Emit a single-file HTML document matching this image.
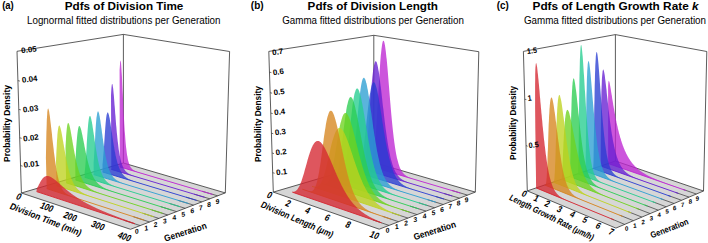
<!DOCTYPE html>
<html><head><meta charset="utf-8"><style>
html,body{margin:0;padding:0;background:#fff;}
body{width:708px;height:243px;overflow:hidden;}
svg{display:block;font-family:"Liberation Sans",sans-serif;}
</style></head><body>
<svg width="708" height="243" viewBox="0 0 708 243">
<polygon points="21.4,193.0 130.5,229.3 225.3,192.9 123.4,163.0" fill="#d6d6d6" stroke="none"/>
<line x1="17.0" y1="51.3" x2="123.4" y2="34.4" stroke="#333" stroke-width="0.8"/>
<line x1="123.4" y1="34.4" x2="229.6" y2="51.5" stroke="#333" stroke-width="0.8"/>
<line x1="21.4" y1="193.0" x2="17.0" y2="51.3" stroke="#333" stroke-width="0.8"/>
<line x1="123.4" y1="163.0" x2="123.4" y2="34.4" stroke="#333" stroke-width="0.8"/>
<line x1="225.3" y1="192.9" x2="229.6" y2="51.5" stroke="#333" stroke-width="0.8"/>
<line x1="123.4" y1="163.0" x2="225.3" y2="192.9" stroke="#333" stroke-width="0.8"/>
<line x1="21.4" y1="193.0" x2="123.4" y2="163.0" stroke="#333" stroke-width="0.8"/>
<line x1="123.7" y1="220.2" x2="140.2" y2="225.6" stroke="#333" stroke-width="0.7"/>
<line x1="133.3" y1="216.7" x2="149.6" y2="222.0" stroke="#333" stroke-width="0.7"/>
<line x1="142.6" y1="213.2" x2="158.8" y2="218.4" stroke="#333" stroke-width="0.7"/>
<line x1="151.7" y1="209.9" x2="167.8" y2="215.0" stroke="#333" stroke-width="0.7"/>
<line x1="160.6" y1="206.6" x2="176.6" y2="211.6" stroke="#333" stroke-width="0.7"/>
<line x1="169.3" y1="203.4" x2="185.2" y2="208.3" stroke="#333" stroke-width="0.7"/>
<line x1="177.8" y1="200.3" x2="193.6" y2="205.1" stroke="#333" stroke-width="0.7"/>
<line x1="186.1" y1="197.2" x2="201.8" y2="201.9" stroke="#333" stroke-width="0.7"/>
<line x1="194.2" y1="194.2" x2="209.8" y2="198.8" stroke="#333" stroke-width="0.7"/>
<line x1="202.2" y1="191.3" x2="217.6" y2="195.8" stroke="#333" stroke-width="0.7"/>
<line x1="20.6" y1="165.6" x2="22.6" y2="166.2" stroke="#333" stroke-width="0.7"/>
<line x1="19.7" y1="137.8" x2="21.7" y2="138.3" stroke="#333" stroke-width="0.7"/>
<line x1="18.8" y1="109.4" x2="20.8" y2="109.9" stroke="#333" stroke-width="0.7"/>
<line x1="17.9" y1="80.6" x2="19.9" y2="81.1" stroke="#333" stroke-width="0.7"/>
<polygon points="119.6,70.1 119.9,65.7 120.1,62.6 120.3,60.9 120.5,60.4 120.7,61.0 121.0,62.6 121.2,65.0 121.4,68.1 121.6,71.8 121.9,75.9 122.1,80.3 122.3,84.9 122.5,89.6 122.8,94.3 123.0,99.0 123.2,103.6 123.4,108.1 123.6,112.4 123.9,116.5 124.1,120.5 124.3,124.2 124.5,127.8 124.7,131.1 125.0,134.2 125.2,137.1 125.4,139.8 125.6,142.3 125.8,144.6 126.0,146.8 126.3,148.8 126.5,150.6 126.7,152.3 126.9,153.8 127.1,155.2 127.4,156.6 127.6,157.8 127.8,158.9 128.0,159.9 128.2,160.8 128.4,161.6 128.7,162.4 128.9,163.1 129.1,163.8 129.3,164.4 129.5,165.0 129.8,165.5 130.0,165.9 130.2,166.4 130.4,166.8 130.6,167.1 130.8,167.5 131.1,167.8 131.3,168.1 131.5,168.3 131.7,168.6 131.9,168.8 132.2,169.0 132.4,169.2 132.6,169.4 132.8,169.6 133.0,169.8 133.3,169.9 133.5,170.1 133.7,170.2 133.9,170.4 134.1,170.5 134.4,170.6 134.6,170.7 134.8,170.8 135.0,171.0 135.2,171.1 135.5,171.2 135.7,171.3 135.9,171.4 136.1,171.4 136.4,171.5 136.6,171.6 136.8,171.7 137.0,171.8 137.2,171.9 137.5,172.0 137.7,172.0 137.9,172.1 138.1,172.2 138.3,172.3 138.6,172.3 138.8,172.4 139.0,172.5 139.2,172.6 139.5,172.6 139.7,172.7 139.9,172.8 140.1,172.9 140.4,172.9 140.6,173.0 140.8,173.1 141.0,173.1 141.2,173.2 141.5,173.3 141.7,173.3 141.9,173.4 142.1,173.5 142.4,173.5 142.6,173.6 142.8,173.7 143.0,173.8 143.3,173.8 143.5,173.9 143.7,174.0 143.9,174.0 144.2,174.1 144.4,174.2 144.6,174.2 144.8,174.3 145.1,174.4 145.3,174.4 145.5,174.5 145.7,174.6 146.0,174.6 146.2,174.7 146.4,174.8 146.6,174.8 146.9,174.9 147.1,175.0 147.3,175.0 147.5,175.1 147.8,175.2 148.0,175.2 148.2,175.3 148.4,175.4 148.7,175.4 148.9,175.5 149.1,175.6 149.3,175.6 149.6,175.7 149.8,175.8 150.0,175.8 150.3,175.9 150.5,176.0 150.7,176.0 150.9,176.1 151.2,176.2 151.4,176.2 151.6,176.3 151.8,176.4 152.1,176.4 152.3,176.5 152.5,176.6 152.8,176.7 153.0,176.7 153.2,176.8 153.4,176.9 153.7,176.9 153.9,177.0 154.1,177.1 154.4,177.1 154.6,177.2 154.8,177.3 155.0,177.3 155.3,177.4 155.5,177.5 155.7,177.5 156.0,177.6 156.2,177.7 156.4,177.7 156.6,177.8 156.9,177.9 157.1,177.9 157.3,178.0 157.6,178.1 157.8,178.1 158.0,178.2 158.2,178.3 158.5,178.3 158.7,178.4 158.9,178.5 159.2,178.6 159.4,178.6 159.6,178.7 159.9,178.8 160.1,178.8 160.3,178.9 160.6,179.0 160.8,179.0 161.0,179.1 161.2,179.2 161.5,179.2 161.7,179.3 161.9,179.4 162.2,179.4 162.4,179.5 162.6,179.6 162.9,179.7 163.1,179.7 163.3,179.8 163.6,179.9 163.8,179.9 164.0,180.0 164.3,180.1 164.5,180.1 164.7,180.2 165.0,180.3 165.2,180.3 165.4,180.4 165.7,180.5 165.9,180.5 166.1,180.6 166.4,180.7 166.6,180.8 166.8,180.8 167.1,180.9 167.3,181.0 167.5,181.0 167.8,181.1 168.0,181.2 168.2,181.2 168.5,181.3 168.7,181.4 168.9,181.4 169.2,181.5 169.4,181.6 169.6,181.7 169.9,181.7 170.1,181.8 170.3,181.9 170.6,181.9 170.8,182.0 171.0,182.1 171.3,182.1 171.5,182.2 171.7,182.3 172.0,182.3 172.2,182.4 172.4,182.5 172.7,182.6 172.9,182.6 173.2,182.7 173.4,182.8 173.6,182.8 173.9,182.9 174.1,183.0 174.3,183.0 174.6,183.1 174.8,183.2 175.0,183.3 175.3,183.3 175.5,183.4 175.8,183.5 176.0,183.5 176.2,183.6 176.5,183.7 176.7,183.7 176.9,183.8 177.2,183.9 177.4,184.0 177.7,184.0 177.9,184.1 178.1,184.2 178.4,184.2 178.6,184.3 178.8,184.4 179.1,184.5 179.3,184.5 179.6,184.6 179.8,184.7 180.0,184.7 180.3,184.8 180.5,184.9 180.7,184.9 181.0,185.0 181.2,185.1 181.5,185.2 181.7,185.2 181.9,185.3 182.2,185.4 182.4,185.4 182.7,185.5 182.9,185.6 183.1,185.7 183.4,185.7 183.6,185.8 183.9,185.9 184.1,185.9 184.3,186.0 184.6,186.1 184.8,186.1 185.1,186.2 185.3,186.3 185.5,186.4 185.8,186.4 186.0,186.5 186.3,186.6 186.5,186.6 186.7,186.7 187.0,186.8 187.2,186.9 187.5,186.9 187.7,187.0 188.0,187.1 188.2,187.1 188.4,187.2 188.7,187.3 188.9,187.4 189.2,187.4 189.4,187.5 189.6,187.6 189.9,187.6 190.1,187.7 190.4,187.8 190.6,187.9 190.9,187.9 191.1,188.0 191.3,188.1 191.6,188.2 191.8,188.2 192.1,188.3 192.3,188.4 192.6,188.4 192.8,188.5 193.1,188.6 193.3,188.7 193.5,188.7 193.8,188.8 194.0,188.9 194.3,188.9 194.5,189.0 194.8,189.1 195.0,189.2 195.3,189.2 195.5,189.3 195.7,189.4 196.0,189.4 196.2,189.5 196.5,189.6 196.7,189.7 197.0,189.7 197.2,189.8 197.5,189.9 197.7,190.0 197.9,190.0 198.2,190.1 198.4,190.2 198.7,190.2 198.9,190.3 199.2,190.4 199.4,190.5 199.7,190.5 199.9,190.6 200.2,190.7 200.4,190.8 200.7,190.8 200.9,190.9 201.1,191.0 201.4,191.0 201.6,191.1 201.9,191.2 202.1,191.3 202.4,191.3 202.6,191.4 202.9,191.5 203.1,191.6 203.4,191.6 203.6,191.7 203.9,191.8 204.1,191.9 204.4,191.9 204.6,192.0 204.9,192.1 205.1,192.1 205.4,192.2 205.6,192.3 205.9,192.4 206.1,192.4 206.4,192.5 206.6,192.6 206.9,192.7 207.1,192.7 207.4,192.8 207.6,192.9 207.9,193.0 208.1,193.0 208.4,193.1 208.6,193.2 208.9,193.3 209.1,193.3 209.4,193.4 209.6,193.5 209.9,193.5 210.1,193.6 210.4,193.7 210.6,193.8 210.9,193.8 211.1,193.9 211.4,194.0 211.6,194.1 211.9,194.1 212.1,194.2 212.4,194.3 212.6,194.4 212.6,194.4 119.8,166.9" fill="#be25d2" fill-opacity="0.78" stroke="none"/>
<line x1="119.8" y1="166.9" x2="212.6" y2="194.4" stroke="#be25d2" stroke-width="0.9"/>
<polygon points="111.0,95.2 111.2,91.4 111.4,88.5 111.6,86.3 111.8,84.8 112.0,84.1 112.3,84.0 112.5,84.5 112.7,85.5 112.9,86.9 113.2,88.8 113.4,90.9 113.6,93.3 113.9,96.0 114.1,98.7 114.3,101.6 114.5,104.6 114.8,107.6 115.0,110.6 115.2,113.5 115.5,116.5 115.7,119.4 115.9,122.2 116.1,124.9 116.4,127.6 116.6,130.1 116.8,132.6 117.1,134.9 117.3,137.2 117.5,139.3 117.7,141.3 118.0,143.3 118.2,145.1 118.4,146.8 118.6,148.5 118.8,150.0 119.1,151.5 119.3,152.9 119.5,154.2 119.7,155.4 120.0,156.6 120.2,157.7 120.4,158.7 120.6,159.6 120.8,160.5 121.1,161.4 121.3,162.2 121.5,162.9 121.7,163.6 122.0,164.3 122.2,164.9 122.4,165.5 122.6,166.1 122.8,166.6 123.1,167.1 123.3,167.5 123.5,168.0 123.7,168.4 124.0,168.8 124.2,169.1 124.4,169.5 124.6,169.8 124.8,170.1 125.1,170.4 125.3,170.7 125.5,170.9 125.7,171.2 125.9,171.4 126.2,171.6 126.4,171.9 126.6,172.1 126.8,172.3 127.1,172.4 127.3,172.6 127.5,172.8 127.7,172.9 128.0,173.1 128.2,173.3 128.4,173.4 128.6,173.5 128.8,173.7 129.1,173.8 129.3,173.9 129.5,174.1 129.7,174.2 130.0,174.3 130.2,174.4 130.4,174.5 130.6,174.6 130.9,174.7 131.1,174.8 131.3,174.9 131.5,175.0 131.8,175.1 132.0,175.2 132.2,175.3 132.4,175.4 132.7,175.5 132.9,175.6 133.1,175.6 133.3,175.7 133.6,175.8 133.8,175.9 134.0,176.0 134.2,176.1 134.5,176.1 134.7,176.2 134.9,176.3 135.1,176.4 135.4,176.5 135.6,176.5 135.8,176.6 136.0,176.7 136.3,176.8 136.5,176.8 136.7,176.9 136.9,177.0 137.2,177.1 137.4,177.1 137.6,177.2 137.8,177.3 138.1,177.3 138.3,177.4 138.5,177.5 138.8,177.6 139.0,177.6 139.2,177.7 139.4,177.8 139.7,177.9 139.9,177.9 140.1,178.0 140.3,178.1 140.6,178.1 140.8,178.2 141.0,178.3 141.3,178.3 141.5,178.4 141.7,178.5 141.9,178.6 142.2,178.6 142.4,178.7 142.6,178.8 142.9,178.8 143.1,178.9 143.3,179.0 143.5,179.0 143.8,179.1 144.0,179.2 144.2,179.3 144.5,179.3 144.7,179.4 144.9,179.5 145.1,179.5 145.4,179.6 145.6,179.7 145.8,179.7 146.1,179.8 146.3,179.9 146.5,179.9 146.8,180.0 147.0,180.1 147.2,180.2 147.4,180.2 147.7,180.3 147.9,180.4 148.1,180.4 148.4,180.5 148.6,180.6 148.8,180.6 149.1,180.7 149.3,180.8 149.5,180.8 149.8,180.9 150.0,181.0 150.2,181.1 150.5,181.1 150.7,181.2 150.9,181.3 151.1,181.3 151.4,181.4 151.6,181.5 151.8,181.5 152.1,181.6 152.3,181.7 152.5,181.8 152.8,181.8 153.0,181.9 153.2,182.0 153.5,182.0 153.7,182.1 153.9,182.2 154.2,182.2 154.4,182.3 154.6,182.4 154.9,182.4 155.1,182.5 155.3,182.6 155.6,182.7 155.8,182.7 156.0,182.8 156.3,182.9 156.5,182.9 156.7,183.0 157.0,183.1 157.2,183.1 157.4,183.2 157.7,183.3 157.9,183.4 158.1,183.4 158.4,183.5 158.6,183.6 158.9,183.6 159.1,183.7 159.3,183.8 159.6,183.9 159.8,183.9 160.0,184.0 160.3,184.1 160.5,184.1 160.7,184.2 161.0,184.3 161.2,184.3 161.4,184.4 161.7,184.5 161.9,184.6 162.2,184.6 162.4,184.7 162.6,184.8 162.9,184.8 163.1,184.9 163.3,185.0 163.6,185.1 163.8,185.1 164.0,185.2 164.3,185.3 164.5,185.3 164.8,185.4 165.0,185.5 165.2,185.5 165.5,185.6 165.7,185.7 165.9,185.8 166.2,185.8 166.4,185.9 166.7,186.0 166.9,186.0 167.1,186.1 167.4,186.2 167.6,186.3 167.9,186.3 168.1,186.4 168.3,186.5 168.6,186.5 168.8,186.6 169.0,186.7 169.3,186.8 169.5,186.8 169.8,186.9 170.0,187.0 170.2,187.0 170.5,187.1 170.7,187.2 171.0,187.3 171.2,187.3 171.4,187.4 171.7,187.5 171.9,187.5 172.2,187.6 172.4,187.7 172.6,187.8 172.9,187.8 173.1,187.9 173.4,188.0 173.6,188.1 173.8,188.1 174.1,188.2 174.3,188.3 174.6,188.3 174.8,188.4 175.1,188.5 175.3,188.6 175.5,188.6 175.8,188.7 176.0,188.8 176.3,188.8 176.5,188.9 176.7,189.0 177.0,189.1 177.2,189.1 177.5,189.2 177.7,189.3 178.0,189.4 178.2,189.4 178.4,189.5 178.7,189.6 178.9,189.6 179.2,189.7 179.4,189.8 179.7,189.9 179.9,189.9 180.1,190.0 180.4,190.1 180.6,190.1 180.9,190.2 181.1,190.3 181.4,190.4 181.6,190.4 181.9,190.5 182.1,190.6 182.3,190.7 182.6,190.7 182.8,190.8 183.1,190.9 183.3,191.0 183.6,191.0 183.8,191.1 184.1,191.2 184.3,191.2 184.5,191.3 184.8,191.4 185.0,191.5 185.3,191.5 185.5,191.6 185.8,191.7 186.0,191.8 186.3,191.8 186.5,191.9 186.8,192.0 187.0,192.1 187.2,192.1 187.5,192.2 187.7,192.3 188.0,192.3 188.2,192.4 188.5,192.5 188.7,192.6 189.0,192.6 189.2,192.7 189.5,192.8 189.7,192.9 190.0,192.9 190.2,193.0 190.5,193.1 190.7,193.2 191.0,193.2 191.2,193.3 191.5,193.4 191.7,193.5 191.9,193.5 192.2,193.6 192.4,193.7 192.7,193.7 192.9,193.8 193.2,193.9 193.4,194.0 193.7,194.0 193.9,194.1 194.2,194.2 194.4,194.3 194.7,194.3 194.9,194.4 195.2,194.5 195.4,194.6 195.7,194.6 195.9,194.7 196.2,194.8 196.4,194.9 196.7,194.9 196.9,195.0 197.2,195.1 197.4,195.2 197.7,195.2 197.9,195.3 198.2,195.4 198.4,195.5 198.7,195.5 198.9,195.6 199.2,195.7 199.4,195.8 199.7,195.8 199.9,195.9 200.2,196.0 200.4,196.1 200.7,196.1 201.0,196.2 201.2,196.3 201.5,196.4 201.7,196.4 202.0,196.5 202.2,196.6 202.5,196.7 202.7,196.7 203.0,196.8 203.2,196.9 203.5,197.0 203.7,197.0 204.0,197.1 204.2,197.2 204.5,197.3 204.7,197.3 204.7,197.3 111.3,169.4" fill="#661fd2" fill-opacity="0.78" stroke="none"/>
<line x1="111.3" y1="169.4" x2="204.7" y2="197.3" stroke="#661fd2" stroke-width="0.9"/>
<polygon points="102.5,164.6 102.7,162.7 102.9,160.6 103.1,158.2 103.3,155.5 103.5,152.7 103.8,149.8 104.0,146.8 104.2,143.7 104.4,140.6 104.6,137.5 104.8,134.5 105.0,131.5 105.2,128.8 105.4,126.2 105.6,123.8 105.8,121.6 106.0,119.6 106.2,117.8 106.4,116.3 106.6,115.1 106.9,114.1 107.1,113.3 107.3,112.8 107.5,112.5 107.7,112.5 108.0,112.6 108.2,112.9 108.4,113.4 108.6,114.1 108.9,114.9 109.1,115.8 109.3,116.9 109.6,118.0 109.8,119.3 110.0,120.6 110.2,122.0 110.5,123.5 110.7,125.0 110.9,126.5 111.2,128.1 111.4,129.7 111.6,131.3 111.9,132.8 112.1,134.4 112.3,136.0 112.5,137.5 112.8,139.1 113.0,140.6 113.2,142.1 113.5,143.5 113.7,144.9 113.9,146.3 114.2,147.6 114.4,148.9 114.6,150.2 114.8,151.4 115.1,152.6 115.3,153.8 115.5,154.9 115.7,155.9 116.0,157.0 116.2,158.0 116.4,158.9 116.7,159.8 116.9,160.7 117.1,161.6 117.3,162.4 117.6,163.2 117.8,163.9 118.0,164.6 118.2,165.3 118.5,166.0 118.7,166.6 118.9,167.2 119.1,167.8 119.4,168.3 119.6,168.9 119.8,169.4 120.0,169.8 120.3,170.3 120.5,170.8 120.7,171.2 120.9,171.6 121.2,172.0 121.4,172.3 121.6,172.7 121.8,173.0 122.1,173.4 122.3,173.7 122.5,174.0 122.8,174.3 123.0,174.5 123.2,174.8 123.4,175.1 123.7,175.3 123.9,175.5 124.1,175.8 124.3,176.0 124.6,176.2 124.8,176.4 125.0,176.6 125.2,176.8 125.5,177.0 125.7,177.1 125.9,177.3 126.2,177.5 126.4,177.6 126.6,177.8 126.8,177.9 127.1,178.1 127.3,178.2 127.5,178.3 127.7,178.5 128.0,178.6 128.2,178.7 128.4,178.9 128.7,179.0 128.9,179.1 129.1,179.2 129.3,179.3 129.6,179.4 129.8,179.5 130.0,179.6 130.3,179.7 130.5,179.8 130.7,179.9 130.9,180.0 131.2,180.1 131.4,180.2 131.6,180.3 131.9,180.4 132.1,180.5 132.3,180.6 132.5,180.7 132.8,180.8 133.0,180.9 133.2,180.9 133.5,181.0 133.7,181.1 133.9,181.2 134.2,181.3 134.4,181.4 134.6,181.4 134.8,181.5 135.1,181.6 135.3,181.7 135.5,181.8 135.8,181.8 136.0,181.9 136.2,182.0 136.5,182.1 136.7,182.2 136.9,182.2 137.1,182.3 137.4,182.4 137.6,182.5 137.8,182.5 138.1,182.6 138.3,182.7 138.5,182.8 138.8,182.8 139.0,182.9 139.2,183.0 139.5,183.1 139.7,183.1 139.9,183.2 140.2,183.3 140.4,183.3 140.6,183.4 140.9,183.5 141.1,183.6 141.3,183.6 141.6,183.7 141.8,183.8 142.0,183.9 142.3,183.9 142.5,184.0 142.7,184.1 143.0,184.1 143.2,184.2 143.4,184.3 143.7,184.4 143.9,184.4 144.1,184.5 144.4,184.6 144.6,184.7 144.8,184.7 145.1,184.8 145.3,184.9 145.5,184.9 145.8,185.0 146.0,185.1 146.2,185.2 146.5,185.2 146.7,185.3 146.9,185.4 147.2,185.4 147.4,185.5 147.7,185.6 147.9,185.7 148.1,185.7 148.4,185.8 148.6,185.9 148.8,185.9 149.1,186.0 149.3,186.1 149.5,186.2 149.8,186.2 150.0,186.3 150.2,186.4 150.5,186.4 150.7,186.5 151.0,186.6 151.2,186.7 151.4,186.7 151.7,186.8 151.9,186.9 152.1,186.9 152.4,187.0 152.6,187.1 152.9,187.2 153.1,187.2 153.3,187.3 153.6,187.4 153.8,187.5 154.0,187.5 154.3,187.6 154.5,187.7 154.8,187.7 155.0,187.8 155.2,187.9 155.5,188.0 155.7,188.0 155.9,188.1 156.2,188.2 156.4,188.2 156.7,188.3 156.9,188.4 157.1,188.5 157.4,188.5 157.6,188.6 157.9,188.7 158.1,188.8 158.3,188.8 158.6,188.9 158.8,189.0 159.1,189.0 159.3,189.1 159.5,189.2 159.8,189.3 160.0,189.3 160.3,189.4 160.5,189.5 160.7,189.6 161.0,189.6 161.2,189.7 161.5,189.8 161.7,189.8 161.9,189.9 162.2,190.0 162.4,190.1 162.7,190.1 162.9,190.2 163.2,190.3 163.4,190.4 163.6,190.4 163.9,190.5 164.1,190.6 164.4,190.6 164.6,190.7 164.8,190.8 165.1,190.9 165.3,190.9 165.6,191.0 165.8,191.1 166.1,191.2 166.3,191.2 166.5,191.3 166.8,191.4 167.0,191.4 167.3,191.5 167.5,191.6 167.8,191.7 168.0,191.7 168.3,191.8 168.5,191.9 168.7,192.0 169.0,192.0 169.2,192.1 169.5,192.2 169.7,192.3 170.0,192.3 170.2,192.4 170.4,192.5 170.7,192.6 170.9,192.6 171.2,192.7 171.4,192.8 171.7,192.8 171.9,192.9 172.2,193.0 172.4,193.1 172.7,193.1 172.9,193.2 173.1,193.3 173.4,193.4 173.6,193.4 173.9,193.5 174.1,193.6 174.4,193.7 174.6,193.7 174.9,193.8 175.1,193.9 175.4,194.0 175.6,194.0 175.9,194.1 176.1,194.2 176.3,194.3 176.6,194.3 176.8,194.4 177.1,194.5 177.3,194.6 177.6,194.6 177.8,194.7 178.1,194.8 178.3,194.9 178.6,194.9 178.8,195.0 179.1,195.1 179.3,195.2 179.6,195.2 179.8,195.3 180.1,195.4 180.3,195.5 180.6,195.5 180.8,195.6 181.1,195.7 181.3,195.8 181.6,195.8 181.8,195.9 182.1,196.0 182.3,196.1 182.6,196.1 182.8,196.2 183.1,196.3 183.3,196.4 183.6,196.4 183.8,196.5 184.1,196.6 184.3,196.7 184.6,196.7 184.8,196.8 185.1,196.9 185.3,197.0 185.6,197.0 185.8,197.1 186.1,197.2 186.3,197.3 186.6,197.3 186.8,197.4 187.1,197.5 187.3,197.6 187.6,197.6 187.8,197.7 188.1,197.8 188.3,197.9 188.6,197.9 188.8,198.0 189.1,198.1 189.3,198.2 189.6,198.3 189.8,198.3 190.1,198.4 190.3,198.5 190.6,198.6 190.8,198.6 191.1,198.7 191.3,198.8 191.6,198.9 191.9,198.9 192.1,199.0 192.4,199.1 192.6,199.2 192.9,199.2 193.1,199.3 193.4,199.4 193.6,199.5 193.9,199.5 194.1,199.6 194.4,199.7 194.6,199.8 194.9,199.9 195.2,199.9 195.4,200.0 195.7,200.1 195.9,200.2 196.2,200.2 196.4,200.3 196.7,200.4 196.7,200.4 102.6,172.0" fill="#293dd2" fill-opacity="0.78" stroke="none"/>
<line x1="102.6" y1="172.0" x2="196.7" y2="200.4" stroke="#293dd2" stroke-width="0.9"/>
<polygon points="93.6,162.8 93.8,160.2 94.0,157.2 94.2,154.1 94.4,150.8 94.6,147.3 94.8,143.8 95.0,140.3 95.2,136.9 95.3,133.6 95.5,130.4 95.7,127.3 95.9,124.5 96.1,121.9 96.3,119.6 96.5,117.6 96.8,115.9 97.0,114.4 97.2,113.2 97.4,112.4 97.6,111.8 97.8,111.4 98.1,111.3 98.3,111.5 98.5,111.9 98.7,112.5 99.0,113.2 99.2,114.2 99.4,115.3 99.7,116.5 99.9,117.9 100.1,119.3 100.4,120.8 100.6,122.4 100.8,124.1 101.1,125.7 101.3,127.5 101.6,129.2 101.8,130.9 102.0,132.7 102.3,134.4 102.5,136.2 102.7,137.9 103.0,139.6 103.2,141.2 103.4,142.8 103.7,144.4 103.9,146.0 104.2,147.5 104.4,148.9 104.6,150.3 104.9,151.7 105.1,153.0 105.3,154.3 105.5,155.6 105.8,156.7 106.0,157.9 106.2,159.0 106.5,160.1 106.7,161.1 106.9,162.0 107.2,163.0 107.4,163.9 107.6,164.7 107.9,165.5 108.1,166.3 108.3,167.1 108.5,167.8 108.8,168.5 109.0,169.1 109.2,169.7 109.5,170.3 109.7,170.9 109.9,171.4 110.1,172.0 110.4,172.4 110.6,172.9 110.8,173.4 111.1,173.8 111.3,174.2 111.5,174.6 111.7,175.0 112.0,175.3 112.2,175.7 112.4,176.0 112.6,176.3 112.9,176.6 113.1,176.9 113.3,177.2 113.6,177.4 113.8,177.7 114.0,177.9 114.2,178.2 114.5,178.4 114.7,178.6 114.9,178.8 115.2,179.0 115.4,179.2 115.6,179.4 115.8,179.6 116.1,179.7 116.3,179.9 116.5,180.1 116.8,180.2 117.0,180.4 117.2,180.5 117.4,180.6 117.7,180.8 117.9,180.9 118.1,181.0 118.4,181.2 118.6,181.3 118.8,181.4 119.0,181.5 119.3,181.6 119.5,181.8 119.7,181.9 120.0,182.0 120.2,182.1 120.4,182.2 120.6,182.3 120.9,182.4 121.1,182.5 121.3,182.6 121.6,182.7 121.8,182.8 122.0,182.9 122.3,183.0 122.5,183.0 122.7,183.1 123.0,183.2 123.2,183.3 123.4,183.4 123.6,183.5 123.9,183.6 124.1,183.7 124.3,183.7 124.6,183.8 124.8,183.9 125.0,184.0 125.3,184.1 125.5,184.1 125.7,184.2 126.0,184.3 126.2,184.4 126.4,184.5 126.7,184.5 126.9,184.6 127.1,184.7 127.3,184.8 127.6,184.8 127.8,184.9 128.0,185.0 128.3,185.1 128.5,185.1 128.7,185.2 129.0,185.3 129.2,185.4 129.4,185.4 129.7,185.5 129.9,185.6 130.1,185.7 130.4,185.7 130.6,185.8 130.8,185.9 131.1,186.0 131.3,186.0 131.5,186.1 131.8,186.2 132.0,186.3 132.2,186.3 132.5,186.4 132.7,186.5 133.0,186.6 133.2,186.6 133.4,186.7 133.7,186.8 133.9,186.8 134.1,186.9 134.4,187.0 134.6,187.1 134.8,187.1 135.1,187.2 135.3,187.3 135.5,187.4 135.8,187.4 136.0,187.5 136.2,187.6 136.5,187.6 136.7,187.7 137.0,187.8 137.2,187.9 137.4,187.9 137.7,188.0 137.9,188.1 138.1,188.2 138.4,188.2 138.6,188.3 138.8,188.4 139.1,188.4 139.3,188.5 139.6,188.6 139.8,188.7 140.0,188.7 140.3,188.8 140.5,188.9 140.7,189.0 141.0,189.0 141.2,189.1 141.5,189.2 141.7,189.2 141.9,189.3 142.2,189.4 142.4,189.5 142.6,189.5 142.9,189.6 143.1,189.7 143.4,189.8 143.6,189.8 143.8,189.9 144.1,190.0 144.3,190.1 144.6,190.1 144.8,190.2 145.0,190.3 145.3,190.3 145.5,190.4 145.8,190.5 146.0,190.6 146.2,190.6 146.5,190.7 146.7,190.8 147.0,190.9 147.2,190.9 147.4,191.0 147.7,191.1 147.9,191.1 148.2,191.2 148.4,191.3 148.6,191.4 148.9,191.4 149.1,191.5 149.4,191.6 149.6,191.7 149.8,191.7 150.1,191.8 150.3,191.9 150.6,192.0 150.8,192.0 151.0,192.1 151.3,192.2 151.5,192.3 151.8,192.3 152.0,192.4 152.3,192.5 152.5,192.6 152.7,192.6 153.0,192.7 153.2,192.8 153.5,192.8 153.7,192.9 154.0,193.0 154.2,193.1 154.4,193.1 154.7,193.2 154.9,193.3 155.2,193.4 155.4,193.4 155.7,193.5 155.9,193.6 156.1,193.7 156.4,193.7 156.6,193.8 156.9,193.9 157.1,194.0 157.4,194.0 157.6,194.1 157.9,194.2 158.1,194.3 158.3,194.3 158.6,194.4 158.8,194.5 159.1,194.6 159.3,194.6 159.6,194.7 159.8,194.8 160.1,194.9 160.3,194.9 160.6,195.0 160.8,195.1 161.0,195.2 161.3,195.2 161.5,195.3 161.8,195.4 162.0,195.5 162.3,195.5 162.5,195.6 162.8,195.7 163.0,195.8 163.3,195.8 163.5,195.9 163.8,196.0 164.0,196.1 164.2,196.1 164.5,196.2 164.7,196.3 165.0,196.4 165.2,196.4 165.5,196.5 165.7,196.6 166.0,196.7 166.2,196.7 166.5,196.8 166.7,196.9 167.0,197.0 167.2,197.0 167.5,197.1 167.7,197.2 168.0,197.3 168.2,197.3 168.5,197.4 168.7,197.5 169.0,197.6 169.2,197.6 169.5,197.7 169.7,197.8 170.0,197.9 170.2,198.0 170.5,198.0 170.7,198.1 171.0,198.2 171.2,198.3 171.5,198.3 171.7,198.4 172.0,198.5 172.2,198.6 172.5,198.6 172.7,198.7 173.0,198.8 173.2,198.9 173.5,198.9 173.7,199.0 174.0,199.1 174.2,199.2 174.5,199.3 174.7,199.3 175.0,199.4 175.2,199.5 175.5,199.6 175.7,199.6 176.0,199.7 176.2,199.8 176.5,199.9 176.7,199.9 177.0,200.0 177.2,200.1 177.5,200.2 177.7,200.2 178.0,200.3 178.3,200.4 178.5,200.5 178.8,200.6 179.0,200.6 179.3,200.7 179.5,200.8 179.8,200.9 180.0,200.9 180.3,201.0 180.5,201.1 180.8,201.2 181.0,201.3 181.3,201.3 181.5,201.4 181.8,201.5 182.1,201.6 182.3,201.6 182.6,201.7 182.8,201.8 183.1,201.9 183.3,202.0 183.6,202.0 183.8,202.1 184.1,202.2 184.4,202.3 184.6,202.3 184.9,202.4 185.1,202.5 185.4,202.6 185.6,202.7 185.9,202.7 186.1,202.8 186.4,202.9 186.7,203.0 186.9,203.0 187.2,203.1 187.4,203.2 187.7,203.3 187.9,203.4 188.2,203.4 188.5,203.5 188.5,203.5 93.7,174.6" fill="#2b9fd2" fill-opacity="0.78" stroke="none"/>
<line x1="93.7" y1="174.6" x2="188.5" y2="203.5" stroke="#2b9fd2" stroke-width="0.9"/>
<polygon points="84.6,172.4 84.8,170.9 85.0,169.1 85.2,167.1 85.4,164.8 85.6,162.3 85.8,159.6 86.0,156.7 86.2,153.7 86.4,150.6 86.6,147.4 86.7,144.2 86.9,141.1 87.1,138.0 87.3,135.1 87.5,132.2 87.7,129.6 87.9,127.2 88.1,124.9 88.3,122.9 88.5,121.2 88.7,119.7 88.9,118.4 89.1,117.5 89.3,116.7 89.6,116.2 89.8,116.0 90.0,115.9 90.2,116.1 90.5,116.5 90.7,117.1 90.9,117.8 91.2,118.7 91.4,119.7 91.6,120.9 91.9,122.1 92.1,123.5 92.4,124.9 92.6,126.4 92.8,128.0 93.1,129.6 93.3,131.2 93.6,132.9 93.8,134.5 94.1,136.2 94.3,137.9 94.5,139.5 94.8,141.2 95.0,142.8 95.3,144.4 95.5,146.0 95.7,147.5 96.0,149.0 96.2,150.5 96.5,152.0 96.7,153.3 96.9,154.7 97.2,156.0 97.4,157.3 97.7,158.5 97.9,159.7 98.1,160.8 98.4,161.9 98.6,163.0 98.8,164.0 99.1,165.0 99.3,165.9 99.5,166.8 99.8,167.7 100.0,168.5 100.2,169.3 100.5,170.0 100.7,170.7 100.9,171.4 101.2,172.1 101.4,172.7 101.6,173.3 101.9,173.9 102.1,174.5 102.3,175.0 102.6,175.5 102.8,176.0 103.0,176.4 103.2,176.9 103.5,177.3 103.7,177.7 103.9,178.0 104.2,178.4 104.4,178.8 104.6,179.1 104.9,179.4 105.1,179.7 105.3,180.0 105.6,180.3 105.8,180.6 106.0,180.8 106.2,181.1 106.5,181.3 106.7,181.5 106.9,181.7 107.2,182.0 107.4,182.2 107.6,182.3 107.9,182.5 108.1,182.7 108.3,182.9 108.5,183.1 108.8,183.2 109.0,183.4 109.2,183.5 109.5,183.7 109.7,183.8 109.9,184.0 110.2,184.1 110.4,184.2 110.6,184.4 110.9,184.5 111.1,184.6 111.3,184.7 111.5,184.8 111.8,185.0 112.0,185.1 112.2,185.2 112.5,185.3 112.7,185.4 112.9,185.5 113.2,185.6 113.4,185.7 113.6,185.8 113.9,185.9 114.1,186.0 114.3,186.1 114.6,186.2 114.8,186.3 115.0,186.3 115.3,186.4 115.5,186.5 115.7,186.6 116.0,186.7 116.2,186.8 116.4,186.9 116.7,187.0 116.9,187.0 117.1,187.1 117.4,187.2 117.6,187.3 117.8,187.4 118.1,187.4 118.3,187.5 118.5,187.6 118.8,187.7 119.0,187.8 119.2,187.8 119.5,187.9 119.7,188.0 119.9,188.1 120.2,188.2 120.4,188.2 120.6,188.3 120.9,188.4 121.1,188.5 121.3,188.5 121.6,188.6 121.8,188.7 122.0,188.8 122.3,188.8 122.5,188.9 122.7,189.0 123.0,189.1 123.2,189.1 123.4,189.2 123.7,189.3 123.9,189.4 124.2,189.4 124.4,189.5 124.6,189.6 124.9,189.7 125.1,189.7 125.3,189.8 125.6,189.9 125.8,190.0 126.0,190.0 126.3,190.1 126.5,190.2 126.8,190.3 127.0,190.3 127.2,190.4 127.5,190.5 127.7,190.6 127.9,190.6 128.2,190.7 128.4,190.8 128.7,190.8 128.9,190.9 129.1,191.0 129.4,191.1 129.6,191.1 129.8,191.2 130.1,191.3 130.3,191.4 130.6,191.4 130.8,191.5 131.0,191.6 131.3,191.7 131.5,191.7 131.8,191.8 132.0,191.9 132.2,192.0 132.5,192.0 132.7,192.1 133.0,192.2 133.2,192.3 133.4,192.3 133.7,192.4 133.9,192.5 134.2,192.6 134.4,192.6 134.6,192.7 134.9,192.8 135.1,192.9 135.4,192.9 135.6,193.0 135.8,193.1 136.1,193.1 136.3,193.2 136.6,193.3 136.8,193.4 137.0,193.4 137.3,193.5 137.5,193.6 137.8,193.7 138.0,193.7 138.2,193.8 138.5,193.9 138.7,194.0 139.0,194.0 139.2,194.1 139.5,194.2 139.7,194.3 139.9,194.3 140.2,194.4 140.4,194.5 140.7,194.6 140.9,194.6 141.2,194.7 141.4,194.8 141.6,194.9 141.9,194.9 142.1,195.0 142.4,195.1 142.6,195.2 142.9,195.2 143.1,195.3 143.3,195.4 143.6,195.5 143.8,195.5 144.1,195.6 144.3,195.7 144.6,195.8 144.8,195.8 145.1,195.9 145.3,196.0 145.5,196.1 145.8,196.1 146.0,196.2 146.3,196.3 146.5,196.4 146.8,196.4 147.0,196.5 147.3,196.6 147.5,196.7 147.7,196.8 148.0,196.8 148.2,196.9 148.5,197.0 148.7,197.1 149.0,197.1 149.2,197.2 149.5,197.3 149.7,197.4 150.0,197.4 150.2,197.5 150.5,197.6 150.7,197.7 151.0,197.7 151.2,197.8 151.4,197.9 151.7,198.0 151.9,198.0 152.2,198.1 152.4,198.2 152.7,198.3 152.9,198.3 153.2,198.4 153.4,198.5 153.7,198.6 153.9,198.7 154.2,198.7 154.4,198.8 154.7,198.9 154.9,199.0 155.2,199.0 155.4,199.1 155.7,199.2 155.9,199.3 156.2,199.3 156.4,199.4 156.7,199.5 156.9,199.6 157.2,199.7 157.4,199.7 157.7,199.8 157.9,199.9 158.2,200.0 158.4,200.0 158.7,200.1 158.9,200.2 159.2,200.3 159.4,200.3 159.7,200.4 159.9,200.5 160.2,200.6 160.4,200.7 160.7,200.7 160.9,200.8 161.2,200.9 161.4,201.0 161.7,201.0 161.9,201.1 162.2,201.2 162.4,201.3 162.7,201.4 162.9,201.4 163.2,201.5 163.4,201.6 163.7,201.7 163.9,201.7 164.2,201.8 164.4,201.9 164.7,202.0 164.9,202.1 165.2,202.1 165.4,202.2 165.7,202.3 165.9,202.4 166.2,202.4 166.5,202.5 166.7,202.6 167.0,202.7 167.2,202.8 167.5,202.8 167.7,202.9 168.0,203.0 168.2,203.1 168.5,203.1 168.7,203.2 169.0,203.3 169.2,203.4 169.5,203.5 169.8,203.5 170.0,203.6 170.3,203.7 170.5,203.8 170.8,203.9 171.0,203.9 171.3,204.0 171.5,204.1 171.8,204.2 172.1,204.2 172.3,204.3 172.6,204.4 172.8,204.5 173.1,204.6 173.3,204.6 173.6,204.7 173.8,204.8 174.1,204.9 174.4,205.0 174.6,205.0 174.9,205.1 175.1,205.2 175.4,205.3 175.6,205.4 175.9,205.4 176.2,205.5 176.4,205.6 176.7,205.7 176.9,205.7 177.2,205.8 177.4,205.9 177.7,206.0 178.0,206.1 178.2,206.1 178.5,206.2 178.7,206.3 179.0,206.4 179.3,206.5 179.5,206.5 179.8,206.6 180.0,206.7 180.0,206.7 84.7,177.3" fill="#25cd8f" fill-opacity="0.78" stroke="none"/>
<line x1="84.7" y1="177.3" x2="180.0" y2="206.7" stroke="#25cd8f" stroke-width="0.9"/>
<polygon points="75.2,162.7 75.4,160.1 75.6,157.3 75.8,154.5 76.0,151.7 76.1,148.9 76.3,146.3 76.5,143.7 76.7,141.2 76.9,138.9 77.1,136.8 77.3,134.8 77.5,133.0 77.7,131.5 77.9,130.1 78.1,128.9 78.3,128.0 78.5,127.2 78.7,126.6 78.9,126.3 79.2,126.0 79.4,126.0 79.6,126.1 79.8,126.4 80.1,126.7 80.3,127.3 80.5,127.9 80.8,128.6 81.0,129.4 81.3,130.3 81.5,131.3 81.7,132.3 82.0,133.4 82.2,134.5 82.5,135.7 82.7,136.9 82.9,138.1 83.2,139.3 83.4,140.6 83.7,141.8 83.9,143.1 84.2,144.3 84.4,145.6 84.6,146.8 84.9,148.0 85.1,149.2 85.4,150.4 85.6,151.6 85.8,152.8 86.1,153.9 86.3,155.0 86.6,156.1 86.8,157.2 87.0,158.2 87.3,159.2 87.5,160.2 87.8,161.2 88.0,162.1 88.2,163.0 88.5,163.9 88.7,164.8 88.9,165.6 89.2,166.4 89.4,167.2 89.7,167.9 89.9,168.7 90.1,169.4 90.4,170.1 90.6,170.7 90.8,171.4 91.1,172.0 91.3,172.6 91.5,173.2 91.8,173.7 92.0,174.3 92.2,174.8 92.5,175.3 92.7,175.8 92.9,176.3 93.2,176.7 93.4,177.2 93.6,177.6 93.9,178.0 94.1,178.4 94.3,178.8 94.6,179.2 94.8,179.5 95.0,179.9 95.3,180.2 95.5,180.5 95.7,180.9 96.0,181.2 96.2,181.5 96.4,181.7 96.7,182.0 96.9,182.3 97.1,182.5 97.4,182.8 97.6,183.0 97.8,183.3 98.1,183.5 98.3,183.7 98.5,183.9 98.8,184.2 99.0,184.4 99.2,184.6 99.5,184.8 99.7,184.9 99.9,185.1 100.1,185.3 100.4,185.5 100.6,185.6 100.8,185.8 101.1,186.0 101.3,186.1 101.5,186.3 101.8,186.4 102.0,186.6 102.2,186.7 102.5,186.9 102.7,187.0 102.9,187.1 103.2,187.3 103.4,187.4 103.6,187.5 103.9,187.7 104.1,187.8 104.3,187.9 104.6,188.0 104.8,188.1 105.0,188.3 105.3,188.4 105.5,188.5 105.7,188.6 106.0,188.7 106.2,188.8 106.4,188.9 106.7,189.0 106.9,189.1 107.2,189.2 107.4,189.3 107.6,189.4 107.9,189.5 108.1,189.6 108.3,189.7 108.6,189.8 108.8,189.9 109.0,190.0 109.3,190.1 109.5,190.2 109.7,190.3 110.0,190.4 110.2,190.5 110.4,190.6 110.7,190.6 110.9,190.7 111.1,190.8 111.4,190.9 111.6,191.0 111.9,191.1 112.1,191.2 112.3,191.3 112.6,191.3 112.8,191.4 113.0,191.5 113.3,191.6 113.5,191.7 113.7,191.8 114.0,191.8 114.2,191.9 114.5,192.0 114.7,192.1 114.9,192.2 115.2,192.2 115.4,192.3 115.6,192.4 115.9,192.5 116.1,192.6 116.4,192.7 116.6,192.7 116.8,192.8 117.1,192.9 117.3,193.0 117.6,193.0 117.8,193.1 118.0,193.2 118.3,193.3 118.5,193.4 118.7,193.4 119.0,193.5 119.2,193.6 119.5,193.7 119.7,193.8 119.9,193.8 120.2,193.9 120.4,194.0 120.7,194.1 120.9,194.1 121.1,194.2 121.4,194.3 121.6,194.4 121.9,194.5 122.1,194.5 122.3,194.6 122.6,194.7 122.8,194.8 123.1,194.8 123.3,194.9 123.5,195.0 123.8,195.1 124.0,195.1 124.3,195.2 124.5,195.3 124.7,195.4 125.0,195.5 125.2,195.5 125.5,195.6 125.7,195.7 126.0,195.8 126.2,195.8 126.4,195.9 126.7,196.0 126.9,196.1 127.2,196.1 127.4,196.2 127.7,196.3 127.9,196.4 128.1,196.4 128.4,196.5 128.6,196.6 128.9,196.7 129.1,196.8 129.4,196.8 129.6,196.9 129.8,197.0 130.1,197.1 130.3,197.1 130.6,197.2 130.8,197.3 131.1,197.4 131.3,197.4 131.5,197.5 131.8,197.6 132.0,197.7 132.3,197.8 132.5,197.8 132.8,197.9 133.0,198.0 133.3,198.1 133.5,198.1 133.7,198.2 134.0,198.3 134.2,198.4 134.5,198.4 134.7,198.5 135.0,198.6 135.2,198.7 135.5,198.7 135.7,198.8 136.0,198.9 136.2,199.0 136.4,199.1 136.7,199.1 136.9,199.2 137.2,199.3 137.4,199.4 137.7,199.4 137.9,199.5 138.2,199.6 138.4,199.7 138.7,199.8 138.9,199.8 139.2,199.9 139.4,200.0 139.7,200.1 139.9,200.1 140.2,200.2 140.4,200.3 140.6,200.4 140.9,200.4 141.1,200.5 141.4,200.6 141.6,200.7 141.9,200.8 142.1,200.8 142.4,200.9 142.6,201.0 142.9,201.1 143.1,201.1 143.4,201.2 143.6,201.3 143.9,201.4 144.1,201.5 144.4,201.5 144.6,201.6 144.9,201.7 145.1,201.8 145.4,201.8 145.6,201.9 145.9,202.0 146.1,202.1 146.4,202.2 146.6,202.2 146.9,202.3 147.1,202.4 147.4,202.5 147.6,202.6 147.9,202.6 148.1,202.7 148.4,202.8 148.6,202.9 148.9,202.9 149.1,203.0 149.4,203.1 149.6,203.2 149.9,203.3 150.1,203.3 150.4,203.4 150.6,203.5 150.9,203.6 151.1,203.7 151.4,203.7 151.7,203.8 151.9,203.9 152.2,204.0 152.4,204.0 152.7,204.1 152.9,204.2 153.2,204.3 153.4,204.4 153.7,204.4 153.9,204.5 154.2,204.6 154.4,204.7 154.7,204.8 154.9,204.8 155.2,204.9 155.5,205.0 155.7,205.1 156.0,205.2 156.2,205.2 156.5,205.3 156.7,205.4 157.0,205.5 157.2,205.5 157.5,205.6 157.7,205.7 158.0,205.8 158.3,205.9 158.5,205.9 158.8,206.0 159.0,206.1 159.3,206.2 159.5,206.3 159.8,206.3 160.0,206.4 160.3,206.5 160.6,206.6 160.8,206.7 161.1,206.7 161.3,206.8 161.6,206.9 161.8,207.0 162.1,207.1 162.3,207.1 162.6,207.2 162.9,207.3 163.1,207.4 163.4,207.5 163.6,207.5 163.9,207.6 164.1,207.7 164.4,207.8 164.7,207.9 164.9,207.9 165.2,208.0 165.4,208.1 165.7,208.2 166.0,208.3 166.2,208.4 166.5,208.4 166.7,208.5 167.0,208.6 167.2,208.7 167.5,208.8 167.8,208.8 168.0,208.9 168.3,209.0 168.5,209.1 168.8,209.2 169.1,209.2 169.3,209.3 169.6,209.4 169.8,209.5 170.1,209.6 170.4,209.6 170.6,209.7 170.9,209.8 171.1,209.9 171.4,210.0 171.4,210.0 75.5,180.0" fill="#2bcd52" fill-opacity="0.78" stroke="none"/>
<line x1="75.5" y1="180.0" x2="171.4" y2="210.0" stroke="#2bcd52" stroke-width="0.9"/>
<polygon points="65.5,148.8 65.6,145.4 65.8,142.2 66.0,139.1 66.1,136.3 66.3,133.8 66.5,131.5 66.7,129.5 66.9,127.8 67.1,126.3 67.3,125.1 67.5,124.2 67.7,123.6 67.9,123.2 68.2,123.0 68.4,123.1 68.6,123.3 68.9,123.7 69.1,124.3 69.3,125.1 69.6,125.9 69.8,126.9 70.1,128.0 70.3,129.2 70.6,130.4 70.8,131.7 71.0,133.1 71.3,134.5 71.5,135.9 71.8,137.3 72.0,138.8 72.3,140.3 72.5,141.7 72.8,143.2 73.0,144.7 73.3,146.1 73.5,147.5 73.8,148.9 74.0,150.3 74.3,151.6 74.5,153.0 74.8,154.3 75.0,155.5 75.3,156.8 75.5,158.0 75.8,159.1 76.0,160.3 76.3,161.4 76.5,162.4 76.8,163.5 77.0,164.5 77.2,165.4 77.5,166.4 77.7,167.3 78.0,168.2 78.2,169.0 78.4,169.8 78.7,170.6 78.9,171.4 79.2,172.1 79.4,172.8 79.6,173.5 79.9,174.2 80.1,174.8 80.3,175.4 80.6,176.0 80.8,176.6 81.1,177.1 81.3,177.6 81.5,178.1 81.8,178.6 82.0,179.1 82.2,179.6 82.5,180.0 82.7,180.4 82.9,180.8 83.2,181.2 83.4,181.6 83.6,182.0 83.9,182.3 84.1,182.7 84.3,183.0 84.6,183.3 84.8,183.6 85.0,183.9 85.3,184.2 85.5,184.5 85.7,184.7 86.0,185.0 86.2,185.2 86.4,185.5 86.7,185.7 86.9,186.0 87.1,186.2 87.4,186.4 87.6,186.6 87.8,186.8 88.1,187.0 88.3,187.2 88.5,187.4 88.8,187.6 89.0,187.7 89.2,187.9 89.5,188.1 89.7,188.3 89.9,188.4 90.2,188.6 90.4,188.7 90.6,188.9 90.9,189.0 91.1,189.2 91.3,189.3 91.6,189.4 91.8,189.6 92.1,189.7 92.3,189.8 92.5,190.0 92.8,190.1 93.0,190.2 93.2,190.3 93.5,190.4 93.7,190.6 93.9,190.7 94.2,190.8 94.4,190.9 94.6,191.0 94.9,191.1 95.1,191.2 95.3,191.3 95.6,191.4 95.8,191.5 96.0,191.6 96.3,191.7 96.5,191.8 96.7,191.9 97.0,192.0 97.2,192.1 97.5,192.2 97.7,192.3 97.9,192.4 98.2,192.5 98.4,192.6 98.6,192.7 98.9,192.8 99.1,192.9 99.3,193.0 99.6,193.1 99.8,193.1 100.0,193.2 100.3,193.3 100.5,193.4 100.8,193.5 101.0,193.6 101.2,193.7 101.5,193.8 101.7,193.8 101.9,193.9 102.2,194.0 102.4,194.1 102.7,194.2 102.9,194.3 103.1,194.3 103.4,194.4 103.6,194.5 103.8,194.6 104.1,194.7 104.3,194.8 104.6,194.8 104.8,194.9 105.0,195.0 105.3,195.1 105.5,195.2 105.8,195.2 106.0,195.3 106.2,195.4 106.5,195.5 106.7,195.6 106.9,195.6 107.2,195.7 107.4,195.8 107.7,195.9 107.9,196.0 108.1,196.0 108.4,196.1 108.6,196.2 108.9,196.3 109.1,196.3 109.3,196.4 109.6,196.5 109.8,196.6 110.1,196.7 110.3,196.7 110.5,196.8 110.8,196.9 111.0,197.0 111.3,197.1 111.5,197.1 111.8,197.2 112.0,197.3 112.2,197.4 112.5,197.4 112.7,197.5 113.0,197.6 113.2,197.7 113.4,197.8 113.7,197.8 113.9,197.9 114.2,198.0 114.4,198.1 114.7,198.1 114.9,198.2 115.1,198.3 115.4,198.4 115.6,198.5 115.9,198.5 116.1,198.6 116.4,198.7 116.6,198.8 116.8,198.8 117.1,198.9 117.3,199.0 117.6,199.1 117.8,199.2 118.1,199.2 118.3,199.3 118.5,199.4 118.8,199.5 119.0,199.5 119.3,199.6 119.5,199.7 119.8,199.8 120.0,199.9 120.3,199.9 120.5,200.0 120.7,200.1 121.0,200.2 121.2,200.2 121.5,200.3 121.7,200.4 122.0,200.5 122.2,200.6 122.5,200.6 122.7,200.7 123.0,200.8 123.2,200.9 123.4,200.9 123.7,201.0 123.9,201.1 124.2,201.2 124.4,201.3 124.7,201.3 124.9,201.4 125.2,201.5 125.4,201.6 125.7,201.7 125.9,201.7 126.2,201.8 126.4,201.9 126.7,202.0 126.9,202.0 127.2,202.1 127.4,202.2 127.6,202.3 127.9,202.4 128.1,202.4 128.4,202.5 128.6,202.6 128.9,202.7 129.1,202.7 129.4,202.8 129.6,202.9 129.9,203.0 130.1,203.1 130.4,203.1 130.6,203.2 130.9,203.3 131.1,203.4 131.4,203.5 131.6,203.5 131.9,203.6 132.1,203.7 132.4,203.8 132.6,203.9 132.9,203.9 133.1,204.0 133.4,204.1 133.6,204.2 133.9,204.2 134.1,204.3 134.4,204.4 134.6,204.5 134.9,204.6 135.1,204.6 135.4,204.7 135.6,204.8 135.9,204.9 136.1,205.0 136.4,205.0 136.6,205.1 136.9,205.2 137.1,205.3 137.4,205.4 137.6,205.4 137.9,205.5 138.1,205.6 138.4,205.7 138.6,205.8 138.9,205.8 139.2,205.9 139.4,206.0 139.7,206.1 139.9,206.2 140.2,206.2 140.4,206.3 140.7,206.4 140.9,206.5 141.2,206.6 141.4,206.6 141.7,206.7 141.9,206.8 142.2,206.9 142.4,207.0 142.7,207.0 143.0,207.1 143.2,207.2 143.5,207.3 143.7,207.4 144.0,207.4 144.2,207.5 144.5,207.6 144.7,207.7 145.0,207.8 145.2,207.8 145.5,207.9 145.8,208.0 146.0,208.1 146.3,208.2 146.5,208.2 146.8,208.3 147.0,208.4 147.3,208.5 147.5,208.6 147.8,208.6 148.1,208.7 148.3,208.8 148.6,208.9 148.8,209.0 149.1,209.1 149.3,209.1 149.6,209.2 149.9,209.3 150.1,209.4 150.4,209.5 150.6,209.5 150.9,209.6 151.1,209.7 151.4,209.8 151.7,209.9 151.9,209.9 152.2,210.0 152.4,210.1 152.7,210.2 152.9,210.3 153.2,210.4 153.5,210.4 153.7,210.5 154.0,210.6 154.2,210.7 154.5,210.8 154.8,210.8 155.0,210.9 155.3,211.0 155.5,211.1 155.8,211.2 156.1,211.3 156.3,211.3 156.6,211.4 156.8,211.5 157.1,211.6 157.4,211.7 157.6,211.7 157.9,211.8 158.1,211.9 158.4,212.0 158.7,212.1 158.9,212.2 159.2,212.2 159.4,212.3 159.7,212.4 160.0,212.5 160.2,212.6 160.5,212.7 160.7,212.7 161.0,212.8 161.3,212.9 161.5,213.0 161.8,213.1 162.1,213.1 162.3,213.2 162.6,213.3 162.6,213.3 66.1,182.8" fill="#6ed21f" fill-opacity="0.78" stroke="none"/>
<line x1="66.1" y1="182.8" x2="162.6" y2="213.3" stroke="#6ed21f" stroke-width="0.9"/>
<polygon points="56.0,161.7 56.1,158.4 56.3,155.0 56.4,151.7 56.6,148.4 56.8,145.3 56.9,142.4 57.1,139.6 57.3,137.1 57.4,134.8 57.6,132.7 57.8,130.9 58.0,129.4 58.2,128.2 58.4,127.2 58.6,126.4 58.8,125.9 59.1,125.6 59.3,125.6 59.5,125.7 59.8,126.0 60.0,126.5 60.2,127.2 60.5,128.0 60.7,128.9 61.0,130.0 61.2,131.1 61.5,132.3 61.7,133.6 62.0,134.9 62.2,136.3 62.5,137.7 62.7,139.2 63.0,140.7 63.3,142.2 63.5,143.7 63.8,145.2 64.0,146.7 64.3,148.1 64.5,149.6 64.8,151.1 65.0,152.5 65.3,153.9 65.6,155.3 65.8,156.6 66.1,157.9 66.3,159.2 66.6,160.5 66.8,161.7 67.1,162.9 67.3,164.0 67.6,165.2 67.8,166.3 68.1,167.3 68.3,168.3 68.6,169.3 68.8,170.2 69.0,171.2 69.3,172.0 69.5,172.9 69.8,173.7 70.0,174.5 70.3,175.3 70.5,176.0 70.7,176.7 71.0,177.4 71.2,178.1 71.5,178.7 71.7,179.3 72.0,179.9 72.2,180.5 72.4,181.0 72.7,181.5 72.9,182.0 73.1,182.5 73.4,183.0 73.6,183.4 73.9,183.9 74.1,184.3 74.3,184.7 74.6,185.1 74.8,185.4 75.0,185.8 75.3,186.1 75.5,186.5 75.8,186.8 76.0,187.1 76.2,187.4 76.5,187.7 76.7,188.0 76.9,188.2 77.2,188.5 77.4,188.7 77.6,189.0 77.9,189.2 78.1,189.4 78.3,189.7 78.6,189.9 78.8,190.1 79.1,190.3 79.3,190.5 79.5,190.7 79.8,190.9 80.0,191.0 80.2,191.2 80.5,191.4 80.7,191.5 80.9,191.7 81.2,191.9 81.4,192.0 81.6,192.2 81.9,192.3 82.1,192.5 82.3,192.6 82.6,192.7 82.8,192.9 83.1,193.0 83.3,193.1 83.5,193.3 83.8,193.4 84.0,193.5 84.2,193.6 84.5,193.7 84.7,193.9 84.9,194.0 85.2,194.1 85.4,194.2 85.6,194.3 85.9,194.4 86.1,194.5 86.4,194.6 86.6,194.7 86.8,194.8 87.1,194.9 87.3,195.0 87.5,195.1 87.8,195.2 88.0,195.3 88.3,195.4 88.5,195.5 88.7,195.6 89.0,195.7 89.2,195.8 89.4,195.9 89.7,196.0 89.9,196.1 90.2,196.2 90.4,196.2 90.6,196.3 90.9,196.4 91.1,196.5 91.3,196.6 91.6,196.7 91.8,196.8 92.1,196.9 92.3,196.9 92.5,197.0 92.8,197.1 93.0,197.2 93.3,197.3 93.5,197.4 93.7,197.4 94.0,197.5 94.2,197.6 94.4,197.7 94.7,197.8 94.9,197.9 95.2,197.9 95.4,198.0 95.6,198.1 95.9,198.2 96.1,198.3 96.4,198.4 96.6,198.4 96.8,198.5 97.1,198.6 97.3,198.7 97.6,198.8 97.8,198.8 98.1,198.9 98.3,199.0 98.5,199.1 98.8,199.2 99.0,199.2 99.3,199.3 99.5,199.4 99.7,199.5 100.0,199.6 100.2,199.6 100.5,199.7 100.7,199.8 100.9,199.9 101.2,200.0 101.4,200.0 101.7,200.1 101.9,200.2 102.2,200.3 102.4,200.3 102.6,200.4 102.9,200.5 103.1,200.6 103.4,200.7 103.6,200.7 103.9,200.8 104.1,200.9 104.3,201.0 104.6,201.1 104.8,201.1 105.1,201.2 105.3,201.3 105.6,201.4 105.8,201.5 106.1,201.5 106.3,201.6 106.5,201.7 106.8,201.8 107.0,201.8 107.3,201.9 107.5,202.0 107.8,202.1 108.0,202.2 108.3,202.2 108.5,202.3 108.7,202.4 109.0,202.5 109.2,202.6 109.5,202.6 109.7,202.7 110.0,202.8 110.2,202.9 110.5,203.0 110.7,203.0 111.0,203.1 111.2,203.2 111.5,203.3 111.7,203.3 111.9,203.4 112.2,203.5 112.4,203.6 112.7,203.7 112.9,203.7 113.2,203.8 113.4,203.9 113.7,204.0 113.9,204.1 114.2,204.1 114.4,204.2 114.7,204.3 114.9,204.4 115.2,204.5 115.4,204.5 115.7,204.6 115.9,204.7 116.2,204.8 116.4,204.9 116.6,204.9 116.9,205.0 117.1,205.1 117.4,205.2 117.6,205.3 117.9,205.3 118.1,205.4 118.4,205.5 118.6,205.6 118.9,205.7 119.1,205.7 119.4,205.8 119.6,205.9 119.9,206.0 120.1,206.1 120.4,206.1 120.6,206.2 120.9,206.3 121.1,206.4 121.4,206.5 121.6,206.5 121.9,206.6 122.1,206.7 122.4,206.8 122.6,206.9 122.9,206.9 123.1,207.0 123.4,207.1 123.6,207.2 123.9,207.3 124.2,207.3 124.4,207.4 124.7,207.5 124.9,207.6 125.2,207.7 125.4,207.7 125.7,207.8 125.9,207.9 126.2,208.0 126.4,208.1 126.7,208.1 126.9,208.2 127.2,208.3 127.4,208.4 127.7,208.5 127.9,208.5 128.2,208.6 128.4,208.7 128.7,208.8 129.0,208.9 129.2,209.0 129.5,209.0 129.7,209.1 130.0,209.2 130.2,209.3 130.5,209.4 130.7,209.4 131.0,209.5 131.2,209.6 131.5,209.7 131.8,209.8 132.0,209.8 132.3,209.9 132.5,210.0 132.8,210.1 133.0,210.2 133.3,210.3 133.5,210.3 133.8,210.4 134.1,210.5 134.3,210.6 134.6,210.7 134.8,210.7 135.1,210.8 135.3,210.9 135.6,211.0 135.8,211.1 136.1,211.2 136.4,211.2 136.6,211.3 136.9,211.4 137.1,211.5 137.4,211.6 137.6,211.7 137.9,211.7 138.2,211.8 138.4,211.9 138.7,212.0 138.9,212.1 139.2,212.1 139.4,212.2 139.7,212.3 140.0,212.4 140.2,212.5 140.5,212.6 140.7,212.6 141.0,212.7 141.3,212.8 141.5,212.9 141.8,213.0 142.0,213.1 142.3,213.1 142.6,213.2 142.8,213.3 143.1,213.4 143.3,213.5 143.6,213.6 143.9,213.6 144.1,213.7 144.4,213.8 144.6,213.9 144.9,214.0 145.2,214.1 145.4,214.1 145.7,214.2 145.9,214.3 146.2,214.4 146.5,214.5 146.7,214.6 147.0,214.6 147.2,214.7 147.5,214.8 147.8,214.9 148.0,215.0 148.3,215.1 148.6,215.1 148.8,215.2 149.1,215.3 149.3,215.4 149.6,215.5 149.9,215.6 150.1,215.6 150.4,215.7 150.7,215.8 150.9,215.9 151.2,216.0 151.4,216.1 151.7,216.1 152.0,216.2 152.2,216.3 152.5,216.4 152.8,216.5 153.0,216.6 153.3,216.7 153.6,216.7 153.6,216.7 56.5,185.7" fill="#bed21f" fill-opacity="0.78" stroke="none"/>
<line x1="56.5" y1="185.7" x2="153.6" y2="216.7" stroke="#bed21f" stroke-width="0.9"/>
<polygon points="45.9,157.9 46.0,152.7 46.1,147.5 46.2,142.2 46.3,137.2 46.4,132.3 46.6,127.8 46.7,123.7 46.8,120.1 47.0,116.9 47.2,114.2 47.3,112.1 47.5,110.5 47.7,109.3 47.9,108.7 48.2,108.6 48.4,108.8 48.6,109.5 48.9,110.5 49.2,111.8 49.4,113.4 49.7,115.3 50.0,117.3 50.2,119.6 50.5,121.9 50.8,124.3 51.1,126.9 51.4,129.4 51.7,132.0 52.0,134.6 52.2,137.2 52.5,139.8 52.8,142.3 53.1,144.8 53.4,147.2 53.7,149.6 53.9,151.9 54.2,154.1 54.5,156.2 54.8,158.3 55.0,160.3 55.3,162.1 55.6,164.0 55.9,165.7 56.1,167.3 56.4,168.9 56.6,170.4 56.9,171.8 57.2,173.1 57.4,174.4 57.7,175.6 57.9,176.7 58.2,177.8 58.4,178.8 58.7,179.8 58.9,180.7 59.2,181.5 59.4,182.4 59.7,183.1 59.9,183.8 60.2,184.5 60.4,185.2 60.6,185.8 60.9,186.3 61.1,186.9 61.4,187.4 61.6,187.9 61.8,188.3 62.1,188.7 62.3,189.2 62.6,189.5 62.8,189.9 63.0,190.2 63.3,190.6 63.5,190.9 63.7,191.2 64.0,191.4 64.2,191.7 64.5,192.0 64.7,192.2 64.9,192.4 65.2,192.7 65.4,192.9 65.6,193.1 65.9,193.3 66.1,193.4 66.3,193.6 66.6,193.8 66.8,193.9 67.0,194.1 67.3,194.3 67.5,194.4 67.7,194.5 68.0,194.7 68.2,194.8 68.5,194.9 68.7,195.1 68.9,195.2 69.2,195.3 69.4,195.4 69.6,195.5 69.9,195.6 70.1,195.8 70.3,195.9 70.6,196.0 70.8,196.1 71.0,196.2 71.3,196.3 71.5,196.4 71.7,196.5 72.0,196.6 72.2,196.6 72.5,196.7 72.7,196.8 72.9,196.9 73.2,197.0 73.4,197.1 73.6,197.2 73.9,197.3 74.1,197.4 74.3,197.4 74.6,197.5 74.8,197.6 75.1,197.7 75.3,197.8 75.5,197.9 75.8,198.0 76.0,198.0 76.2,198.1 76.5,198.2 76.7,198.3 77.0,198.4 77.2,198.4 77.4,198.5 77.7,198.6 77.9,198.7 78.1,198.8 78.4,198.8 78.6,198.9 78.9,199.0 79.1,199.1 79.3,199.2 79.6,199.2 79.8,199.3 80.0,199.4 80.3,199.5 80.5,199.6 80.8,199.6 81.0,199.7 81.2,199.8 81.5,199.9 81.7,200.0 82.0,200.0 82.2,200.1 82.4,200.2 82.7,200.3 82.9,200.3 83.2,200.4 83.4,200.5 83.6,200.6 83.9,200.7 84.1,200.7 84.4,200.8 84.6,200.9 84.8,201.0 85.1,201.1 85.3,201.1 85.6,201.2 85.8,201.3 86.0,201.4 86.3,201.4 86.5,201.5 86.8,201.6 87.0,201.7 87.3,201.8 87.5,201.8 87.7,201.9 88.0,202.0 88.2,202.1 88.5,202.2 88.7,202.2 89.0,202.3 89.2,202.4 89.4,202.5 89.7,202.5 89.9,202.6 90.2,202.7 90.4,202.8 90.7,202.9 90.9,202.9 91.1,203.0 91.4,203.1 91.6,203.2 91.9,203.3 92.1,203.3 92.4,203.4 92.6,203.5 92.8,203.6 93.1,203.7 93.3,203.7 93.6,203.8 93.8,203.9 94.1,204.0 94.3,204.0 94.6,204.1 94.8,204.2 95.0,204.3 95.3,204.4 95.5,204.4 95.8,204.5 96.0,204.6 96.3,204.7 96.5,204.8 96.8,204.8 97.0,204.9 97.3,205.0 97.5,205.1 97.7,205.2 98.0,205.2 98.2,205.3 98.5,205.4 98.7,205.5 99.0,205.6 99.2,205.6 99.5,205.7 99.7,205.8 100.0,205.9 100.2,206.0 100.5,206.0 100.7,206.1 101.0,206.2 101.2,206.3 101.4,206.4 101.7,206.4 101.9,206.5 102.2,206.6 102.4,206.7 102.7,206.8 102.9,206.8 103.2,206.9 103.4,207.0 103.7,207.1 103.9,207.2 104.2,207.2 104.4,207.3 104.7,207.4 104.9,207.5 105.2,207.6 105.4,207.7 105.7,207.7 105.9,207.8 106.2,207.9 106.4,208.0 106.7,208.1 106.9,208.1 107.2,208.2 107.4,208.3 107.7,208.4 107.9,208.5 108.2,208.5 108.4,208.6 108.7,208.7 108.9,208.8 109.2,208.9 109.4,208.9 109.7,209.0 109.9,209.1 110.2,209.2 110.4,209.3 110.7,209.4 110.9,209.4 111.2,209.5 111.4,209.6 111.7,209.7 111.9,209.8 112.2,209.8 112.4,209.9 112.7,210.0 113.0,210.1 113.2,210.2 113.5,210.3 113.7,210.3 114.0,210.4 114.2,210.5 114.5,210.6 114.7,210.7 115.0,210.7 115.2,210.8 115.5,210.9 115.7,211.0 116.0,211.1 116.2,211.2 116.5,211.2 116.8,211.3 117.0,211.4 117.3,211.5 117.5,211.6 117.8,211.6 118.0,211.7 118.3,211.8 118.5,211.9 118.8,212.0 119.0,212.1 119.3,212.1 119.6,212.2 119.8,212.3 120.1,212.4 120.3,212.5 120.6,212.6 120.8,212.6 121.1,212.7 121.3,212.8 121.6,212.9 121.9,213.0 122.1,213.1 122.4,213.1 122.6,213.2 122.9,213.3 123.1,213.4 123.4,213.5 123.7,213.6 123.9,213.6 124.2,213.7 124.4,213.8 124.7,213.9 124.9,214.0 125.2,214.1 125.5,214.1 125.7,214.2 126.0,214.3 126.2,214.4 126.5,214.5 126.7,214.6 127.0,214.6 127.3,214.7 127.5,214.8 127.8,214.9 128.0,215.0 128.3,215.1 128.6,215.1 128.8,215.2 129.1,215.3 129.3,215.4 129.6,215.5 129.9,215.6 130.1,215.6 130.4,215.7 130.6,215.8 130.9,215.9 131.2,216.0 131.4,216.1 131.7,216.2 131.9,216.2 132.2,216.3 132.5,216.4 132.7,216.5 133.0,216.6 133.2,216.7 133.5,216.7 133.8,216.8 134.0,216.9 134.3,217.0 134.5,217.1 134.8,217.2 135.1,217.3 135.3,217.3 135.6,217.4 135.9,217.5 136.1,217.6 136.4,217.7 136.6,217.8 136.9,217.8 137.2,217.9 137.4,218.0 137.7,218.1 138.0,218.2 138.2,218.3 138.5,218.4 138.7,218.4 139.0,218.5 139.3,218.6 139.5,218.7 139.8,218.8 140.1,218.9 140.3,219.0 140.6,219.0 140.9,219.1 141.1,219.2 141.4,219.3 141.7,219.4 141.9,219.5 142.2,219.6 142.4,219.6 142.7,219.7 143.0,219.8 143.2,219.9 143.5,220.0 143.8,220.1 144.0,220.2 144.3,220.2 144.3,220.2 46.7,188.6" fill="#d6851f" fill-opacity="0.78" stroke="none"/>
<line x1="46.7" y1="188.6" x2="144.3" y2="220.2" stroke="#d6851f" stroke-width="0.9"/>
<polygon points="36.6,188.9 36.8,188.6 37.0,188.2 37.2,187.9 37.4,187.5 37.6,187.1 37.9,186.7 38.1,186.3 38.3,185.9 38.5,185.5 38.7,185.1 38.9,184.6 39.1,184.2 39.4,183.8 39.6,183.4 39.8,183.0 40.0,182.6 40.2,182.2 40.4,181.8 40.6,181.4 40.9,181.0 41.1,180.7 41.3,180.3 41.5,180.0 41.7,179.7 42.0,179.4 42.2,179.1 42.4,178.8 42.6,178.5 42.8,178.3 43.1,178.0 43.3,177.8 43.5,177.6 43.7,177.4 43.9,177.2 44.2,177.0 44.4,176.9 44.6,176.7 44.8,176.6 45.1,176.5 45.3,176.4 45.5,176.3 45.8,176.2 46.0,176.2 46.2,176.1 46.4,176.1 46.7,176.0 46.9,176.0 47.1,176.0 47.4,176.0 47.6,176.0 47.8,176.0 48.0,176.1 48.3,176.1 48.5,176.1 48.7,176.2 49.0,176.3 49.2,176.3 49.4,176.4 49.7,176.5 49.9,176.6 50.1,176.7 50.4,176.8 50.6,176.9 50.8,177.0 51.1,177.2 51.3,177.3 51.5,177.4 51.8,177.6 52.0,177.7 52.2,177.9 52.5,178.0 52.7,178.2 53.0,178.3 53.2,178.5 53.4,178.7 53.7,178.9 53.9,179.0 54.1,179.2 54.4,179.4 54.6,179.6 54.8,179.8 55.1,180.0 55.3,180.1 55.6,180.3 55.8,180.5 56.0,180.7 56.3,180.9 56.5,181.1 56.7,181.3 57.0,181.5 57.2,181.7 57.5,182.0 57.7,182.2 57.9,182.4 58.2,182.6 58.4,182.8 58.7,183.0 58.9,183.2 59.1,183.4 59.4,183.6 59.6,183.8 59.9,184.0 60.1,184.3 60.3,184.5 60.6,184.7 60.8,184.9 61.1,185.1 61.3,185.3 61.5,185.5 61.8,185.7 62.0,186.0 62.3,186.2 62.5,186.4 62.7,186.6 63.0,186.8 63.2,187.0 63.5,187.2 63.7,187.4 63.9,187.6 64.2,187.8 64.4,188.0 64.7,188.2 64.9,188.4 65.1,188.7 65.4,188.9 65.6,189.1 65.9,189.3 66.1,189.5 66.4,189.7 66.6,189.9 66.8,190.1 67.1,190.3 67.3,190.5 67.6,190.7 67.8,190.8 68.0,191.0 68.3,191.2 68.5,191.4 68.8,191.6 69.0,191.8 69.3,192.0 69.5,192.2 69.7,192.4 70.0,192.6 70.2,192.8 70.5,192.9 70.7,193.1 71.0,193.3 71.2,193.5 71.4,193.7 71.7,193.9 71.9,194.0 72.2,194.2 72.4,194.4 72.7,194.6 72.9,194.7 73.2,194.9 73.4,195.1 73.6,195.3 73.9,195.4 74.1,195.6 74.4,195.8 74.6,196.0 74.9,196.1 75.1,196.3 75.3,196.5 75.6,196.6 75.8,196.8 76.1,197.0 76.3,197.1 76.6,197.3 76.8,197.4 77.1,197.6 77.3,197.8 77.6,197.9 77.8,198.1 78.0,198.2 78.3,198.4 78.5,198.6 78.8,198.7 79.0,198.9 79.3,199.0 79.5,199.2 79.8,199.3 80.0,199.5 80.3,199.6 80.5,199.8 80.7,199.9 81.0,200.1 81.2,200.2 81.5,200.4 81.7,200.5 82.0,200.7 82.2,200.8 82.5,201.0 82.7,201.1 83.0,201.2 83.2,201.4 83.5,201.5 83.7,201.7 83.9,201.8 84.2,202.0 84.4,202.1 84.7,202.2 84.9,202.4 85.2,202.5 85.4,202.6 85.7,202.8 85.9,202.9 86.2,203.1 86.4,203.2 86.7,203.3 86.9,203.5 87.2,203.6 87.4,203.7 87.7,203.9 87.9,204.0 88.2,204.1 88.4,204.2 88.7,204.4 88.9,204.5 89.2,204.6 89.4,204.8 89.7,204.9 89.9,205.0 90.2,205.1 90.4,205.3 90.7,205.4 90.9,205.5 91.2,205.6 91.4,205.8 91.7,205.9 91.9,206.0 92.2,206.1 92.4,206.3 92.7,206.4 92.9,206.5 93.2,206.6 93.4,206.7 93.7,206.9 93.9,207.0 94.2,207.1 94.4,207.2 94.7,207.3 94.9,207.5 95.2,207.6 95.4,207.7 95.7,207.8 95.9,207.9 96.2,208.0 96.4,208.2 96.7,208.3 96.9,208.4 97.2,208.5 97.4,208.6 97.7,208.7 97.9,208.9 98.2,209.0 98.4,209.1 98.7,209.2 98.9,209.3 99.2,209.4 99.4,209.5 99.7,209.6 100.0,209.8 100.2,209.9 100.5,210.0 100.7,210.1 101.0,210.2 101.2,210.3 101.5,210.4 101.7,210.5 102.0,210.6 102.2,210.7 102.5,210.9 102.7,211.0 103.0,211.1 103.3,211.2 103.5,211.3 103.8,211.4 104.0,211.5 104.3,211.6 104.5,211.7 104.8,211.8 105.0,211.9 105.3,212.0 105.5,212.1 105.8,212.2 106.1,212.3 106.3,212.5 106.6,212.6 106.8,212.7 107.1,212.8 107.3,212.9 107.6,213.0 107.9,213.1 108.1,213.2 108.4,213.3 108.6,213.4 108.9,213.5 109.1,213.6 109.4,213.7 109.6,213.8 109.9,213.9 110.2,214.0 110.4,214.1 110.7,214.2 110.9,214.3 111.2,214.4 111.5,214.5 111.7,214.6 112.0,214.7 112.2,214.8 112.5,214.9 112.7,215.0 113.0,215.1 113.3,215.2 113.5,215.3 113.8,215.4 114.0,215.5 114.3,215.6 114.6,215.7 114.8,215.8 115.1,215.9 115.3,216.0 115.6,216.1 115.8,216.2 116.1,216.3 116.4,216.4 116.6,216.5 116.9,216.6 117.1,216.7 117.4,216.8 117.7,216.9 117.9,217.0 118.2,217.1 118.5,217.2 118.7,217.3 119.0,217.4 119.2,217.5 119.5,217.6 119.8,217.7 120.0,217.8 120.3,217.9 120.5,218.0 120.8,218.1 121.1,218.2 121.3,218.3 121.6,218.4 121.8,218.5 122.1,218.6 122.4,218.7 122.6,218.8 122.9,218.9 123.2,219.0 123.4,219.1 123.7,219.2 123.9,219.2 124.2,219.3 124.5,219.4 124.7,219.5 125.0,219.6 125.3,219.7 125.5,219.8 125.8,219.9 126.1,220.0 126.3,220.1 126.6,220.2 126.9,220.3 127.1,220.4 127.4,220.5 127.6,220.6 127.9,220.7 128.2,220.8 128.4,220.9 128.7,221.0 129.0,221.1 129.2,221.2 129.5,221.3 129.8,221.4 130.0,221.4 130.3,221.5 130.6,221.6 130.8,221.7 131.1,221.8 131.4,221.9 131.6,222.0 131.9,222.1 132.2,222.2 132.4,222.3 132.7,222.4 133.0,222.5 133.2,222.6 133.5,222.7 133.8,222.8 134.0,222.9 134.3,223.0 134.6,223.1 134.8,223.1 134.8,223.8 36.6,191.6" fill="#d52631" fill-opacity="0.78" stroke="none"/>
<line x1="36.6" y1="191.6" x2="134.8" y2="223.8" stroke="#d52631" stroke-width="0.9"/>
<line x1="21.4" y1="193.0" x2="130.5" y2="229.3" stroke="#333" stroke-width="0.8"/>
<line x1="130.5" y1="229.3" x2="225.3" y2="192.9" stroke="#333" stroke-width="0.8"/>
<text font-size="10.60" font-weight="bold" textLength="11.6" lengthAdjust="spacingAndGlyphs" x="2.2" y="9.3" fill="#000">(a)</text>
<text font-size="11.20" font-weight="bold" textLength="118.7" lengthAdjust="spacingAndGlyphs" x="64.7" y="9.9" fill="#000">Pdfs of Division Time</text>
<text font-size="10.00" textLength="193.5" lengthAdjust="spacingAndGlyphs" x="27.0" y="24.0" fill="#000">Lognormal fitted distributions per Generation</text>
<text font-size="8.50" font-weight="bold" text-anchor="middle" textLength="77.0" lengthAdjust="spacingAndGlyphs" transform="translate(9.9,123.5) rotate(-90.0)" fill="#000">Probability Density</text>
<text font-size="8.00" font-weight="bold" text-anchor="middle" textLength="15.5" lengthAdjust="spacingAndGlyphs" transform="translate(29.3,52.4) rotate(-7.0)" fill="#000">0.05</text>
<text font-size="8.00" font-weight="bold" text-anchor="middle" textLength="15.5" lengthAdjust="spacingAndGlyphs" transform="translate(30.0,81.8) rotate(-7.0)" fill="#000">0.04</text>
<text font-size="8.00" font-weight="bold" text-anchor="middle" textLength="15.5" lengthAdjust="spacingAndGlyphs" transform="translate(30.9,111.5) rotate(-7.0)" fill="#000">0.03</text>
<text font-size="8.00" font-weight="bold" text-anchor="middle" textLength="15.5" lengthAdjust="spacingAndGlyphs" transform="translate(31.3,140.5) rotate(-7.0)" fill="#000">0.02</text>
<text font-size="8.00" font-weight="bold" text-anchor="middle" textLength="15.5" lengthAdjust="spacingAndGlyphs" transform="translate(31.6,166.8) rotate(-7.0)" fill="#000">0.01</text>
<text font-size="9.60" font-weight="bold" text-anchor="middle" textLength="4.4" lengthAdjust="spacingAndGlyphs" transform="translate(17.4,199.6) rotate(20.0) skewX(-10.0)" fill="#000">0</text>
<text font-size="9.60" font-weight="bold" text-anchor="middle" textLength="13.1" lengthAdjust="spacingAndGlyphs" transform="translate(45.3,210.0) rotate(20.0) skewX(-10.0)" fill="#000">100</text>
<text font-size="9.60" font-weight="bold" text-anchor="middle" textLength="13.1" lengthAdjust="spacingAndGlyphs" transform="translate(68.6,219.4) rotate(20.0) skewX(-10.0)" fill="#000">200</text>
<text font-size="9.60" font-weight="bold" text-anchor="middle" textLength="13.1" lengthAdjust="spacingAndGlyphs" transform="translate(96.4,228.4) rotate(20.0) skewX(-10.0)" fill="#000">300</text>
<text font-size="9.60" font-weight="bold" text-anchor="middle" textLength="13.1" lengthAdjust="spacingAndGlyphs" transform="translate(122.9,239.6) rotate(20.0) skewX(-10.0)" fill="#000">400</text>
<text font-size="9.20" font-weight="bold" text-anchor="middle" textLength="76.0" lengthAdjust="spacingAndGlyphs" transform="translate(44.4,222.2) rotate(21.3) skewX(-6.0)" fill="#000">Division Time (min)</text>
<text font-size="6.80" font-weight="bold" text-anchor="middle" transform="translate(136.9,233.6) rotate(-10.0) skewX(-8.0)" fill="#000">0</text>
<text font-size="6.80" font-weight="bold" text-anchor="middle" transform="translate(146.4,230.3) rotate(-10.0) skewX(-8.0)" fill="#000">1</text>
<text font-size="6.80" font-weight="bold" text-anchor="middle" transform="translate(155.7,226.9) rotate(-10.0) skewX(-8.0)" fill="#000">2</text>
<text font-size="6.80" font-weight="bold" text-anchor="middle" transform="translate(164.9,223.5) rotate(-10.0) skewX(-8.0)" fill="#000">3</text>
<text font-size="6.80" font-weight="bold" text-anchor="middle" transform="translate(174.4,220.0) rotate(-10.0) skewX(-8.0)" fill="#000">4</text>
<text font-size="6.80" font-weight="bold" text-anchor="middle" transform="translate(183.4,216.7) rotate(-10.0) skewX(-8.0)" fill="#000">5</text>
<text font-size="6.80" font-weight="bold" text-anchor="middle" transform="translate(192.3,213.1) rotate(-10.0) skewX(-8.0)" fill="#000">6</text>
<text font-size="6.80" font-weight="bold" text-anchor="middle" transform="translate(200.8,210.1) rotate(-10.0) skewX(-8.0)" fill="#000">7</text>
<text font-size="6.80" font-weight="bold" text-anchor="middle" transform="translate(209.1,206.8) rotate(-10.0) skewX(-8.0)" fill="#000">8</text>
<text font-size="6.80" font-weight="bold" text-anchor="middle" transform="translate(217.6,203.8) rotate(-10.0) skewX(-8.0)" fill="#000">9</text>
<text font-size="9.20" font-weight="bold" text-anchor="middle" textLength="44.0" lengthAdjust="spacingAndGlyphs" transform="translate(186.3,235.0) rotate(-17.8)" fill="#000">Generation</text>
<polygon points="273.3,192.1 379.2,229.2 475.3,192.1 373.8,162.5" fill="#d6d6d6" stroke="none"/>
<line x1="268.8" y1="51.4" x2="373.8" y2="35.3" stroke="#333" stroke-width="0.8"/>
<line x1="373.8" y1="35.3" x2="478.8" y2="51.7" stroke="#333" stroke-width="0.8"/>
<line x1="273.3" y1="192.1" x2="268.8" y2="51.4" stroke="#333" stroke-width="0.8"/>
<line x1="373.8" y1="162.5" x2="373.8" y2="35.3" stroke="#333" stroke-width="0.8"/>
<line x1="475.3" y1="192.1" x2="478.8" y2="51.7" stroke="#333" stroke-width="0.8"/>
<line x1="373.8" y1="162.5" x2="475.3" y2="192.1" stroke="#333" stroke-width="0.8"/>
<line x1="273.3" y1="192.1" x2="373.8" y2="162.5" stroke="#333" stroke-width="0.8"/>
<line x1="372.8" y1="219.9" x2="389.0" y2="225.4" stroke="#333" stroke-width="0.7"/>
<line x1="382.5" y1="216.3" x2="398.6" y2="221.7" stroke="#333" stroke-width="0.7"/>
<line x1="391.9" y1="212.8" x2="407.9" y2="218.1" stroke="#333" stroke-width="0.7"/>
<line x1="401.1" y1="209.4" x2="417.1" y2="214.6" stroke="#333" stroke-width="0.7"/>
<line x1="410.1" y1="206.1" x2="426.0" y2="211.1" stroke="#333" stroke-width="0.7"/>
<line x1="418.8" y1="202.8" x2="434.7" y2="207.8" stroke="#333" stroke-width="0.7"/>
<line x1="427.4" y1="199.6" x2="443.2" y2="204.5" stroke="#333" stroke-width="0.7"/>
<line x1="435.8" y1="196.5" x2="451.5" y2="201.3" stroke="#333" stroke-width="0.7"/>
<line x1="444.0" y1="193.5" x2="459.6" y2="198.2" stroke="#333" stroke-width="0.7"/>
<line x1="452.0" y1="190.5" x2="467.5" y2="195.1" stroke="#333" stroke-width="0.7"/>
<line x1="272.7" y1="172.7" x2="274.6" y2="173.3" stroke="#333" stroke-width="0.7"/>
<line x1="272.1" y1="153.0" x2="274.0" y2="153.6" stroke="#333" stroke-width="0.7"/>
<line x1="271.4" y1="133.2" x2="273.3" y2="133.7" stroke="#333" stroke-width="0.7"/>
<line x1="270.8" y1="113.1" x2="272.7" y2="113.6" stroke="#333" stroke-width="0.7"/>
<line x1="270.1" y1="92.7" x2="272.1" y2="93.2" stroke="#333" stroke-width="0.7"/>
<line x1="269.5" y1="72.2" x2="271.4" y2="72.6" stroke="#333" stroke-width="0.7"/>
<polygon points="374.3,152.2 374.5,150.3 374.7,148.3 374.9,146.1 375.1,143.8 375.3,141.3 375.5,138.7 375.7,136.0 375.9,133.1 376.1,130.1 376.3,127.0 376.5,123.8 376.7,120.6 376.9,117.2 377.1,113.7 377.3,110.2 377.5,106.7 377.7,103.1 378.0,99.5 378.2,95.9 378.4,92.4 378.6,88.8 378.8,85.3 379.0,81.8 379.2,78.5 379.4,75.1 379.6,71.9 379.8,68.8 380.0,65.9 380.2,63.0 380.4,60.3 380.6,57.7 380.8,55.3 381.1,53.1 381.3,51.0 381.5,49.1 381.7,47.5 381.9,45.9 382.1,44.6 382.3,43.5 382.5,42.6 382.7,41.8 382.9,41.3 383.1,40.9 383.3,40.7 383.6,40.8 383.8,40.9 384.0,41.3 384.2,41.9 384.4,42.6 384.6,43.4 384.8,44.5 385.0,45.6 385.2,46.9 385.4,48.4 385.6,50.0 385.8,51.6 386.0,53.4 386.2,55.3 386.4,57.3 386.7,59.3 386.9,61.5 387.1,63.7 387.3,66.0 387.5,68.3 387.7,70.6 387.9,73.0 388.1,75.5 388.3,77.9 388.5,80.4 388.7,82.9 388.9,85.4 389.1,87.9 389.3,90.4 389.5,92.9 389.7,95.4 389.9,97.8 390.1,100.3 390.3,102.7 390.5,105.1 390.7,107.4 390.9,109.7 391.1,112.0 391.3,114.2 391.5,116.4 391.7,118.6 391.9,120.7 392.1,122.7 392.3,124.8 392.5,126.7 392.7,128.6 392.9,130.5 393.1,132.3 393.3,134.1 393.5,135.8 393.7,137.5 393.9,139.1 394.1,140.6 394.3,142.2 394.5,143.6 394.7,145.0 394.9,146.4 395.1,147.7 395.3,149.0 395.5,150.2 395.7,151.4 395.9,152.6 396.1,153.7 396.3,154.7 396.5,155.7 396.7,156.7 396.9,157.7 397.1,158.6 397.4,159.4 397.6,160.3 397.8,161.1 398.0,161.8 398.2,162.6 398.4,163.3 398.6,163.9 398.8,164.6 399.0,165.2 399.2,165.8 399.4,166.3 399.6,166.9 399.8,167.4 400.0,167.9 400.2,168.4 400.4,168.8 400.6,169.2 400.9,169.6 401.1,170.0 401.3,170.4 401.5,170.8 401.7,171.1 401.9,171.4 402.1,171.8 402.3,172.1 402.5,172.3 402.7,172.6 402.9,172.9 403.1,173.1 403.4,173.4 403.6,173.6 403.8,173.8 404.0,174.0 404.2,174.2 404.4,174.4 404.6,174.6 404.8,174.8 405.0,175.0 405.2,175.1 405.5,175.3 405.7,175.5 405.9,175.6 406.1,175.7 406.3,175.9 406.5,176.0 406.7,176.2 406.9,176.3 407.1,176.4 407.3,176.5 407.6,176.6 407.8,176.7 408.0,176.9 408.2,177.0 408.4,177.1 408.6,177.2 408.8,177.3 409.0,177.4 409.3,177.4 409.5,177.5 409.7,177.6 409.9,177.7 410.1,177.8 410.3,177.9 410.5,178.0 410.7,178.1 411.0,178.1 411.2,178.2 411.4,178.3 411.6,178.4 411.8,178.4 412.0,178.5 412.2,178.6 412.4,178.7 412.7,178.7 412.9,178.8 413.1,178.9 413.3,179.0 413.5,179.0 413.7,179.1 413.9,179.2 414.2,179.2 414.4,179.3 414.6,179.4 414.8,179.4 415.0,179.5 415.2,179.6 415.4,179.6 415.7,179.7 415.9,179.8 416.1,179.8 416.3,179.9 416.5,180.0 416.7,180.0 417.0,180.1 417.2,180.2 417.4,180.2 417.6,180.3 417.8,180.4 418.0,180.4 418.3,180.5 418.5,180.6 418.7,180.6 418.9,180.7 419.1,180.8 419.3,180.8 419.5,180.9 419.8,181.0 420.0,181.0 420.2,181.1 420.4,181.2 420.6,181.2 420.9,181.3 421.1,181.4 421.3,181.4 421.5,181.5 421.7,181.5 421.9,181.6 422.2,181.7 422.4,181.7 422.6,181.8 422.8,181.9 423.0,181.9 423.2,182.0 423.5,182.1 423.7,182.1 423.9,182.2 424.1,182.3 424.3,182.3 424.6,182.4 424.8,182.5 425.0,182.5 425.2,182.6 425.4,182.6 425.7,182.7 425.9,182.8 426.1,182.8 426.3,182.9 426.5,183.0 426.7,183.0 427.0,183.1 427.2,183.2 427.4,183.2 427.6,183.3 427.8,183.4 428.1,183.4 428.3,183.5 428.5,183.6 428.7,183.6 428.9,183.7 429.2,183.8 429.4,183.8 429.6,183.9 429.8,184.0 430.1,184.0 430.3,184.1 430.5,184.1 430.7,184.2 430.9,184.3 431.2,184.3 431.4,184.4 431.6,184.5 431.8,184.5 432.0,184.6 432.3,184.7 432.5,184.7 432.7,184.8 432.9,184.9 433.2,184.9 433.4,185.0 433.6,185.1 433.8,185.1 434.0,185.2 434.3,185.3 434.5,185.3 434.7,185.4 434.9,185.5 435.2,185.5 435.4,185.6 435.6,185.7 435.8,185.7 436.1,185.8 436.3,185.9 436.5,185.9 436.7,186.0 436.9,186.1 437.2,186.1 437.4,186.2 437.6,186.3 437.8,186.3 438.1,186.4 438.3,186.5 438.5,186.5 438.7,186.6 439.0,186.7 439.2,186.7 439.4,186.8 439.6,186.9 439.9,186.9 440.1,187.0 440.3,187.1 440.5,187.1 440.8,187.2 441.0,187.3 441.2,187.3 441.4,187.4 441.7,187.5 441.9,187.5 442.1,187.6 442.3,187.7 442.6,187.7 442.8,187.8 443.0,187.9 443.3,187.9 443.5,188.0 443.7,188.1 443.9,188.1 444.2,188.2 444.4,188.3 444.6,188.3 444.8,188.4 445.1,188.5 445.3,188.5 445.5,188.6 445.8,188.7 446.0,188.7 446.2,188.8 446.4,188.9 446.7,188.9 446.9,189.0 447.1,189.1 447.3,189.1 447.6,189.2 447.8,189.3 448.0,189.3 448.3,189.4 448.5,189.5 448.7,189.5 448.9,189.6 449.2,189.7 449.4,189.7 449.6,189.8 449.9,189.9 450.1,189.9 450.3,190.0 450.6,190.1 450.8,190.1 451.0,190.2 451.2,190.3 451.5,190.4 451.7,190.4 451.9,190.5 452.2,190.6 452.4,190.6 452.6,190.7 452.9,190.8 453.1,190.8 453.3,190.9 453.5,191.0 453.8,191.0 454.0,191.1 454.2,191.2 454.5,191.2 454.7,191.3 454.9,191.4 455.2,191.4 455.4,191.5 455.6,191.6 455.9,191.6 456.1,191.7 456.3,191.8 456.6,191.9 456.8,191.9 457.0,192.0 457.2,192.1 457.5,192.1 457.7,192.2 457.9,192.3 458.2,192.3 458.4,192.4 458.6,192.5 458.9,192.5 459.1,192.6 459.3,192.7 459.6,192.7 459.8,192.8 460.0,192.9 460.3,193.0 460.3,193.0 374.3,167.5" fill="#be25d2" fill-opacity="0.78" stroke="none"/>
<line x1="374.3" y1="167.5" x2="460.3" y2="193.0" stroke="#be25d2" stroke-width="0.9"/>
<polygon points="365.9,154.9 366.1,153.3 366.3,151.6 366.5,149.8 366.7,147.9 366.9,145.9 367.1,143.8 367.3,141.7 367.5,139.4 367.7,137.1 367.9,134.7 368.1,132.2 368.3,129.7 368.5,127.1 368.7,124.5 368.9,121.8 369.0,119.1 369.2,116.4 369.4,113.7 369.6,111.0 369.8,108.2 370.0,105.5 370.2,102.8 370.4,100.2 370.6,97.6 370.8,95.0 371.0,92.4 371.2,90.0 371.4,87.6 371.6,85.3 371.8,83.0 372.0,80.9 372.2,78.8 372.4,76.8 372.6,75.0 372.8,73.2 373.0,71.6 373.2,70.0 373.5,68.6 373.7,67.3 373.9,66.2 374.1,65.1 374.3,64.2 374.5,63.4 374.7,62.7 374.9,62.2 375.1,61.7 375.3,61.4 375.5,61.3 375.7,61.2 375.9,61.3 376.1,61.4 376.4,61.7 376.6,62.1 376.8,62.6 377.0,63.2 377.2,63.9 377.4,64.7 377.6,65.6 377.8,66.6 378.0,67.6 378.2,68.8 378.4,70.0 378.7,71.2 378.9,72.6 379.1,74.0 379.3,75.5 379.5,77.0 379.7,78.5 379.9,80.2 380.1,81.8 380.3,83.5 380.5,85.2 380.8,86.9 381.0,88.7 381.2,90.5 381.4,92.3 381.6,94.1 381.8,96.0 382.0,97.8 382.2,99.6 382.4,101.5 382.6,103.3 382.8,105.2 383.0,107.0 383.3,108.8 383.5,110.6 383.7,112.4 383.9,114.2 384.1,116.0 384.3,117.7 384.5,119.5 384.7,121.2 384.9,122.8 385.1,124.5 385.3,126.1 385.5,127.7 385.7,129.3 386.0,130.9 386.2,132.4 386.4,133.9 386.6,135.3 386.8,136.8 387.0,138.2 387.2,139.5 387.4,140.9 387.6,142.2 387.8,143.5 388.0,144.7 388.2,145.9 388.4,147.1 388.6,148.3 388.9,149.4 389.1,150.5 389.3,151.6 389.5,152.6 389.7,153.6 389.9,154.6 390.1,155.5 390.3,156.5 390.5,157.4 390.7,158.2 390.9,159.1 391.1,159.9 391.4,160.7 391.6,161.4 391.8,162.2 392.0,162.9 392.2,163.6 392.4,164.3 392.6,164.9 392.8,165.5 393.0,166.1 393.2,166.7 393.4,167.3 393.6,167.8 393.9,168.4 394.1,168.9 394.3,169.4 394.5,169.9 394.7,170.3 394.9,170.8 395.1,171.2 395.3,171.6 395.5,172.0 395.7,172.4 396.0,172.8 396.2,173.1 396.4,173.5 396.6,173.8 396.8,174.1 397.0,174.4 397.2,174.7 397.4,175.0 397.6,175.3 397.9,175.6 398.1,175.8 398.3,176.1 398.5,176.3 398.7,176.6 398.9,176.8 399.1,177.0 399.3,177.2 399.5,177.4 399.8,177.6 400.0,177.8 400.2,178.0 400.4,178.2 400.6,178.4 400.8,178.6 401.0,178.7 401.3,178.9 401.5,179.0 401.7,179.2 401.9,179.3 402.1,179.5 402.3,179.6 402.5,179.8 402.7,179.9 403.0,180.0 403.2,180.1 403.4,180.3 403.6,180.4 403.8,180.5 404.0,180.6 404.2,180.7 404.5,180.8 404.7,180.9 404.9,181.0 405.1,181.1 405.3,181.2 405.5,181.3 405.7,181.4 406.0,181.5 406.2,181.6 406.4,181.7 406.6,181.8 406.8,181.9 407.0,182.0 407.3,182.1 407.5,182.2 407.7,182.3 407.9,182.3 408.1,182.4 408.3,182.5 408.6,182.6 408.8,182.7 409.0,182.7 409.2,182.8 409.4,182.9 409.6,183.0 409.9,183.0 410.1,183.1 410.3,183.2 410.5,183.3 410.7,183.3 410.9,183.4 411.2,183.5 411.4,183.6 411.6,183.6 411.8,183.7 412.0,183.8 412.2,183.9 412.5,183.9 412.7,184.0 412.9,184.1 413.1,184.1 413.3,184.2 413.6,184.3 413.8,184.3 414.0,184.4 414.2,184.5 414.4,184.6 414.6,184.6 414.9,184.7 415.1,184.8 415.3,184.8 415.5,184.9 415.7,185.0 416.0,185.0 416.2,185.1 416.4,185.2 416.6,185.2 416.8,185.3 417.1,185.4 417.3,185.4 417.5,185.5 417.7,185.6 417.9,185.6 418.2,185.7 418.4,185.8 418.6,185.8 418.8,185.9 419.0,186.0 419.3,186.0 419.5,186.1 419.7,186.2 419.9,186.2 420.2,186.3 420.4,186.4 420.6,186.4 420.8,186.5 421.0,186.6 421.3,186.6 421.5,186.7 421.7,186.8 421.9,186.9 422.1,186.9 422.4,187.0 422.6,187.1 422.8,187.1 423.0,187.2 423.3,187.3 423.5,187.3 423.7,187.4 423.9,187.5 424.1,187.5 424.4,187.6 424.6,187.7 424.8,187.7 425.0,187.8 425.3,187.9 425.5,187.9 425.7,188.0 425.9,188.1 426.2,188.1 426.4,188.2 426.6,188.3 426.8,188.3 427.1,188.4 427.3,188.5 427.5,188.5 427.7,188.6 428.0,188.7 428.2,188.7 428.4,188.8 428.6,188.9 428.9,188.9 429.1,189.0 429.3,189.1 429.5,189.1 429.8,189.2 430.0,189.3 430.2,189.3 430.4,189.4 430.7,189.5 430.9,189.5 431.1,189.6 431.3,189.7 431.6,189.7 431.8,189.8 432.0,189.9 432.2,190.0 432.5,190.0 432.7,190.1 432.9,190.2 433.1,190.2 433.4,190.3 433.6,190.4 433.8,190.4 434.1,190.5 434.3,190.6 434.5,190.6 434.7,190.7 435.0,190.8 435.2,190.8 435.4,190.9 435.6,191.0 435.9,191.0 436.1,191.1 436.3,191.2 436.6,191.2 436.8,191.3 437.0,191.4 437.2,191.5 437.5,191.5 437.7,191.6 437.9,191.7 438.2,191.7 438.4,191.8 438.6,191.9 438.8,191.9 439.1,192.0 439.3,192.1 439.5,192.1 439.8,192.2 440.0,192.3 440.2,192.3 440.4,192.4 440.7,192.5 440.9,192.6 441.1,192.6 441.4,192.7 441.6,192.8 441.8,192.8 442.1,192.9 442.3,193.0 442.5,193.0 442.8,193.1 443.0,193.2 443.2,193.2 443.4,193.3 443.7,193.4 443.9,193.5 444.1,193.5 444.4,193.6 444.6,193.7 444.8,193.7 445.1,193.8 445.3,193.9 445.5,193.9 445.8,194.0 446.0,194.1 446.2,194.2 446.5,194.2 446.7,194.3 446.9,194.4 447.2,194.4 447.4,194.5 447.6,194.6 447.9,194.6 448.1,194.7 448.3,194.8 448.6,194.9 448.8,194.9 449.0,195.0 449.3,195.1 449.5,195.1 449.7,195.2 450.0,195.3 450.2,195.3 450.4,195.4 450.7,195.5 450.9,195.6 451.1,195.6 451.4,195.7 451.6,195.8 451.8,195.8 452.1,195.9 452.3,196.0 452.3,196.0 366.0,170.0" fill="#661fd2" fill-opacity="0.78" stroke="none"/>
<line x1="366.0" y1="170.0" x2="452.3" y2="196.0" stroke="#661fd2" stroke-width="0.9"/>
<polygon points="357.4,171.6 357.6,171.5 357.8,171.3 358.0,171.2 358.2,171.0 358.4,170.7 358.6,170.5 358.8,170.2 359.0,169.9 359.2,169.5 359.4,169.1 359.6,168.6 359.8,168.1 360.0,167.6 360.2,167.0 360.4,166.3 360.6,165.6 360.8,164.9 361.0,164.1 361.2,163.2 361.4,162.3 361.6,161.4 361.8,160.3 362.0,159.2 362.2,158.1 362.4,156.9 362.6,155.7 362.8,154.4 363.0,153.0 363.2,151.6 363.4,150.2 363.6,148.7 363.8,147.1 364.0,145.5 364.2,143.9 364.3,142.2 364.5,140.5 364.7,138.8 364.9,137.0 365.1,135.2 365.3,133.4 365.5,131.5 365.7,129.7 365.9,127.8 366.1,125.9 366.3,124.1 366.5,122.2 366.7,120.3 366.9,118.4 367.1,116.6 367.3,114.7 367.5,112.9 367.7,111.1 367.9,109.4 368.1,107.6 368.3,105.9 368.5,104.2 368.7,102.6 368.9,101.0 369.1,99.5 369.3,98.0 369.5,96.6 369.7,95.2 369.9,93.9 370.2,92.7 370.4,91.5 370.6,90.4 370.8,89.3 371.0,88.3 371.2,87.4 371.4,86.6 371.6,85.8 371.8,85.1 372.0,84.5 372.2,83.9 372.4,83.4 372.6,83.0 372.9,82.7 373.1,82.5 373.3,82.3 373.5,82.2 373.7,82.1 373.9,82.2 374.1,82.3 374.3,82.5 374.5,82.7 374.8,83.0 375.0,83.4 375.2,83.8 375.4,84.3 375.6,84.9 375.8,85.5 376.0,86.2 376.2,86.9 376.5,87.7 376.7,88.5 376.9,89.4 377.1,90.3 377.3,91.2 377.5,92.2 377.7,93.3 377.9,94.3 378.2,95.5 378.4,96.6 378.6,97.8 378.8,99.0 379.0,100.2 379.2,101.4 379.4,102.7 379.7,104.0 379.9,105.3 380.1,106.6 380.3,107.9 380.5,109.3 380.7,110.6 380.9,112.0 381.2,113.4 381.4,114.7 381.6,116.1 381.8,117.5 382.0,118.9 382.2,120.2 382.4,121.6 382.6,122.9 382.9,124.3 383.1,125.7 383.3,127.0 383.5,128.3 383.7,129.6 383.9,131.0 384.1,132.3 384.4,133.5 384.6,134.8 384.8,136.1 385.0,137.3 385.2,138.5 385.4,139.7 385.6,140.9 385.8,142.1 386.1,143.3 386.3,144.4 386.5,145.5 386.7,146.6 386.9,147.7 387.1,148.8 387.3,149.8 387.5,150.9 387.8,151.9 388.0,152.8 388.2,153.8 388.4,154.8 388.6,155.7 388.8,156.6 389.0,157.5 389.2,158.3 389.5,159.2 389.7,160.0 389.9,160.8 390.1,161.6 390.3,162.4 390.5,163.2 390.7,163.9 391.0,164.6 391.2,165.3 391.4,166.0 391.6,166.7 391.8,167.3 392.0,167.9 392.2,168.5 392.4,169.1 392.7,169.7 392.9,170.3 393.1,170.8 393.3,171.4 393.5,171.9 393.7,172.4 393.9,172.9 394.2,173.4 394.4,173.8 394.6,174.3 394.8,174.7 395.0,175.2 395.2,175.6 395.4,176.0 395.7,176.4 395.9,176.8 396.1,177.1 396.3,177.5 396.5,177.8 396.7,178.2 397.0,178.5 397.2,178.8 397.4,179.1 397.6,179.4 397.8,179.7 398.0,180.0 398.2,180.3 398.5,180.5 398.7,180.8 398.9,181.1 399.1,181.3 399.3,181.5 399.5,181.8 399.8,182.0 400.0,182.2 400.2,182.4 400.4,182.6 400.6,182.8 400.8,183.0 401.1,183.2 401.3,183.4 401.5,183.6 401.7,183.8 401.9,184.0 402.2,184.1 402.4,184.3 402.6,184.4 402.8,184.6 403.0,184.7 403.2,184.9 403.5,185.0 403.7,185.2 403.9,185.3 404.1,185.5 404.3,185.6 404.6,185.7 404.8,185.8 405.0,186.0 405.2,186.1 405.4,186.2 405.7,186.3 405.9,186.4 406.1,186.6 406.3,186.7 406.5,186.8 406.8,186.9 407.0,187.0 407.2,187.1 407.4,187.2 407.6,187.3 407.9,187.4 408.1,187.5 408.3,187.6 408.5,187.7 408.7,187.8 409.0,187.9 409.2,188.0 409.4,188.0 409.6,188.1 409.8,188.2 410.1,188.3 410.3,188.4 410.5,188.5 410.7,188.6 411.0,188.6 411.2,188.7 411.4,188.8 411.6,188.9 411.8,189.0 412.1,189.1 412.3,189.1 412.5,189.2 412.7,189.3 413.0,189.4 413.2,189.4 413.4,189.5 413.6,189.6 413.8,189.7 414.1,189.8 414.3,189.8 414.5,189.9 414.7,190.0 415.0,190.1 415.2,190.1 415.4,190.2 415.6,190.3 415.9,190.3 416.1,190.4 416.3,190.5 416.5,190.6 416.8,190.6 417.0,190.7 417.2,190.8 417.4,190.9 417.6,190.9 417.9,191.0 418.1,191.1 418.3,191.1 418.5,191.2 418.8,191.3 419.0,191.4 419.2,191.4 419.5,191.5 419.7,191.6 419.9,191.6 420.1,191.7 420.4,191.8 420.6,191.9 420.8,191.9 421.0,192.0 421.3,192.1 421.5,192.1 421.7,192.2 421.9,192.3 422.2,192.3 422.4,192.4 422.6,192.5 422.8,192.6 423.1,192.6 423.3,192.7 423.5,192.8 423.8,192.8 424.0,192.9 424.2,193.0 424.4,193.0 424.7,193.1 424.9,193.2 425.1,193.3 425.3,193.3 425.6,193.4 425.8,193.5 426.0,193.5 426.3,193.6 426.5,193.7 426.7,193.7 426.9,193.8 427.2,193.9 427.4,194.0 427.6,194.0 427.9,194.1 428.1,194.2 428.3,194.2 428.5,194.3 428.8,194.4 429.0,194.4 429.2,194.5 429.5,194.6 429.7,194.7 429.9,194.7 430.2,194.8 430.4,194.9 430.6,194.9 430.8,195.0 431.1,195.1 431.3,195.1 431.5,195.2 431.8,195.3 432.0,195.4 432.2,195.4 432.5,195.5 432.7,195.6 432.9,195.6 433.2,195.7 433.4,195.8 433.6,195.9 433.9,195.9 434.1,196.0 434.3,196.1 434.5,196.1 434.8,196.2 435.0,196.3 435.2,196.4 435.5,196.4 435.7,196.5 435.9,196.6 436.2,196.6 436.4,196.7 436.6,196.8 436.9,196.8 437.1,196.9 437.3,197.0 437.6,197.1 437.8,197.1 438.0,197.2 438.3,197.3 438.5,197.3 438.7,197.4 439.0,197.5 439.2,197.6 439.4,197.6 439.7,197.7 439.9,197.8 440.1,197.8 440.4,197.9 440.6,198.0 440.8,198.1 441.1,198.1 441.3,198.2 441.6,198.3 441.8,198.3 442.0,198.4 442.3,198.5 442.5,198.6 442.7,198.6 443.0,198.7 443.2,198.8 443.4,198.8 443.7,198.9 443.9,199.0 444.1,199.1 444.1,199.1 357.4,172.6" fill="#293dd2" fill-opacity="0.78" stroke="none"/>
<line x1="357.4" y1="172.6" x2="444.1" y2="199.1" stroke="#293dd2" stroke-width="0.9"/>
<polygon points="348.7,174.1 348.9,174.0 349.1,173.8 349.3,173.6 349.5,173.4 349.7,173.1 349.9,172.8 350.1,172.4 350.3,172.0 350.5,171.6 350.7,171.1 350.9,170.5 351.1,169.9 351.3,169.3 351.5,168.6 351.7,167.8 351.9,166.9 352.1,166.0 352.3,165.1 352.5,164.0 352.7,162.9 352.8,161.8 353.0,160.5 353.2,159.2 353.4,157.9 353.6,156.5 353.8,155.0 354.0,153.4 354.2,151.8 354.4,150.1 354.6,148.4 354.8,146.6 355.0,144.8 355.1,142.9 355.3,141.0 355.5,139.0 355.7,137.0 355.9,135.0 356.1,132.9 356.3,130.8 356.5,128.7 356.7,126.6 356.9,124.5 357.1,122.4 357.2,120.2 357.4,118.1 357.6,116.0 357.8,113.9 358.0,111.8 358.2,109.8 358.4,107.8 358.6,105.8 358.8,103.8 359.0,101.9 359.2,100.1 359.4,98.3 359.6,96.5 359.8,94.8 360.0,93.2 360.2,91.7 360.4,90.2 360.6,88.8 360.8,87.4 361.0,86.2 361.2,85.0 361.4,83.9 361.6,82.9 361.8,82.0 362.0,81.2 362.2,80.5 362.4,79.8 362.6,79.2 362.8,78.8 363.0,78.4 363.3,78.1 363.5,77.9 363.7,77.8 363.9,77.8 364.1,77.8 364.3,78.0 364.5,78.2 364.7,78.5 365.0,78.9 365.2,79.3 365.4,79.9 365.6,80.5 365.8,81.1 366.0,81.9 366.2,82.7 366.5,83.6 366.7,84.5 366.9,85.5 367.1,86.6 367.3,87.7 367.5,88.8 367.8,90.0 368.0,91.2 368.2,92.5 368.4,93.8 368.6,95.2 368.9,96.5 369.1,98.0 369.3,99.4 369.5,100.8 369.7,102.3 369.9,103.8 370.2,105.3 370.4,106.9 370.6,108.4 370.8,109.9 371.0,111.5 371.3,113.1 371.5,114.6 371.7,116.2 371.9,117.7 372.1,119.3 372.4,120.8 372.6,122.4 372.8,123.9 373.0,125.4 373.2,126.9 373.4,128.4 373.7,129.9 373.9,131.4 374.1,132.9 374.3,134.3 374.5,135.7 374.8,137.1 375.0,138.5 375.2,139.9 375.4,141.2 375.6,142.5 375.8,143.8 376.1,145.1 376.3,146.4 376.5,147.6 376.7,148.8 376.9,150.0 377.1,151.2 377.4,152.3 377.6,153.4 377.8,154.5 378.0,155.6 378.2,156.6 378.4,157.6 378.7,158.6 378.9,159.6 379.1,160.5 379.3,161.4 379.5,162.3 379.7,163.2 379.9,164.1 380.2,164.9 380.4,165.7 380.6,166.5 380.8,167.3 381.0,168.0 381.2,168.7 381.5,169.4 381.7,170.1 381.9,170.8 382.1,171.4 382.3,172.0 382.5,172.7 382.8,173.2 383.0,173.8 383.2,174.4 383.4,174.9 383.6,175.4 383.8,175.9 384.0,176.4 384.3,176.9 384.5,177.4 384.7,177.8 384.9,178.2 385.1,178.7 385.3,179.1 385.6,179.4 385.8,179.8 386.0,180.2 386.2,180.6 386.4,180.9 386.6,181.2 386.9,181.6 387.1,181.9 387.3,182.2 387.5,182.5 387.7,182.8 387.9,183.0 388.2,183.3 388.4,183.6 388.6,183.8 388.8,184.0 389.0,184.3 389.2,184.5 389.5,184.7 389.7,185.0 389.9,185.2 390.1,185.4 390.3,185.6 390.6,185.8 390.8,185.9 391.0,186.1 391.2,186.3 391.4,186.5 391.6,186.6 391.9,186.8 392.1,186.9 392.3,187.1 392.5,187.3 392.7,187.4 393.0,187.5 393.2,187.7 393.4,187.8 393.6,187.9 393.8,188.1 394.0,188.2 394.3,188.3 394.5,188.4 394.7,188.6 394.9,188.7 395.1,188.8 395.4,188.9 395.6,189.0 395.8,189.1 396.0,189.2 396.2,189.3 396.5,189.4 396.7,189.5 396.9,189.6 397.1,189.7 397.3,189.8 397.6,189.9 397.8,190.0 398.0,190.1 398.2,190.2 398.5,190.3 398.7,190.4 398.9,190.5 399.1,190.5 399.3,190.6 399.6,190.7 399.8,190.8 400.0,190.9 400.2,191.0 400.4,191.0 400.7,191.1 400.9,191.2 401.1,191.3 401.3,191.4 401.6,191.4 401.8,191.5 402.0,191.6 402.2,191.7 402.4,191.8 402.7,191.8 402.9,191.9 403.1,192.0 403.3,192.1 403.6,192.1 403.8,192.2 404.0,192.3 404.2,192.4 404.5,192.4 404.7,192.5 404.9,192.6 405.1,192.7 405.4,192.7 405.6,192.8 405.8,192.9 406.0,192.9 406.3,193.0 406.5,193.1 406.7,193.2 406.9,193.2 407.2,193.3 407.4,193.4 407.6,193.5 407.8,193.5 408.1,193.6 408.3,193.7 408.5,193.7 408.7,193.8 409.0,193.9 409.2,194.0 409.4,194.0 409.6,194.1 409.9,194.2 410.1,194.2 410.3,194.3 410.5,194.4 410.8,194.5 411.0,194.5 411.2,194.6 411.4,194.7 411.7,194.7 411.9,194.8 412.1,194.9 412.3,195.0 412.6,195.0 412.8,195.1 413.0,195.2 413.3,195.2 413.5,195.3 413.7,195.4 413.9,195.4 414.2,195.5 414.4,195.6 414.6,195.7 414.9,195.7 415.1,195.8 415.3,195.9 415.5,195.9 415.8,196.0 416.0,196.1 416.2,196.2 416.5,196.2 416.7,196.3 416.9,196.4 417.1,196.4 417.4,196.5 417.6,196.6 417.8,196.7 418.1,196.7 418.3,196.8 418.5,196.9 418.7,196.9 419.0,197.0 419.2,197.1 419.4,197.2 419.7,197.2 419.9,197.3 420.1,197.4 420.4,197.4 420.6,197.5 420.8,197.6 421.1,197.7 421.3,197.7 421.5,197.8 421.7,197.9 422.0,197.9 422.2,198.0 422.4,198.1 422.7,198.2 422.9,198.2 423.1,198.3 423.4,198.4 423.6,198.4 423.8,198.5 424.1,198.6 424.3,198.7 424.5,198.7 424.8,198.8 425.0,198.9 425.2,198.9 425.5,199.0 425.7,199.1 425.9,199.2 426.2,199.2 426.4,199.3 426.6,199.4 426.9,199.5 427.1,199.5 427.3,199.6 427.6,199.7 427.8,199.7 428.0,199.8 428.3,199.9 428.5,200.0 428.7,200.0 429.0,200.1 429.2,200.2 429.4,200.3 429.7,200.3 429.9,200.4 430.1,200.5 430.4,200.5 430.6,200.6 430.8,200.7 431.1,200.8 431.3,200.8 431.5,200.9 431.8,201.0 432.0,201.1 432.3,201.1 432.5,201.2 432.7,201.3 433.0,201.3 433.2,201.4 433.4,201.5 433.7,201.6 433.9,201.6 434.1,201.7 434.4,201.8 434.6,201.9 434.9,201.9 435.1,202.0 435.3,202.1 435.6,202.1 435.8,202.2 435.8,202.2 348.7,175.2" fill="#2b9fd2" fill-opacity="0.78" stroke="none"/>
<line x1="348.7" y1="175.2" x2="435.8" y2="202.2" stroke="#2b9fd2" stroke-width="0.9"/>
<polygon points="339.8,177.4 340.0,177.4 340.2,177.4 340.4,177.3 340.6,177.2 340.8,177.1 341.0,177.0 341.2,176.9 341.4,176.7 341.6,176.5 341.8,176.3 342.0,176.0 342.2,175.7 342.4,175.4 342.6,175.1 342.8,174.7 343.0,174.2 343.2,173.8 343.4,173.2 343.6,172.7 343.8,172.1 344.0,171.4 344.2,170.7 344.4,169.9 344.6,169.1 344.8,168.3 345.0,167.4 345.2,166.4 345.4,165.4 345.6,164.3 345.7,163.2 345.9,162.0 346.1,160.8 346.3,159.6 346.5,158.2 346.7,156.9 346.9,155.5 347.1,154.0 347.3,152.5 347.5,151.0 347.7,149.4 347.8,147.8 348.0,146.1 348.2,144.5 348.4,142.8 348.6,141.0 348.8,139.3 349.0,137.5 349.2,135.7 349.4,133.9 349.5,132.1 349.7,130.3 349.9,128.5 350.1,126.7 350.3,124.9 350.5,123.1 350.7,121.3 350.9,119.5 351.1,117.8 351.3,116.1 351.5,114.4 351.7,112.7 351.9,111.1 352.0,109.5 352.2,108.0 352.4,106.5 352.6,105.0 352.8,103.6 353.0,102.2 353.2,100.9 353.4,99.7 353.6,98.5 353.8,97.4 354.0,96.3 354.2,95.3 354.4,94.3 354.6,93.5 354.8,92.7 355.1,91.9 355.3,91.3 355.5,90.7 355.7,90.1 355.9,89.7 356.1,89.3 356.3,89.0 356.5,88.7 356.7,88.6 356.9,88.5 357.1,88.4 357.4,88.5 357.6,88.6 357.8,88.7 358.0,88.9 358.2,89.2 358.4,89.6 358.7,90.0 358.9,90.5 359.1,91.0 359.3,91.6 359.5,92.2 359.7,92.9 360.0,93.7 360.2,94.5 360.4,95.3 360.6,96.2 360.8,97.1 361.1,98.1 361.3,99.1 361.5,100.1 361.7,101.2 361.9,102.3 362.2,103.4 362.4,104.6 362.6,105.7 362.8,106.9 363.1,108.2 363.3,109.4 363.5,110.7 363.7,112.0 363.9,113.3 364.2,114.6 364.4,115.9 364.6,117.2 364.8,118.6 365.1,119.9 365.3,121.3 365.5,122.6 365.7,124.0 365.9,125.3 366.2,126.6 366.4,128.0 366.6,129.3 366.8,130.7 367.1,132.0 367.3,133.3 367.5,134.6 367.7,135.9 367.9,137.2 368.2,138.5 368.4,139.7 368.6,141.0 368.8,142.2 369.1,143.5 369.3,144.7 369.5,145.9 369.7,147.0 369.9,148.2 370.2,149.3 370.4,150.5 370.6,151.6 370.8,152.7 371.0,153.7 371.3,154.8 371.5,155.8 371.7,156.8 371.9,157.8 372.1,158.8 372.4,159.8 372.6,160.7 372.8,161.6 373.0,162.5 373.2,163.4 373.5,164.3 373.7,165.1 373.9,166.0 374.1,166.8 374.3,167.6 374.6,168.3 374.8,169.1 375.0,169.8 375.2,170.6 375.4,171.3 375.7,171.9 375.9,172.6 376.1,173.3 376.3,173.9 376.5,174.5 376.8,175.1 377.0,175.7 377.2,176.3 377.4,176.8 377.6,177.4 377.9,177.9 378.1,178.4 378.3,178.9 378.5,179.4 378.7,179.9 378.9,180.3 379.2,180.8 379.4,181.2 379.6,181.6 379.8,182.0 380.0,182.4 380.3,182.8 380.5,183.2 380.7,183.6 380.9,183.9 381.1,184.3 381.4,184.6 381.6,184.9 381.8,185.3 382.0,185.6 382.2,185.9 382.5,186.2 382.7,186.4 382.9,186.7 383.1,187.0 383.3,187.2 383.6,187.5 383.8,187.7 384.0,188.0 384.2,188.2 384.4,188.4 384.7,188.7 384.9,188.9 385.1,189.1 385.3,189.3 385.5,189.5 385.8,189.7 386.0,189.9 386.2,190.1 386.4,190.2 386.6,190.4 386.9,190.6 387.1,190.7 387.3,190.9 387.5,191.1 387.7,191.2 388.0,191.4 388.2,191.5 388.4,191.7 388.6,191.8 388.9,191.9 389.1,192.1 389.3,192.2 389.5,192.3 389.7,192.5 390.0,192.6 390.2,192.7 390.4,192.8 390.6,193.0 390.9,193.1 391.1,193.2 391.3,193.3 391.5,193.4 391.7,193.5 392.0,193.6 392.2,193.7 392.4,193.8 392.6,193.9 392.9,194.0 393.1,194.1 393.3,194.2 393.5,194.3 393.8,194.4 394.0,194.5 394.2,194.6 394.4,194.7 394.7,194.8 394.9,194.9 395.1,195.0 395.3,195.1 395.6,195.2 395.8,195.2 396.0,195.3 396.2,195.4 396.5,195.5 396.7,195.6 396.9,195.7 397.1,195.7 397.4,195.8 397.6,195.9 397.8,196.0 398.0,196.1 398.3,196.2 398.5,196.2 398.7,196.3 398.9,196.4 399.2,196.5 399.4,196.5 399.6,196.6 399.8,196.7 400.1,196.8 400.3,196.9 400.5,196.9 400.7,197.0 401.0,197.1 401.2,197.2 401.4,197.2 401.7,197.3 401.9,197.4 402.1,197.5 402.3,197.5 402.6,197.6 402.8,197.7 403.0,197.8 403.2,197.8 403.5,197.9 403.7,198.0 403.9,198.1 404.2,198.1 404.4,198.2 404.6,198.3 404.8,198.4 405.1,198.4 405.3,198.5 405.5,198.6 405.8,198.7 406.0,198.7 406.2,198.8 406.4,198.9 406.7,199.0 406.9,199.0 407.1,199.1 407.4,199.2 407.6,199.2 407.8,199.3 408.1,199.4 408.3,199.5 408.5,199.5 408.7,199.6 409.0,199.7 409.2,199.8 409.4,199.8 409.7,199.9 409.9,200.0 410.1,200.1 410.4,200.1 410.6,200.2 410.8,200.3 411.1,200.3 411.3,200.4 411.5,200.5 411.7,200.6 412.0,200.6 412.2,200.7 412.4,200.8 412.7,200.9 412.9,200.9 413.1,201.0 413.4,201.1 413.6,201.2 413.8,201.2 414.1,201.3 414.3,201.4 414.5,201.4 414.8,201.5 415.0,201.6 415.2,201.7 415.5,201.7 415.7,201.8 415.9,201.9 416.2,202.0 416.4,202.0 416.6,202.1 416.9,202.2 417.1,202.3 417.3,202.3 417.6,202.4 417.8,202.5 418.0,202.6 418.3,202.6 418.5,202.7 418.7,202.8 419.0,202.8 419.2,202.9 419.4,203.0 419.7,203.1 419.9,203.1 420.2,203.2 420.4,203.3 420.6,203.4 420.9,203.4 421.1,203.5 421.3,203.6 421.6,203.7 421.8,203.7 422.0,203.8 422.3,203.9 422.5,204.0 422.7,204.0 423.0,204.1 423.2,204.2 423.5,204.3 423.7,204.3 423.9,204.4 424.2,204.5 424.4,204.6 424.6,204.6 424.9,204.7 425.1,204.8 425.4,204.9 425.6,204.9 425.8,205.0 426.1,205.1 426.3,205.2 426.5,205.2 426.8,205.3 427.0,205.4 427.3,205.5 427.3,205.5 339.8,177.9" fill="#25cd8f" fill-opacity="0.78" stroke="none"/>
<line x1="339.8" y1="177.9" x2="427.3" y2="205.5" stroke="#25cd8f" stroke-width="0.9"/>
<polygon points="330.8,180.5 331.0,180.5 331.2,180.6 331.4,180.6 331.6,180.6 331.8,180.6 332.0,180.6 332.2,180.6 332.4,180.6 332.6,180.5 332.8,180.5 333.0,180.4 333.2,180.4 333.4,180.3 333.6,180.1 333.8,180.0 334.0,179.9 334.2,179.7 334.4,179.5 334.6,179.3 334.8,179.0 335.0,178.7 335.2,178.4 335.4,178.1 335.6,177.7 335.8,177.3 336.0,176.9 336.2,176.4 336.4,175.9 336.6,175.3 336.8,174.7 336.9,174.1 337.1,173.4 337.3,172.7 337.5,171.9 337.7,171.1 337.9,170.3 338.1,169.4 338.3,168.5 338.5,167.5 338.7,166.5 338.9,165.4 339.1,164.3 339.3,163.2 339.5,162.0 339.6,160.8 339.8,159.6 340.0,158.3 340.2,157.0 340.4,155.6 340.6,154.2 340.8,152.8 341.0,151.4 341.2,149.9 341.4,148.4 341.5,146.9 341.7,145.3 341.9,143.8 342.1,142.2 342.3,140.7 342.5,139.1 342.7,137.5 342.9,135.9 343.1,134.3 343.2,132.7 343.4,131.1 343.6,129.6 343.8,128.0 344.0,126.4 344.2,124.9 344.4,123.4 344.6,121.9 344.8,120.4 345.0,119.0 345.2,117.6 345.4,116.2 345.6,114.8 345.8,113.5 346.0,112.2 346.2,111.0 346.3,109.8 346.5,108.7 346.7,107.6 346.9,106.5 347.1,105.5 347.4,104.6 347.6,103.7 347.8,102.8 348.0,102.0 348.2,101.3 348.4,100.6 348.6,100.0 348.8,99.5 349.0,99.0 349.2,98.5 349.4,98.1 349.6,97.8 349.8,97.5 350.0,97.3 350.3,97.2 350.5,97.1 350.7,97.0 350.9,97.1 351.1,97.1 351.3,97.3 351.5,97.4 351.8,97.7 352.0,98.0 352.2,98.3 352.4,98.7 352.6,99.2 352.9,99.6 353.1,100.2 353.3,100.8 353.5,101.4 353.7,102.1 354.0,102.8 354.2,103.5 354.4,104.3 354.6,105.1 354.9,106.0 355.1,106.9 355.3,107.8 355.5,108.7 355.7,109.7 356.0,110.7 356.2,111.7 356.4,112.8 356.6,113.8 356.9,114.9 357.1,116.0 357.3,117.2 357.6,118.3 357.8,119.5 358.0,120.6 358.2,121.8 358.5,123.0 358.7,124.2 358.9,125.4 359.1,126.6 359.4,127.8 359.6,129.0 359.8,130.2 360.0,131.4 360.3,132.6 360.5,133.9 360.7,135.1 360.9,136.3 361.2,137.5 361.4,138.7 361.6,139.9 361.9,141.0 362.1,142.2 362.3,143.4 362.5,144.5 362.8,145.7 363.0,146.8 363.2,147.9 363.4,149.1 363.7,150.2 363.9,151.2 364.1,152.3 364.3,153.4 364.6,154.4 364.8,155.5 365.0,156.5 365.2,157.5 365.5,158.5 365.7,159.4 365.9,160.4 366.1,161.3 366.4,162.3 366.6,163.2 366.8,164.1 367.0,164.9 367.2,165.8 367.5,166.7 367.7,167.5 367.9,168.3 368.1,169.1 368.4,169.9 368.6,170.6 368.8,171.4 369.0,172.1 369.3,172.8 369.5,173.6 369.7,174.2 369.9,174.9 370.1,175.6 370.4,176.2 370.6,176.8 370.8,177.5 371.0,178.1 371.3,178.6 371.5,179.2 371.7,179.8 371.9,180.3 372.1,180.9 372.4,181.4 372.6,181.9 372.8,182.4 373.0,182.9 373.3,183.3 373.5,183.8 373.7,184.2 373.9,184.7 374.2,185.1 374.4,185.5 374.6,185.9 374.8,186.3 375.0,186.7 375.3,187.1 375.5,187.4 375.7,187.8 375.9,188.1 376.2,188.4 376.4,188.8 376.6,189.1 376.8,189.4 377.0,189.7 377.3,190.0 377.5,190.3 377.7,190.6 377.9,190.8 378.2,191.1 378.4,191.4 378.6,191.6 378.8,191.9 379.0,192.1 379.3,192.3 379.5,192.6 379.7,192.8 379.9,193.0 380.2,193.2 380.4,193.4 380.6,193.6 380.8,193.8 381.1,194.0 381.3,194.2 381.5,194.4 381.7,194.5 382.0,194.7 382.2,194.9 382.4,195.1 382.6,195.2 382.9,195.4 383.1,195.5 383.3,195.7 383.5,195.8 383.7,196.0 384.0,196.1 384.2,196.3 384.4,196.4 384.6,196.5 384.9,196.7 385.1,196.8 385.3,196.9 385.5,197.1 385.8,197.2 386.0,197.3 386.2,197.4 386.4,197.5 386.7,197.6 386.9,197.8 387.1,197.9 387.4,198.0 387.6,198.1 387.8,198.2 388.0,198.3 388.3,198.4 388.5,198.5 388.7,198.6 388.9,198.7 389.2,198.8 389.4,198.9 389.6,199.0 389.8,199.1 390.1,199.2 390.3,199.3 390.5,199.4 390.8,199.5 391.0,199.6 391.2,199.7 391.4,199.8 391.7,199.8 391.9,199.9 392.1,200.0 392.3,200.1 392.6,200.2 392.8,200.3 393.0,200.4 393.3,200.4 393.5,200.5 393.7,200.6 393.9,200.7 394.2,200.8 394.4,200.9 394.6,200.9 394.9,201.0 395.1,201.1 395.3,201.2 395.5,201.3 395.8,201.4 396.0,201.4 396.2,201.5 396.5,201.6 396.7,201.7 396.9,201.7 397.2,201.8 397.4,201.9 397.6,202.0 397.8,202.1 398.1,202.1 398.3,202.2 398.5,202.3 398.8,202.4 399.0,202.5 399.2,202.5 399.5,202.6 399.7,202.7 399.9,202.8 400.2,202.8 400.4,202.9 400.6,203.0 400.9,203.1 401.1,203.1 401.3,203.2 401.5,203.3 401.8,203.4 402.0,203.4 402.2,203.5 402.5,203.6 402.7,203.7 402.9,203.7 403.2,203.8 403.4,203.9 403.6,204.0 403.9,204.1 404.1,204.1 404.3,204.2 404.6,204.3 404.8,204.4 405.0,204.4 405.3,204.5 405.5,204.6 405.7,204.7 406.0,204.7 406.2,204.8 406.4,204.9 406.7,205.0 406.9,205.0 407.1,205.1 407.4,205.2 407.6,205.3 407.9,205.3 408.1,205.4 408.3,205.5 408.6,205.6 408.8,205.6 409.0,205.7 409.3,205.8 409.5,205.9 409.7,205.9 410.0,206.0 410.2,206.1 410.4,206.2 410.7,206.2 410.9,206.3 411.1,206.4 411.4,206.5 411.6,206.6 411.9,206.6 412.1,206.7 412.3,206.8 412.6,206.9 412.8,206.9 413.0,207.0 413.3,207.1 413.5,207.2 413.8,207.2 414.0,207.3 414.2,207.4 414.5,207.5 414.7,207.5 414.9,207.6 415.2,207.7 415.4,207.8 415.7,207.8 415.9,207.9 416.1,208.0 416.4,208.1 416.6,208.2 416.9,208.2 417.1,208.3 417.3,208.4 417.6,208.5 417.8,208.5 418.0,208.6 418.3,208.7 418.5,208.8 418.5,208.8 330.8,180.6" fill="#2bcd52" fill-opacity="0.78" stroke="none"/>
<line x1="330.8" y1="180.6" x2="418.5" y2="208.8" stroke="#2bcd52" stroke-width="0.9"/>
<polygon points="321.5,183.4 321.7,183.4 321.9,183.5 322.1,183.5 322.3,183.6 322.5,183.6 322.7,183.7 322.9,183.7 323.1,183.7 323.3,183.8 323.5,183.8 323.7,183.8 323.9,183.8 324.1,183.8 324.3,183.8 324.5,183.8 324.7,183.8 324.9,183.7 325.1,183.7 325.3,183.6 325.5,183.6 325.7,183.5 325.9,183.4 326.1,183.3 326.3,183.2 326.5,183.0 326.7,182.8 326.9,182.7 327.1,182.5 327.3,182.3 327.5,182.0 327.7,181.8 327.9,181.5 328.1,181.2 328.3,180.9 328.5,180.5 328.7,180.1 328.9,179.7 329.1,179.3 329.3,178.9 329.5,178.4 329.7,177.9 329.9,177.3 330.1,176.8 330.3,176.2 330.5,175.6 330.7,174.9 330.9,174.3 331.1,173.6 331.3,172.8 331.5,172.1 331.7,171.3 331.9,170.5 332.1,169.6 332.3,168.8 332.5,167.9 332.7,167.0 332.9,166.0 333.0,165.1 333.2,164.1 333.4,163.1 333.6,162.1 333.8,161.0 334.0,159.9 334.2,158.9 334.4,157.8 334.6,156.6 334.8,155.5 335.0,154.4 335.2,153.2 335.4,152.1 335.5,150.9 335.7,149.7 335.9,148.6 336.1,147.4 336.3,146.2 336.5,145.0 336.7,143.8 336.9,142.6 337.1,141.5 337.3,140.3 337.5,139.1 337.7,138.0 337.9,136.8 338.1,135.7 338.3,134.6 338.5,133.5 338.7,132.4 338.9,131.3 339.0,130.3 339.2,129.3 339.4,128.3 339.6,127.3 339.8,126.3 340.0,125.4 340.2,124.5 340.4,123.6 340.6,122.8 340.9,122.0 341.1,121.2 341.3,120.4 341.5,119.7 341.7,119.0 341.9,118.4 342.1,117.8 342.3,117.2 342.5,116.6 342.7,116.1 342.9,115.7 343.1,115.2 343.3,114.8 343.5,114.5 343.7,114.1 344.0,113.9 344.2,113.6 344.4,113.4 344.6,113.2 344.8,113.1 345.0,113.0 345.2,113.0 345.5,112.9 345.7,113.0 345.9,113.0 346.1,113.1 346.3,113.2 346.5,113.4 346.8,113.6 347.0,113.8 347.2,114.1 347.4,114.4 347.6,114.7 347.9,115.1 348.1,115.4 348.3,115.9 348.5,116.3 348.7,116.8 349.0,117.3 349.2,117.8 349.4,118.4 349.6,119.0 349.9,119.6 350.1,120.2 350.3,120.8 350.5,121.5 350.8,122.2 351.0,122.9 351.2,123.6 351.4,124.4 351.7,125.2 351.9,125.9 352.1,126.7 352.4,127.6 352.6,128.4 352.8,129.2 353.0,130.1 353.3,130.9 353.5,131.8 353.7,132.7 353.9,133.6 354.2,134.4 354.4,135.3 354.6,136.3 354.9,137.2 355.1,138.1 355.3,139.0 355.5,139.9 355.8,140.8 356.0,141.8 356.2,142.7 356.5,143.6 356.7,144.6 356.9,145.5 357.1,146.4 357.4,147.3 357.6,148.2 357.8,149.2 358.1,150.1 358.3,151.0 358.5,151.9 358.7,152.8 359.0,153.7 359.2,154.6 359.4,155.5 359.7,156.3 359.9,157.2 360.1,158.1 360.3,158.9 360.6,159.8 360.8,160.6 361.0,161.5 361.2,162.3 361.5,163.1 361.7,163.9 361.9,164.7 362.2,165.5 362.4,166.3 362.6,167.0 362.8,167.8 363.1,168.5 363.3,169.3 363.5,170.0 363.7,170.7 364.0,171.4 364.2,172.1 364.4,172.8 364.7,173.5 364.9,174.2 365.1,174.8 365.3,175.5 365.6,176.1 365.8,176.7 366.0,177.4 366.2,178.0 366.5,178.6 366.7,179.1 366.9,179.7 367.1,180.3 367.4,180.8 367.6,181.4 367.8,181.9 368.1,182.5 368.3,183.0 368.5,183.5 368.7,184.0 369.0,184.5 369.2,185.0 369.4,185.4 369.6,185.9 369.9,186.3 370.1,186.8 370.3,187.2 370.5,187.6 370.8,188.1 371.0,188.5 371.2,188.9 371.5,189.3 371.7,189.7 371.9,190.0 372.1,190.4 372.4,190.8 372.6,191.1 372.8,191.5 373.0,191.8 373.3,192.1 373.5,192.5 373.7,192.8 373.9,193.1 374.2,193.4 374.4,193.7 374.6,194.0 374.8,194.3 375.1,194.6 375.3,194.9 375.5,195.1 375.8,195.4 376.0,195.7 376.2,195.9 376.4,196.2 376.7,196.4 376.9,196.7 377.1,196.9 377.3,197.1 377.6,197.3 377.8,197.6 378.0,197.8 378.3,198.0 378.5,198.2 378.7,198.4 378.9,198.6 379.2,198.8 379.4,199.0 379.6,199.2 379.9,199.4 380.1,199.6 380.3,199.7 380.5,199.9 380.8,200.1 381.0,200.2 381.2,200.4 381.5,200.6 381.7,200.7 381.9,200.9 382.1,201.1 382.4,201.2 382.6,201.4 382.8,201.5 383.1,201.6 383.3,201.8 383.5,201.9 383.7,202.1 384.0,202.2 384.2,202.3 384.4,202.5 384.7,202.6 384.9,202.7 385.1,202.9 385.4,203.0 385.6,203.1 385.8,203.2 386.0,203.3 386.3,203.5 386.5,203.6 386.7,203.7 387.0,203.8 387.2,203.9 387.4,204.0 387.7,204.1 387.9,204.2 388.1,204.4 388.3,204.5 388.6,204.6 388.8,204.7 389.0,204.8 389.3,204.9 389.5,205.0 389.7,205.1 390.0,205.2 390.2,205.3 390.4,205.4 390.7,205.5 390.9,205.6 391.1,205.7 391.4,205.8 391.6,205.9 391.8,205.9 392.1,206.0 392.3,206.1 392.5,206.2 392.8,206.3 393.0,206.4 393.2,206.5 393.5,206.6 393.7,206.7 393.9,206.8 394.2,206.8 394.4,206.9 394.6,207.0 394.9,207.1 395.1,207.2 395.3,207.3 395.6,207.4 395.8,207.5 396.0,207.5 396.3,207.6 396.5,207.7 396.7,207.8 397.0,207.9 397.2,208.0 397.4,208.0 397.7,208.1 397.9,208.2 398.2,208.3 398.4,208.4 398.6,208.5 398.9,208.5 399.1,208.6 399.3,208.7 399.6,208.8 399.8,208.9 400.0,208.9 400.3,209.0 400.5,209.1 400.8,209.2 401.0,209.3 401.2,209.4 401.5,209.4 401.7,209.5 401.9,209.6 402.2,209.7 402.4,209.8 402.6,209.8 402.9,209.9 403.1,210.0 403.4,210.1 403.6,210.2 403.8,210.2 404.1,210.3 404.3,210.4 404.6,210.5 404.8,210.6 405.0,210.6 405.3,210.7 405.5,210.8 405.7,210.9 406.0,210.9 406.2,211.0 406.5,211.1 406.7,211.2 406.9,211.3 407.2,211.3 407.4,211.4 407.7,211.5 407.9,211.6 408.1,211.7 408.4,211.7 408.6,211.8 408.9,211.9 409.1,212.0 409.3,212.1 409.6,212.1 409.6,212.2 321.5,183.4" fill="#6ed21f" fill-opacity="0.78" stroke="none"/>
<line x1="321.5" y1="183.4" x2="409.6" y2="212.2" stroke="#6ed21f" stroke-width="0.9"/>
<polygon points="312.0,186.3 312.2,186.3 312.4,186.4 312.6,186.4 312.8,186.5 313.0,186.5 313.2,186.6 313.4,186.6 313.6,186.7 313.8,186.7 314.0,186.7 314.2,186.8 314.5,186.8 314.7,186.8 314.9,186.8 315.1,186.9 315.3,186.9 315.5,186.9 315.7,186.9 315.9,186.8 316.1,186.8 316.3,186.8 316.5,186.8 316.7,186.7 316.9,186.7 317.1,186.6 317.3,186.5 317.5,186.4 317.7,186.3 317.9,186.2 318.1,186.1 318.3,186.0 318.5,185.8 318.7,185.7 318.9,185.5 319.1,185.3 319.3,185.1 319.5,184.9 319.7,184.6 319.9,184.4 320.1,184.1 320.3,183.8 320.5,183.5 320.7,183.2 320.9,182.9 321.1,182.5 321.3,182.1 321.5,181.7 321.7,181.3 321.9,180.9 322.1,180.4 322.3,180.0 322.5,179.5 322.7,179.0 322.9,178.5 323.1,177.9 323.3,177.4 323.5,176.8 323.7,176.2 323.9,175.6 324.1,175.0 324.3,174.3 324.5,173.6 324.7,173.0 324.9,172.3 325.1,171.6 325.3,170.8 325.4,170.1 325.6,169.4 325.8,168.6 326.0,167.8 326.2,167.0 326.4,166.2 326.6,165.4 326.8,164.6 327.0,163.8 327.2,163.0 327.4,162.1 327.6,161.3 327.8,160.4 328.0,159.6 328.2,158.7 328.4,157.8 328.6,157.0 328.8,156.1 329.0,155.2 329.2,154.4 329.4,153.5 329.6,152.7 329.8,151.8 330.0,150.9 330.2,150.1 330.3,149.2 330.5,148.4 330.7,147.6 330.9,146.8 331.1,145.9 331.3,145.1 331.5,144.3 331.7,143.6 331.9,142.8 332.1,142.0 332.3,141.3 332.5,140.6 332.7,139.9 333.0,139.2 333.2,138.5 333.4,137.8 333.6,137.2 333.8,136.6 334.0,135.9 334.2,135.4 334.4,134.8 334.6,134.2 334.8,133.7 335.0,133.2 335.2,132.7 335.4,132.3 335.6,131.8 335.8,131.4 336.0,131.0 336.3,130.6 336.5,130.3 336.7,130.0 336.9,129.7 337.1,129.4 337.3,129.1 337.5,128.9 337.7,128.7 338.0,128.5 338.2,128.4 338.4,128.2 338.6,128.1 338.8,128.0 339.0,128.0 339.2,127.9 339.5,127.9 339.7,127.9 339.9,128.0 340.1,128.0 340.3,128.1 340.6,128.2 340.8,128.3 341.0,128.5 341.2,128.6 341.4,128.8 341.7,129.0 341.9,129.3 342.1,129.5 342.3,129.8 342.5,130.1 342.8,130.4 343.0,130.7 343.2,131.1 343.4,131.4 343.7,131.8 343.9,132.2 344.1,132.6 344.3,133.0 344.6,133.5 344.8,133.9 345.0,134.4 345.2,134.9 345.5,135.4 345.7,135.9 345.9,136.4 346.1,137.0 346.4,137.5 346.6,138.1 346.8,138.7 347.1,139.3 347.3,139.9 347.5,140.5 347.7,141.1 348.0,141.7 348.2,142.3 348.4,143.0 348.7,143.6 348.9,144.2 349.1,144.9 349.3,145.6 349.6,146.2 349.8,146.9 350.0,147.6 350.3,148.3 350.5,148.9 350.7,149.6 350.9,150.3 351.2,151.0 351.4,151.7 351.6,152.4 351.9,153.1 352.1,153.8 352.3,154.5 352.6,155.2 352.8,155.9 353.0,156.6 353.2,157.3 353.5,158.0 353.7,158.7 353.9,159.4 354.2,160.1 354.4,160.7 354.6,161.4 354.9,162.1 355.1,162.8 355.3,163.5 355.6,164.2 355.8,164.8 356.0,165.5 356.2,166.2 356.5,166.8 356.7,167.5 356.9,168.1 357.2,168.8 357.4,169.4 357.6,170.1 357.9,170.7 358.1,171.3 358.3,172.0 358.5,172.6 358.8,173.2 359.0,173.8 359.2,174.4 359.5,175.0 359.7,175.6 359.9,176.2 360.2,176.7 360.4,177.3 360.6,177.9 360.8,178.4 361.1,179.0 361.3,179.5 361.5,180.1 361.8,180.6 362.0,181.1 362.2,181.7 362.5,182.2 362.7,182.7 362.9,183.2 363.1,183.7 363.4,184.2 363.6,184.7 363.8,185.2 364.1,185.6 364.3,186.1 364.5,186.6 364.8,187.0 365.0,187.5 365.2,187.9 365.4,188.3 365.7,188.8 365.9,189.2 366.1,189.6 366.4,190.0 366.6,190.4 366.8,190.8 367.1,191.2 367.3,191.6 367.5,192.0 367.8,192.4 368.0,192.7 368.2,193.1 368.4,193.5 368.7,193.8 368.9,194.2 369.1,194.5 369.4,194.8 369.6,195.2 369.8,195.5 370.1,195.8 370.3,196.1 370.5,196.4 370.7,196.8 371.0,197.1 371.2,197.4 371.4,197.7 371.7,197.9 371.9,198.2 372.1,198.5 372.4,198.8 372.6,199.1 372.8,199.3 373.1,199.6 373.3,199.8 373.5,200.1 373.7,200.3 374.0,200.6 374.2,200.8 374.4,201.1 374.7,201.3 374.9,201.5 375.1,201.8 375.4,202.0 375.6,202.2 375.8,202.4 376.1,202.6 376.3,202.9 376.5,203.1 376.8,203.3 377.0,203.5 377.2,203.7 377.5,203.9 377.7,204.1 377.9,204.2 378.2,204.4 378.4,204.6 378.6,204.8 378.9,205.0 379.1,205.2 379.3,205.3 379.6,205.5 379.8,205.7 380.0,205.8 380.3,206.0 380.5,206.2 380.7,206.3 381.0,206.5 381.2,206.6 381.4,206.8 381.7,206.9 381.9,207.1 382.1,207.2 382.4,207.4 382.6,207.5 382.8,207.7 383.1,207.8 383.3,207.9 383.5,208.1 383.8,208.2 384.0,208.4 384.2,208.5 384.5,208.6 384.7,208.7 384.9,208.9 385.2,209.0 385.4,209.1 385.6,209.3 385.9,209.4 386.1,209.5 386.3,209.6 386.6,209.7 386.8,209.9 387.1,210.0 387.3,210.1 387.5,210.2 387.8,210.3 388.0,210.4 388.2,210.5 388.5,210.7 388.7,210.8 388.9,210.9 389.2,211.0 389.4,211.1 389.7,211.2 389.9,211.3 390.1,211.4 390.4,211.5 390.6,211.6 390.8,211.7 391.1,211.8 391.3,211.9 391.6,212.0 391.8,212.1 392.0,212.2 392.3,212.3 392.5,212.4 392.7,212.5 393.0,212.6 393.2,212.7 393.5,212.8 393.7,212.9 393.9,213.0 394.2,213.1 394.4,213.2 394.7,213.3 394.9,213.4 395.1,213.5 395.4,213.6 395.6,213.7 395.9,213.7 396.1,213.8 396.3,213.9 396.6,214.0 396.8,214.1 397.1,214.2 397.3,214.3 397.5,214.4 397.8,214.5 398.0,214.6 398.3,214.6 398.5,214.7 398.7,214.8 399.0,214.9 399.2,215.0 399.5,215.1 399.7,215.2 399.9,215.3 400.2,215.3 400.4,215.4 400.4,215.6 312.0,186.3" fill="#bed21f" fill-opacity="0.78" stroke="none"/>
<line x1="312.0" y1="186.3" x2="400.4" y2="215.6" stroke="#bed21f" stroke-width="0.9"/>
<polygon points="302.3,189.2 302.5,189.3 302.7,189.4 302.9,189.4 303.2,189.5 303.4,189.6 303.6,189.6 303.8,189.7 304.0,189.8 304.2,189.8 304.4,189.9 304.6,190.0 304.8,190.0 305.0,190.1 305.2,190.2 305.4,190.2 305.6,190.3 305.8,190.4 306.0,190.4 306.2,190.5 306.4,190.6 306.6,190.6 306.8,190.7 307.0,190.8 307.2,190.8 307.5,190.9 307.7,190.9 307.9,191.0 308.1,191.0 308.3,191.1 308.5,191.1 308.7,191.2 308.9,191.2 309.1,191.2 309.3,191.3 309.5,191.3 309.7,191.3 309.9,191.3 310.1,191.3 310.3,191.3 310.5,191.3 310.7,191.3 310.9,191.3 311.2,191.2 311.4,191.2 311.6,191.1 311.8,191.1 312.0,191.0 312.2,190.9 312.4,190.7 312.6,190.6 312.8,190.5 313.0,190.3 313.2,190.1 313.4,189.9 313.6,189.7 313.8,189.4 314.0,189.1 314.2,188.8 314.4,188.5 314.6,188.2 314.8,187.8 315.0,187.4 315.2,187.0 315.4,186.5 315.6,186.0 315.8,185.5 316.0,184.9 316.2,184.4 316.4,183.7 316.6,183.1 316.8,182.4 317.0,181.7 317.2,181.0 317.4,180.2 317.5,179.4 317.7,178.5 317.9,177.7 318.1,176.7 318.3,175.8 318.5,174.8 318.7,173.8 318.9,172.8 319.1,171.7 319.3,170.6 319.4,169.5 319.6,168.3 319.8,167.1 320.0,165.9 320.2,164.7 320.4,163.4 320.6,162.2 320.8,160.9 320.9,159.6 321.1,158.2 321.3,156.9 321.5,155.5 321.7,154.1 321.9,152.7 322.1,151.3 322.2,149.9 322.4,148.5 322.6,147.1 322.8,145.7 323.0,144.3 323.2,142.9 323.4,141.5 323.6,140.1 323.7,138.8 323.9,137.4 324.1,136.0 324.3,134.7 324.5,133.4 324.7,132.1 324.9,130.8 325.1,129.6 325.3,128.4 325.5,127.2 325.7,126.0 325.8,124.9 326.0,123.8 326.2,122.7 326.4,121.7 326.6,120.7 326.8,119.8 327.0,118.9 327.2,118.0 327.4,117.2 327.6,116.4 327.9,115.7 328.1,115.0 328.3,114.4 328.5,113.8 328.7,113.3 328.9,112.8 329.1,112.3 329.3,111.9 329.5,111.6 329.7,111.3 330.0,111.1 330.2,110.9 330.4,110.8 330.6,110.7 330.8,110.7 331.0,110.7 331.3,110.7 331.5,110.9 331.7,111.0 331.9,111.2 332.2,111.5 332.4,111.8 332.6,112.1 332.8,112.5 333.1,113.0 333.3,113.5 333.5,114.0 333.7,114.5 334.0,115.1 334.2,115.8 334.4,116.5 334.7,117.2 334.9,117.9 335.1,118.7 335.4,119.5 335.6,120.3 335.8,121.2 336.1,122.1 336.3,123.0 336.6,124.0 336.8,124.9 337.0,125.9 337.3,126.9 337.5,128.0 337.7,129.0 338.0,130.1 338.2,131.2 338.5,132.3 338.7,133.4 338.9,134.5 339.2,135.6 339.4,136.7 339.7,137.9 339.9,139.0 340.1,140.2 340.4,141.4 340.6,142.5 340.9,143.7 341.1,144.9 341.3,146.0 341.6,147.2 341.8,148.4 342.1,149.5 342.3,150.7 342.5,151.8 342.8,153.0 343.0,154.1 343.3,155.3 343.5,156.4 343.7,157.5 344.0,158.6 344.2,159.7 344.5,160.8 344.7,161.9 344.9,163.0 345.2,164.0 345.4,165.1 345.6,166.1 345.9,167.2 346.1,168.2 346.4,169.2 346.6,170.1 346.8,171.1 347.1,172.1 347.3,173.0 347.5,173.9 347.8,174.9 348.0,175.8 348.3,176.6 348.5,177.5 348.7,178.4 349.0,179.2 349.2,180.0 349.4,180.8 349.7,181.6 349.9,182.4 350.1,183.2 350.4,183.9 350.6,184.7 350.8,185.4 351.1,186.1 351.3,186.8 351.5,187.5 351.8,188.1 352.0,188.8 352.2,189.4 352.5,190.0 352.7,190.6 352.9,191.2 353.2,191.8 353.4,192.4 353.6,192.9 353.9,193.4 354.1,194.0 354.3,194.5 354.6,195.0 354.8,195.5 355.0,196.0 355.3,196.4 355.5,196.9 355.7,197.3 356.0,197.8 356.2,198.2 356.4,198.6 356.7,199.0 356.9,199.4 357.1,199.8 357.3,200.1 357.6,200.5 357.8,200.9 358.0,201.2 358.3,201.5 358.5,201.9 358.7,202.2 359.0,202.5 359.2,202.8 359.4,203.1 359.7,203.4 359.9,203.7 360.1,203.9 360.4,204.2 360.6,204.5 360.8,204.7 361.0,205.0 361.3,205.2 361.5,205.4 361.7,205.7 362.0,205.9 362.2,206.1 362.4,206.3 362.7,206.5 362.9,206.8 363.1,207.0 363.4,207.1 363.6,207.3 363.8,207.5 364.1,207.7 364.3,207.9 364.5,208.1 364.8,208.2 365.0,208.4 365.2,208.6 365.4,208.7 365.7,208.9 365.9,209.0 366.1,209.2 366.4,209.3 366.6,209.5 366.8,209.6 367.1,209.8 367.3,209.9 367.5,210.0 367.8,210.2 368.0,210.3 368.2,210.4 368.5,210.6 368.7,210.7 368.9,210.8 369.2,210.9 369.4,211.0 369.6,211.2 369.9,211.3 370.1,211.4 370.3,211.5 370.6,211.6 370.8,211.7 371.0,211.8 371.3,211.9 371.5,212.0 371.7,212.1 372.0,212.2 372.2,212.3 372.4,212.4 372.7,212.5 372.9,212.6 373.1,212.7 373.4,212.8 373.6,212.9 373.9,213.0 374.1,213.1 374.3,213.2 374.6,213.3 374.8,213.4 375.0,213.5 375.3,213.6 375.5,213.7 375.7,213.8 376.0,213.9 376.2,214.0 376.4,214.1 376.7,214.1 376.9,214.2 377.2,214.3 377.4,214.4 377.6,214.5 377.9,214.6 378.1,214.7 378.3,214.8 378.6,214.8 378.8,214.9 379.0,215.0 379.3,215.1 379.5,215.2 379.8,215.3 380.0,215.4 380.2,215.4 380.5,215.5 380.7,215.6 380.9,215.7 381.2,215.8 381.4,215.9 381.7,215.9 381.9,216.0 382.1,216.1 382.4,216.2 382.6,216.3 382.9,216.4 383.1,216.4 383.3,216.5 383.6,216.6 383.8,216.7 384.1,216.8 384.3,216.9 384.5,216.9 384.8,217.0 385.0,217.1 385.3,217.2 385.5,217.3 385.7,217.4 386.0,217.4 386.2,217.5 386.5,217.6 386.7,217.7 386.9,217.8 387.2,217.8 387.4,217.9 387.7,218.0 387.9,218.1 388.1,218.2 388.4,218.3 388.6,218.3 388.9,218.4 389.1,218.5 389.4,218.6 389.6,218.7 389.8,218.8 390.1,218.8 390.3,218.9 390.6,219.0 390.8,219.1 391.0,219.2 391.0,219.2 302.3,189.2" fill="#d6851f" fill-opacity="0.78" stroke="none"/>
<line x1="302.3" y1="189.2" x2="391.0" y2="219.2" stroke="#d6851f" stroke-width="0.9"/>
<polygon points="292.4,191.8 292.6,191.8 292.8,191.8 293.0,191.8 293.2,191.8 293.4,191.8 293.6,191.7 293.8,191.7 294.1,191.7 294.3,191.6 294.5,191.5 294.7,191.5 294.9,191.4 295.1,191.3 295.3,191.2 295.5,191.1 295.7,191.0 295.9,190.8 296.1,190.7 296.3,190.5 296.5,190.3 296.7,190.1 296.9,189.9 297.1,189.7 297.3,189.5 297.5,189.2 297.7,189.0 297.8,188.7 298.0,188.4 298.2,188.1 298.4,187.8 298.6,187.5 298.8,187.1 299.0,186.8 299.2,186.4 299.4,186.0 299.6,185.6 299.8,185.2 300.0,184.7 300.2,184.3 300.4,183.8 300.6,183.3 300.8,182.8 301.0,182.3 301.2,181.8 301.4,181.3 301.6,180.7 301.8,180.2 301.9,179.6 302.1,179.0 302.3,178.4 302.5,177.8 302.7,177.2 302.9,176.6 303.1,176.0 303.3,175.3 303.5,174.7 303.7,174.0 303.9,173.4 304.1,172.7 304.3,172.0 304.4,171.4 304.6,170.7 304.8,170.0 305.0,169.3 305.2,168.6 305.4,167.9 305.6,167.2 305.8,166.5 306.0,165.8 306.2,165.1 306.4,164.4 306.6,163.7 306.8,163.0 307.0,162.3 307.2,161.6 307.3,160.9 307.5,160.3 307.7,159.6 307.9,158.9 308.1,158.2 308.3,157.6 308.5,156.9 308.7,156.3 308.9,155.6 309.1,155.0 309.3,154.4 309.5,153.8 309.7,153.2 309.9,152.6 310.1,152.0 310.3,151.4 310.5,150.9 310.7,150.3 310.9,149.8 311.1,149.3 311.3,148.8 311.5,148.3 311.7,147.8 311.9,147.3 312.1,146.9 312.3,146.4 312.5,146.0 312.7,145.6 312.9,145.2 313.1,144.9 313.3,144.5 313.6,144.2 313.8,143.8 314.0,143.5 314.2,143.3 314.4,143.0 314.6,142.7 314.8,142.5 315.0,142.3 315.2,142.1 315.4,141.9 315.7,141.7 315.9,141.5 316.1,141.4 316.3,141.3 316.5,141.2 316.7,141.1 316.9,141.0 317.1,141.0 317.4,140.9 317.6,140.9 317.8,140.9 318.0,140.9 318.2,140.9 318.5,141.0 318.7,141.1 318.9,141.1 319.1,141.2 319.3,141.3 319.5,141.5 319.8,141.6 320.0,141.7 320.2,141.9 320.4,142.1 320.7,142.3 320.9,142.5 321.1,142.7 321.3,143.0 321.5,143.2 321.8,143.5 322.0,143.7 322.2,144.0 322.4,144.3 322.7,144.6 322.9,145.0 323.1,145.3 323.3,145.6 323.6,146.0 323.8,146.4 324.0,146.7 324.3,147.1 324.5,147.5 324.7,147.9 324.9,148.3 325.2,148.7 325.4,149.2 325.6,149.6 325.8,150.1 326.1,150.5 326.3,151.0 326.5,151.4 326.8,151.9 327.0,152.4 327.2,152.9 327.5,153.4 327.7,153.9 327.9,154.4 328.1,154.9 328.4,155.4 328.6,155.9 328.8,156.4 329.1,156.9 329.3,157.5 329.5,158.0 329.8,158.5 330.0,159.1 330.2,159.6 330.5,160.1 330.7,160.7 330.9,161.2 331.2,161.8 331.4,162.3 331.6,162.9 331.9,163.4 332.1,164.0 332.3,164.5 332.6,165.1 332.8,165.6 333.0,166.2 333.2,166.7 333.5,167.3 333.7,167.8 333.9,168.4 334.2,168.9 334.4,169.5 334.6,170.0 334.9,170.6 335.1,171.1 335.3,171.7 335.6,172.2 335.8,172.8 336.0,173.3 336.3,173.8 336.5,174.4 336.7,174.9 337.0,175.4 337.2,176.0 337.4,176.5 337.7,177.0 337.9,177.5 338.1,178.0 338.4,178.6 338.6,179.1 338.8,179.6 339.1,180.1 339.3,180.6 339.5,181.1 339.8,181.6 340.0,182.1 340.2,182.6 340.5,183.0 340.7,183.5 340.9,184.0 341.2,184.5 341.4,185.0 341.6,185.4 341.9,185.9 342.1,186.3 342.3,186.8 342.6,187.2 342.8,187.7 343.0,188.1 343.3,188.6 343.5,189.0 343.7,189.4 344.0,189.9 344.2,190.3 344.4,190.7 344.7,191.1 344.9,191.5 345.1,191.9 345.4,192.3 345.6,192.7 345.8,193.1 346.1,193.5 346.3,193.9 346.5,194.3 346.8,194.7 347.0,195.1 347.2,195.4 347.5,195.8 347.7,196.2 347.9,196.5 348.2,196.9 348.4,197.2 348.6,197.6 348.9,197.9 349.1,198.3 349.3,198.6 349.6,198.9 349.8,199.2 350.0,199.6 350.3,199.9 350.5,200.2 350.7,200.5 351.0,200.8 351.2,201.1 351.4,201.4 351.7,201.7 351.9,202.0 352.1,202.3 352.4,202.6 352.6,202.9 352.8,203.2 353.1,203.5 353.3,203.7 353.5,204.0 353.8,204.3 354.0,204.5 354.3,204.8 354.5,205.1 354.7,205.3 355.0,205.6 355.2,205.8 355.4,206.1 355.7,206.3 355.9,206.6 356.1,206.8 356.4,207.0 356.6,207.3 356.8,207.5 357.1,207.7 357.3,207.9 357.5,208.2 357.8,208.4 358.0,208.6 358.2,208.8 358.5,209.0 358.7,209.2 358.9,209.4 359.2,209.6 359.4,209.9 359.7,210.1 359.9,210.2 360.1,210.4 360.4,210.6 360.6,210.8 360.8,211.0 361.1,211.2 361.3,211.4 361.5,211.6 361.8,211.8 362.0,211.9 362.2,212.1 362.5,212.3 362.7,212.5 363.0,212.6 363.2,212.8 363.4,213.0 363.7,213.1 363.9,213.3 364.1,213.5 364.4,213.6 364.6,213.8 364.9,213.9 365.1,214.1 365.3,214.2 365.6,214.4 365.8,214.5 366.0,214.7 366.3,214.8 366.5,215.0 366.8,215.1 367.0,215.3 367.2,215.4 367.5,215.6 367.7,215.7 367.9,215.8 368.2,216.0 368.4,216.1 368.7,216.3 368.9,216.4 369.1,216.5 369.4,216.7 369.6,216.8 369.9,216.9 370.1,217.0 370.3,217.2 370.6,217.3 370.8,217.4 371.0,217.5 371.3,217.7 371.5,217.8 371.8,217.9 372.0,218.0 372.2,218.2 372.5,218.3 372.7,218.4 373.0,218.5 373.2,218.6 373.4,218.7 373.7,218.9 373.9,219.0 374.2,219.1 374.4,219.2 374.6,219.3 374.9,219.4 375.1,219.5 375.4,219.7 375.6,219.8 375.9,219.9 376.1,220.0 376.3,220.1 376.6,220.2 376.8,220.3 377.1,220.4 377.3,220.5 377.5,220.6 377.8,220.7 378.0,220.8 378.3,220.9 378.5,221.0 378.8,221.1 379.0,221.2 379.2,221.4 379.5,221.5 379.7,221.6 380.0,221.7 380.2,221.8 380.5,221.9 380.7,222.0 381.0,222.1 381.2,222.2 381.4,222.3 381.4,222.8 292.4,192.2" fill="#d52631" fill-opacity="0.78" stroke="none"/>
<line x1="292.4" y1="192.2" x2="381.4" y2="222.8" stroke="#d52631" stroke-width="0.9"/>
<line x1="273.3" y1="192.1" x2="379.2" y2="229.2" stroke="#333" stroke-width="0.8"/>
<line x1="379.2" y1="229.2" x2="475.3" y2="192.1" stroke="#333" stroke-width="0.8"/>
<text font-size="10.60" font-weight="bold" textLength="12.8" lengthAdjust="spacingAndGlyphs" x="250.8" y="9.3" fill="#000">(b)</text>
<text font-size="11.20" font-weight="bold" textLength="130.4" lengthAdjust="spacingAndGlyphs" x="307.6" y="9.9" fill="#000">Pdfs of Division Length</text>
<text font-size="10.00" textLength="181.7" lengthAdjust="spacingAndGlyphs" x="282.2" y="24.0" fill="#000">Gamma fitted distributions per Generation</text>
<text font-size="8.50" font-weight="bold" text-anchor="middle" textLength="76.0" lengthAdjust="spacingAndGlyphs" transform="translate(261.3,124.0) rotate(-90.0)" fill="#000">Probability Density</text>
<text font-size="8.00" font-weight="bold" text-anchor="middle" textLength="11.0" lengthAdjust="spacingAndGlyphs" transform="translate(278.0,54.5) rotate(-7.0)" fill="#000">0.7</text>
<text font-size="8.00" font-weight="bold" text-anchor="middle" textLength="11.0" lengthAdjust="spacingAndGlyphs" transform="translate(278.7,74.5) rotate(-7.0)" fill="#000">0.6</text>
<text font-size="8.00" font-weight="bold" text-anchor="middle" textLength="11.0" lengthAdjust="spacingAndGlyphs" transform="translate(279.4,94.6) rotate(-7.0)" fill="#000">0.5</text>
<text font-size="8.00" font-weight="bold" text-anchor="middle" textLength="11.0" lengthAdjust="spacingAndGlyphs" transform="translate(280.0,114.6) rotate(-7.0)" fill="#000">0.4</text>
<text font-size="8.00" font-weight="bold" text-anchor="middle" textLength="11.0" lengthAdjust="spacingAndGlyphs" transform="translate(280.7,134.6) rotate(-7.0)" fill="#000">0.3</text>
<text font-size="8.00" font-weight="bold" text-anchor="middle" textLength="11.0" lengthAdjust="spacingAndGlyphs" transform="translate(281.4,154.6) rotate(-7.0)" fill="#000">0.2</text>
<text font-size="8.00" font-weight="bold" text-anchor="middle" textLength="11.0" lengthAdjust="spacingAndGlyphs" transform="translate(282.0,174.6) rotate(-7.0)" fill="#000">0.1</text>
<text font-size="9.60" font-weight="bold" text-anchor="middle" textLength="4.4" lengthAdjust="spacingAndGlyphs" transform="translate(268.1,197.9) rotate(20.0) skewX(-10.0)" fill="#000">0</text>
<text font-size="9.60" font-weight="bold" text-anchor="middle" textLength="4.4" lengthAdjust="spacingAndGlyphs" transform="translate(286.5,206.2) rotate(20.0) skewX(-10.0)" fill="#000">2</text>
<text font-size="9.60" font-weight="bold" text-anchor="middle" textLength="4.4" lengthAdjust="spacingAndGlyphs" transform="translate(306.1,213.2) rotate(20.0) skewX(-10.0)" fill="#000">4</text>
<text font-size="9.60" font-weight="bold" text-anchor="middle" textLength="4.4" lengthAdjust="spacingAndGlyphs" transform="translate(325.8,220.4) rotate(20.0) skewX(-10.0)" fill="#000">6</text>
<text font-size="9.60" font-weight="bold" text-anchor="middle" textLength="4.4" lengthAdjust="spacingAndGlyphs" transform="translate(346.5,227.6) rotate(20.0) skewX(-10.0)" fill="#000">8</text>
<text font-size="9.60" font-weight="bold" text-anchor="middle" textLength="8.7" lengthAdjust="spacingAndGlyphs" transform="translate(372.9,238.1) rotate(20.0) skewX(-10.0)" fill="#000">10</text>
<text font-size="9.20" font-weight="bold" text-anchor="middle" textLength="78.0" lengthAdjust="spacingAndGlyphs" transform="translate(295.7,222.2) rotate(23.5) skewX(-6.0)" fill="#000">Division Length (μm)</text>
<text font-size="6.80" font-weight="bold" text-anchor="middle" transform="translate(387.6,232.7) rotate(-10.0) skewX(-8.0)" fill="#000">0</text>
<text font-size="6.80" font-weight="bold" text-anchor="middle" transform="translate(396.8,229.0) rotate(-10.0) skewX(-8.0)" fill="#000">1</text>
<text font-size="6.80" font-weight="bold" text-anchor="middle" transform="translate(406.2,225.5) rotate(-10.0) skewX(-8.0)" fill="#000">2</text>
<text font-size="6.80" font-weight="bold" text-anchor="middle" transform="translate(415.3,221.8) rotate(-10.0) skewX(-8.0)" fill="#000">3</text>
<text font-size="6.80" font-weight="bold" text-anchor="middle" transform="translate(424.7,218.5) rotate(-10.0) skewX(-8.0)" fill="#000">4</text>
<text font-size="6.80" font-weight="bold" text-anchor="middle" transform="translate(433.5,215.2) rotate(-10.0) skewX(-8.0)" fill="#000">5</text>
<text font-size="6.80" font-weight="bold" text-anchor="middle" transform="translate(442.2,212.0) rotate(-10.0) skewX(-8.0)" fill="#000">6</text>
<text font-size="6.80" font-weight="bold" text-anchor="middle" transform="translate(450.3,208.7) rotate(-10.0) skewX(-8.0)" fill="#000">7</text>
<text font-size="6.80" font-weight="bold" text-anchor="middle" transform="translate(458.6,205.4) rotate(-10.0) skewX(-8.0)" fill="#000">8</text>
<text font-size="6.80" font-weight="bold" text-anchor="middle" transform="translate(466.6,202.1) rotate(-10.0) skewX(-8.0)" fill="#000">9</text>
<text font-size="9.20" font-weight="bold" text-anchor="middle" textLength="44.0" lengthAdjust="spacingAndGlyphs" transform="translate(435.6,233.6) rotate(-17.6)" fill="#000">Generation</text>
<polygon points="527.3,190.9 615.9,228.1 703.5,191.0 615.4,161.0" fill="#d6d6d6" stroke="none"/>
<line x1="523.4" y1="51.4" x2="615.4" y2="34.6" stroke="#333" stroke-width="0.8"/>
<line x1="615.4" y1="34.6" x2="706.8" y2="51.5" stroke="#333" stroke-width="0.8"/>
<line x1="527.3" y1="190.9" x2="523.4" y2="51.4" stroke="#333" stroke-width="0.8"/>
<line x1="615.4" y1="161.0" x2="615.4" y2="34.6" stroke="#333" stroke-width="0.8"/>
<line x1="703.5" y1="191.0" x2="706.8" y2="51.5" stroke="#333" stroke-width="0.8"/>
<line x1="615.4" y1="161.0" x2="703.5" y2="191.0" stroke="#333" stroke-width="0.8"/>
<line x1="527.3" y1="190.9" x2="615.4" y2="161.0" stroke="#333" stroke-width="0.8"/>
<line x1="611.1" y1="218.7" x2="624.7" y2="224.4" stroke="#333" stroke-width="0.7"/>
<line x1="619.8" y1="215.2" x2="633.4" y2="220.7" stroke="#333" stroke-width="0.7"/>
<line x1="628.2" y1="211.7" x2="641.9" y2="217.1" stroke="#333" stroke-width="0.7"/>
<line x1="636.5" y1="208.3" x2="650.2" y2="213.6" stroke="#333" stroke-width="0.7"/>
<line x1="644.7" y1="205.0" x2="658.3" y2="210.2" stroke="#333" stroke-width="0.7"/>
<line x1="652.6" y1="201.7" x2="666.2" y2="206.8" stroke="#333" stroke-width="0.7"/>
<line x1="660.4" y1="198.6" x2="674.0" y2="203.5" stroke="#333" stroke-width="0.7"/>
<line x1="668.0" y1="195.4" x2="681.6" y2="200.3" stroke="#333" stroke-width="0.7"/>
<line x1="675.5" y1="192.4" x2="689.0" y2="197.1" stroke="#333" stroke-width="0.7"/>
<line x1="682.9" y1="189.4" x2="696.3" y2="194.0" stroke="#333" stroke-width="0.7"/>
<line x1="526.0" y1="145.6" x2="527.6" y2="146.2" stroke="#333" stroke-width="0.7"/>
<line x1="524.7" y1="99.2" x2="526.4" y2="99.6" stroke="#333" stroke-width="0.7"/>
<polygon points="608.1,163.5 608.1,87.1 608.3,83.2 608.5,81.5 608.7,80.9 608.8,80.7 609.0,80.9 609.2,81.4 609.4,82.0 609.6,82.8 609.8,83.7 609.9,84.6 610.1,85.6 610.3,86.6 610.5,87.7 610.7,88.8 610.9,89.9 611.0,91.0 611.2,92.2 611.4,93.3 611.6,94.5 611.8,95.6 612.0,96.8 612.1,97.9 612.3,99.1 612.5,100.2 612.7,101.3 612.9,102.5 613.1,103.6 613.2,104.7 613.4,105.8 613.6,106.8 613.8,107.9 614.0,109.0 614.2,110.0 614.3,111.0 614.5,112.1 614.7,113.1 614.9,114.1 615.1,115.0 615.3,116.0 615.4,117.0 615.6,117.9 615.8,118.8 616.0,119.8 616.2,120.7 616.4,121.5 616.5,122.4 616.7,123.3 616.9,124.1 617.1,125.0 617.3,125.8 617.5,126.6 617.7,127.4 617.8,128.2 618.0,129.0 618.2,129.7 618.4,130.5 618.6,131.2 618.8,132.0 618.9,132.7 619.1,133.4 619.3,134.1 619.5,134.8 619.7,135.4 619.9,136.1 620.0,136.7 620.2,137.4 620.4,138.0 620.6,138.6 620.8,139.2 621.0,139.8 621.1,140.4 621.3,141.0 621.5,141.6 621.7,142.2 621.9,142.7 622.1,143.3 622.2,143.8 622.4,144.3 622.6,144.8 622.8,145.4 623.0,145.9 623.2,146.4 623.4,146.8 623.5,147.3 623.7,147.8 623.9,148.3 624.1,148.7 624.3,149.2 624.5,149.6 624.6,150.0 624.8,150.5 625.0,150.9 625.2,151.3 625.4,151.7 625.6,152.1 625.8,152.5 625.9,152.9 626.1,153.3 626.3,153.7 626.5,154.0 626.7,154.4 626.9,154.8 627.1,155.1 627.2,155.5 627.4,155.8 627.6,156.2 627.8,156.5 628.0,156.8 628.2,157.2 628.4,157.5 628.5,157.8 628.7,158.1 628.9,158.4 629.1,158.7 629.3,159.0 629.5,159.3 629.7,159.6 629.9,159.9 630.0,160.1 630.2,160.4 630.4,160.7 630.6,161.0 630.8,161.2 631.0,161.5 631.2,161.7 631.4,162.0 631.5,162.2 631.7,162.5 631.9,162.7 632.1,163.0 632.3,163.2 632.5,163.4 632.7,163.7 632.9,163.9 633.0,164.1 633.2,164.3 633.4,164.5 633.6,164.8 633.8,165.0 634.0,165.2 634.2,165.4 634.4,165.6 634.6,165.8 634.7,166.0 634.9,166.2 635.1,166.4 635.3,166.6 635.5,166.8 635.7,166.9 635.9,167.1 636.1,167.3 636.3,167.5 636.4,167.7 636.6,167.8 636.8,168.0 637.0,168.2 637.2,168.4 637.4,168.5 637.6,168.7 637.8,168.8 638.0,169.0 638.2,169.2 638.3,169.3 638.5,169.5 638.7,169.6 638.9,169.8 639.1,169.9 639.3,170.1 639.5,170.2 639.7,170.4 639.9,170.5 640.1,170.7 640.3,170.8 640.5,171.0 640.6,171.1 640.8,171.2 641.0,171.4 641.2,171.5 641.4,171.6 641.6,171.8 641.8,171.9 642.0,172.0 642.2,172.2 642.4,172.3 642.6,172.4 642.8,172.5 643.0,172.7 643.1,172.8 643.3,172.9 643.5,173.0 643.7,173.1 643.9,173.3 644.1,173.4 644.3,173.5 644.5,173.6 644.7,173.7 644.9,173.8 645.1,174.0 645.3,174.1 645.5,174.2 645.7,174.3 645.9,174.4 646.0,174.5 646.2,174.6 646.4,174.7 646.6,174.8 646.8,174.9 647.0,175.0 647.2,175.2 647.4,175.3 647.6,175.4 647.8,175.5 648.0,175.6 648.2,175.7 648.4,175.8 648.6,175.9 648.8,176.0 649.0,176.1 649.2,176.2 649.4,176.3 649.6,176.4 649.8,176.5 650.0,176.6 650.1,176.6 650.3,176.7 650.5,176.8 650.7,176.9 650.9,177.0 651.1,177.1 651.3,177.2 651.5,177.3 651.7,177.4 651.9,177.5 652.1,177.6 652.3,177.7 652.5,177.8 652.7,177.8 652.9,177.9 653.1,178.0 653.3,178.1 653.5,178.2 653.7,178.3 653.9,178.4 654.1,178.5 654.3,178.6 654.5,178.6 654.7,178.7 654.9,178.8 655.1,178.9 655.3,179.0 655.5,179.1 655.7,179.2 655.9,179.2 656.1,179.3 656.3,179.4 656.5,179.5 656.7,179.6 656.9,179.7 657.1,179.7 657.3,179.8 657.5,179.9 657.7,180.0 657.9,180.1 658.1,180.1 658.3,180.2 658.5,180.3 658.7,180.4 658.9,180.5 659.1,180.6 659.3,180.6 659.5,180.7 659.7,180.8 659.9,180.9 660.1,181.0 660.3,181.0 660.5,181.1 660.7,181.2 660.9,181.3 661.1,181.4 661.3,181.4 661.5,181.5 661.7,181.6 661.9,181.7 662.1,181.7 662.3,181.8 662.5,181.9 662.7,182.0 662.9,182.1 663.1,182.1 663.3,182.2 663.5,182.3 663.7,182.4 663.9,182.4 664.1,182.5 664.3,182.6 664.5,182.7 664.7,182.8 664.9,182.8 665.1,182.9 665.3,183.0 665.5,183.1 665.7,183.1 665.9,183.2 666.1,183.3 666.3,183.4 666.5,183.4 666.8,183.5 667.0,183.6 667.2,183.7 667.4,183.7 667.6,183.8 667.8,183.9 668.0,184.0 668.2,184.0 668.4,184.1 668.6,184.2 668.8,184.3 669.0,184.3 669.2,184.4 669.4,184.5 669.6,184.6 669.8,184.6 670.0,184.7 670.2,184.8 670.4,184.9 670.6,184.9 670.8,185.0 671.1,185.1 671.3,185.2 671.5,185.2 671.7,185.3 671.9,185.4 672.1,185.5 672.3,185.5 672.5,185.6 672.7,185.7 672.9,185.8 673.1,185.8 673.3,185.9 673.5,186.0 673.7,186.1 673.9,186.1 674.2,186.2 674.4,186.3 674.6,186.4 674.8,186.4 675.0,186.5 675.2,186.6 675.4,186.7 675.6,186.7 675.8,186.8 676.0,186.9 676.2,187.0 676.4,187.0 676.7,187.1 676.9,187.2 677.1,187.3 677.3,187.3 677.5,187.4 677.7,187.5 677.9,187.6 678.1,187.6 678.3,187.7 678.5,187.8 678.7,187.9 679.0,187.9 679.2,188.0 679.4,188.1 679.6,188.2 679.8,188.2 680.0,188.3 680.2,188.4 680.4,188.4 680.6,188.5 680.8,188.6 681.1,188.7 681.3,188.7 681.5,188.8 681.7,188.9 681.9,189.0 682.1,189.0 682.3,189.1 682.5,189.2 682.7,189.3 683.0,189.3 683.2,189.4 683.4,189.5 683.6,189.6 683.8,189.6 684.0,189.7 684.2,189.8 684.4,189.9 684.7,189.9 684.9,190.0 685.1,190.1 685.3,190.2 685.5,190.2 685.7,190.3 685.7,190.4 608.1,163.5" fill="#be25d2" fill-opacity="0.78" stroke="none"/>
<line x1="608.1" y1="163.5" x2="685.7" y2="190.4" stroke="#be25d2" stroke-width="0.9"/>
<polygon points="600.7,166.0 600.8,139.9 600.9,125.5 601.0,114.4 601.1,105.5 601.3,98.1 601.4,92.0 601.6,87.0 601.8,82.8 601.9,79.3 602.1,76.5 602.3,74.3 602.5,72.6 602.6,71.3 602.8,70.4 603.0,69.8 603.2,69.6 603.4,69.6 603.5,69.9 603.7,70.3 603.9,71.0 604.1,71.8 604.3,72.8 604.5,73.9 604.7,75.1 604.9,76.4 605.0,77.8 605.2,79.3 605.4,80.8 605.6,82.4 605.8,84.0 606.0,85.7 606.2,87.4 606.4,89.1 606.6,90.8 606.7,92.6 606.9,94.3 607.1,96.1 607.3,97.8 607.5,99.6 607.7,101.3 607.9,103.0 608.1,104.7 608.3,106.4 608.4,108.1 608.6,109.7 608.8,111.3 609.0,112.9 609.2,114.5 609.4,116.1 609.6,117.6 609.8,119.1 609.9,120.6 610.1,122.0 610.3,123.4 610.5,124.8 610.7,126.2 610.9,127.5 611.1,128.8 611.2,130.1 611.4,131.3 611.6,132.5 611.8,133.7 612.0,134.9 612.2,136.0 612.4,137.1 612.6,138.2 612.7,139.3 612.9,140.3 613.1,141.3 613.3,142.3 613.5,143.2 613.7,144.1 613.9,145.0 614.0,145.9 614.2,146.8 614.4,147.6 614.6,148.4 614.8,149.2 615.0,150.0 615.2,150.7 615.3,151.5 615.5,152.2 615.7,152.9 615.9,153.5 616.1,154.2 616.3,154.8 616.5,155.4 616.6,156.0 616.8,156.6 617.0,157.2 617.2,157.7 617.4,158.3 617.6,158.8 617.8,159.3 617.9,159.8 618.1,160.3 618.3,160.7 618.5,161.2 618.7,161.6 618.9,162.1 619.1,162.5 619.2,162.9 619.4,163.3 619.6,163.7 619.8,164.0 620.0,164.4 620.2,164.8 620.4,165.1 620.5,165.4 620.7,165.8 620.9,166.1 621.1,166.4 621.3,166.7 621.5,167.0 621.7,167.3 621.9,167.6 622.0,167.8 622.2,168.1 622.4,168.4 622.6,168.6 622.8,168.9 623.0,169.1 623.2,169.3 623.4,169.6 623.5,169.8 623.7,170.0 623.9,170.2 624.1,170.4 624.3,170.6 624.5,170.8 624.7,171.0 624.9,171.2 625.0,171.4 625.2,171.6 625.4,171.7 625.6,171.9 625.8,172.1 626.0,172.2 626.2,172.4 626.4,172.6 626.6,172.7 626.7,172.9 626.9,173.0 627.1,173.2 627.3,173.3 627.5,173.5 627.7,173.6 627.9,173.7 628.1,173.9 628.3,174.0 628.5,174.1 628.6,174.2 628.8,174.4 629.0,174.5 629.2,174.6 629.4,174.7 629.6,174.9 629.8,175.0 630.0,175.1 630.2,175.2 630.4,175.3 630.5,175.4 630.7,175.5 630.9,175.6 631.1,175.7 631.3,175.8 631.5,175.9 631.7,176.0 631.9,176.1 632.1,176.2 632.3,176.3 632.5,176.4 632.7,176.5 632.8,176.6 633.0,176.7 633.2,176.8 633.4,176.9 633.6,177.0 633.8,177.1 634.0,177.2 634.2,177.3 634.4,177.3 634.6,177.4 634.8,177.5 635.0,177.6 635.2,177.7 635.3,177.8 635.5,177.9 635.7,177.9 635.9,178.0 636.1,178.1 636.3,178.2 636.5,178.3 636.7,178.4 636.9,178.4 637.1,178.5 637.3,178.6 637.5,178.7 637.7,178.7 637.9,178.8 638.1,178.9 638.3,179.0 638.4,179.1 638.6,179.1 638.8,179.2 639.0,179.3 639.2,179.4 639.4,179.4 639.6,179.5 639.8,179.6 640.0,179.7 640.2,179.7 640.4,179.8 640.6,179.9 640.8,180.0 641.0,180.0 641.2,180.1 641.4,180.2 641.6,180.3 641.8,180.3 642.0,180.4 642.2,180.5 642.4,180.6 642.6,180.6 642.8,180.7 642.9,180.8 643.1,180.9 643.3,180.9 643.5,181.0 643.7,181.1 643.9,181.1 644.1,181.2 644.3,181.3 644.5,181.4 644.7,181.4 644.9,181.5 645.1,181.6 645.3,181.7 645.5,181.7 645.7,181.8 645.9,181.9 646.1,181.9 646.3,182.0 646.5,182.1 646.7,182.2 646.9,182.2 647.1,182.3 647.3,182.4 647.5,182.4 647.7,182.5 647.9,182.6 648.1,182.7 648.3,182.7 648.5,182.8 648.7,182.9 648.9,182.9 649.1,183.0 649.3,183.1 649.5,183.2 649.7,183.2 649.9,183.3 650.1,183.4 650.3,183.4 650.5,183.5 650.7,183.6 650.9,183.7 651.1,183.7 651.3,183.8 651.5,183.9 651.7,183.9 651.9,184.0 652.1,184.1 652.3,184.2 652.5,184.2 652.7,184.3 652.9,184.4 653.1,184.4 653.3,184.5 653.5,184.6 653.7,184.7 653.9,184.7 654.1,184.8 654.3,184.9 654.5,184.9 654.7,185.0 654.9,185.1 655.1,185.2 655.3,185.2 655.5,185.3 655.7,185.4 655.9,185.4 656.1,185.5 656.3,185.6 656.5,185.7 656.7,185.7 656.9,185.8 657.1,185.9 657.3,186.0 657.6,186.0 657.8,186.1 658.0,186.2 658.2,186.2 658.4,186.3 658.6,186.4 658.8,186.5 659.0,186.5 659.2,186.6 659.4,186.7 659.6,186.7 659.8,186.8 660.0,186.9 660.2,187.0 660.4,187.0 660.6,187.1 660.8,187.2 661.0,187.3 661.2,187.3 661.4,187.4 661.6,187.5 661.8,187.5 662.0,187.6 662.3,187.7 662.5,187.8 662.7,187.8 662.9,187.9 663.1,188.0 663.3,188.0 663.5,188.1 663.7,188.2 663.9,188.3 664.1,188.3 664.3,188.4 664.5,188.5 664.7,188.6 664.9,188.6 665.1,188.7 665.4,188.8 665.6,188.9 665.8,188.9 666.0,189.0 666.2,189.1 666.4,189.1 666.6,189.2 666.8,189.3 667.0,189.4 667.2,189.4 667.4,189.5 667.6,189.6 667.8,189.7 668.1,189.7 668.3,189.8 668.5,189.9 668.7,190.0 668.9,190.0 669.1,190.1 669.3,190.2 669.5,190.2 669.7,190.3 669.9,190.4 670.1,190.5 670.4,190.5 670.6,190.6 670.8,190.7 671.0,190.8 671.2,190.8 671.4,190.9 671.6,191.0 671.8,191.1 672.0,191.1 672.2,191.2 672.5,191.3 672.7,191.4 672.9,191.4 673.1,191.5 673.3,191.6 673.5,191.7 673.7,191.7 673.9,191.8 674.1,191.9 674.4,192.0 674.6,192.0 674.8,192.1 675.0,192.2 675.2,192.2 675.4,192.3 675.6,192.4 675.8,192.5 676.0,192.5 676.3,192.6 676.5,192.7 676.7,192.8 676.9,192.8 677.1,192.9 677.3,193.0 677.5,193.1 677.7,193.1 678.0,193.2 678.2,193.3 678.4,193.4 678.4,193.4 600.7,166.0" fill="#661fd2" fill-opacity="0.78" stroke="none"/>
<line x1="600.7" y1="166.0" x2="678.4" y2="193.4" stroke="#661fd2" stroke-width="0.9"/>
<polygon points="593.2,168.5 593.3,166.3 593.5,161.4 593.6,155.0 593.7,147.5 593.8,139.4 594.0,131.1 594.1,122.7 594.2,114.5 594.3,106.6 594.5,99.1 594.6,92.1 594.7,85.6 594.9,79.7 595.0,74.3 595.2,69.6 595.3,65.5 595.5,61.9 595.7,59.0 595.8,56.6 596.0,54.7 596.2,53.3 596.4,52.4 596.6,51.9 596.7,51.8 596.9,52.2 597.1,52.8 597.3,53.8 597.5,55.0 597.7,56.5 597.9,58.3 598.1,60.2 598.3,62.3 598.5,64.6 598.7,66.9 598.9,69.4 599.1,72.0 599.3,74.7 599.5,77.4 599.7,80.1 599.9,82.9 600.1,85.7 600.3,88.5 600.5,91.2 600.7,94.0 600.9,96.8 601.1,99.5 601.3,102.2 601.5,104.8 601.6,107.4 601.8,109.9 602.0,112.4 602.2,114.8 602.4,117.2 602.6,119.5 602.8,121.8 603.0,123.9 603.2,126.1 603.4,128.1 603.6,130.1 603.8,132.0 604.0,133.9 604.2,135.7 604.4,137.4 604.6,139.1 604.7,140.7 604.9,142.3 605.1,143.8 605.3,145.2 605.5,146.6 605.7,147.9 605.9,149.2 606.1,150.4 606.3,151.6 606.4,152.8 606.6,153.8 606.8,154.9 607.0,155.9 607.2,156.8 607.4,157.8 607.6,158.6 607.8,159.5 607.9,160.3 608.1,161.0 608.3,161.8 608.5,162.5 608.7,163.2 608.9,163.8 609.1,164.4 609.3,165.0 609.4,165.6 609.6,166.1 609.8,166.6 610.0,167.1 610.2,167.6 610.4,168.0 610.6,168.5 610.7,168.9 610.9,169.3 611.1,169.6 611.3,170.0 611.5,170.4 611.7,170.7 611.9,171.0 612.1,171.3 612.2,171.6 612.4,171.9 612.6,172.1 612.8,172.4 613.0,172.6 613.2,172.9 613.4,173.1 613.6,173.3 613.7,173.5 613.9,173.8 614.1,173.9 614.3,174.1 614.5,174.3 614.7,174.5 614.9,174.7 615.1,174.8 615.2,175.0 615.4,175.1 615.6,175.3 615.8,175.4 616.0,175.6 616.2,175.7 616.4,175.8 616.6,176.0 616.7,176.1 616.9,176.2 617.1,176.3 617.3,176.5 617.5,176.6 617.7,176.7 617.9,176.8 618.1,176.9 618.3,177.0 618.4,177.1 618.6,177.2 618.8,177.3 619.0,177.4 619.2,177.5 619.4,177.6 619.6,177.7 619.8,177.8 620.0,177.8 620.1,177.9 620.3,178.0 620.5,178.1 620.7,178.2 620.9,178.3 621.1,178.4 621.3,178.4 621.5,178.5 621.7,178.6 621.9,178.7 622.0,178.8 622.2,178.8 622.4,178.9 622.6,179.0 622.8,179.1 623.0,179.1 623.2,179.2 623.4,179.3 623.6,179.4 623.8,179.4 624.0,179.5 624.2,179.6 624.3,179.7 624.5,179.7 624.7,179.8 624.9,179.9 625.1,180.0 625.3,180.0 625.5,180.1 625.7,180.2 625.9,180.3 626.1,180.3 626.3,180.4 626.5,180.5 626.7,180.5 626.8,180.6 627.0,180.7 627.2,180.8 627.4,180.8 627.6,180.9 627.8,181.0 628.0,181.0 628.2,181.1 628.4,181.2 628.6,181.2 628.8,181.3 629.0,181.4 629.2,181.5 629.4,181.5 629.6,181.6 629.7,181.7 629.9,181.7 630.1,181.8 630.3,181.9 630.5,182.0 630.7,182.0 630.9,182.1 631.1,182.2 631.3,182.2 631.5,182.3 631.7,182.4 631.9,182.4 632.1,182.5 632.3,182.6 632.5,182.7 632.7,182.7 632.9,182.8 633.1,182.9 633.3,182.9 633.5,183.0 633.7,183.1 633.8,183.2 634.0,183.2 634.2,183.3 634.4,183.4 634.6,183.4 634.8,183.5 635.0,183.6 635.2,183.6 635.4,183.7 635.6,183.8 635.8,183.9 636.0,183.9 636.2,184.0 636.4,184.1 636.6,184.1 636.8,184.2 637.0,184.3 637.2,184.4 637.4,184.4 637.6,184.5 637.8,184.6 638.0,184.6 638.2,184.7 638.4,184.8 638.6,184.9 638.8,184.9 639.0,185.0 639.2,185.1 639.4,185.1 639.6,185.2 639.8,185.3 640.0,185.4 640.2,185.4 640.4,185.5 640.6,185.6 640.8,185.6 641.0,185.7 641.2,185.8 641.4,185.9 641.6,185.9 641.8,186.0 642.0,186.1 642.2,186.1 642.4,186.2 642.6,186.3 642.8,186.4 643.0,186.4 643.2,186.5 643.4,186.6 643.6,186.6 643.8,186.7 644.0,186.8 644.2,186.9 644.4,186.9 644.6,187.0 644.8,187.1 645.0,187.2 645.2,187.2 645.4,187.3 645.6,187.4 645.8,187.4 646.0,187.5 646.2,187.6 646.4,187.7 646.6,187.7 646.8,187.8 647.0,187.9 647.2,187.9 647.4,188.0 647.6,188.1 647.8,188.2 648.0,188.2 648.2,188.3 648.4,188.4 648.6,188.5 648.8,188.5 649.0,188.6 649.2,188.7 649.4,188.7 649.6,188.8 649.8,188.9 650.0,189.0 650.2,189.0 650.4,189.1 650.7,189.2 650.9,189.3 651.1,189.3 651.3,189.4 651.5,189.5 651.7,189.6 651.9,189.6 652.1,189.7 652.3,189.8 652.5,189.8 652.7,189.9 652.9,190.0 653.1,190.1 653.3,190.1 653.5,190.2 653.7,190.3 653.9,190.4 654.1,190.4 654.3,190.5 654.5,190.6 654.8,190.7 655.0,190.7 655.2,190.8 655.4,190.9 655.6,191.0 655.8,191.0 656.0,191.1 656.2,191.2 656.4,191.3 656.6,191.3 656.8,191.4 657.0,191.5 657.2,191.5 657.4,191.6 657.6,191.7 657.9,191.8 658.1,191.8 658.3,191.9 658.5,192.0 658.7,192.1 658.9,192.1 659.1,192.2 659.3,192.3 659.5,192.4 659.7,192.4 659.9,192.5 660.1,192.6 660.3,192.7 660.6,192.7 660.8,192.8 661.0,192.9 661.2,193.0 661.4,193.0 661.6,193.1 661.8,193.2 662.0,193.3 662.2,193.3 662.4,193.4 662.7,193.5 662.9,193.6 663.1,193.6 663.3,193.7 663.5,193.8 663.7,193.9 663.9,193.9 664.1,194.0 664.3,194.1 664.5,194.2 664.8,194.2 665.0,194.3 665.2,194.4 665.4,194.5 665.6,194.5 665.8,194.6 666.0,194.7 666.2,194.8 666.4,194.9 666.7,194.9 666.9,195.0 667.1,195.1 667.3,195.2 667.5,195.2 667.7,195.3 667.9,195.4 668.1,195.5 668.4,195.5 668.6,195.6 668.8,195.7 669.0,195.8 669.2,195.8 669.4,195.9 669.6,196.0 669.8,196.1 670.1,196.1 670.3,196.2 670.5,196.3 670.7,196.4 670.9,196.5 670.9,196.5 593.2,168.5" fill="#293dd2" fill-opacity="0.78" stroke="none"/>
<line x1="593.2" y1="168.5" x2="670.9" y2="196.5" stroke="#293dd2" stroke-width="0.9"/>
<polygon points="585.5,171.2 585.6,166.1 585.7,158.5 585.8,150.0 585.9,141.2 586.0,132.4 586.1,123.9 586.2,115.8 586.3,108.3 586.4,101.2 586.5,94.8 586.7,89.0 586.8,83.7 586.9,79.1 587.1,75.1 587.2,71.6 587.4,68.7 587.6,66.3 587.7,64.4 587.9,62.9 588.1,61.9 588.3,61.2 588.4,61.0 588.6,61.0 588.8,61.4 589.0,62.1 589.2,63.0 589.4,64.1 589.6,65.5 589.8,67.0 590.0,68.7 590.2,70.5 590.4,72.5 590.6,74.5 590.8,76.7 591.0,78.9 591.2,81.2 591.4,83.5 591.6,85.9 591.8,88.3 592.0,90.7 592.2,93.1 592.4,95.5 592.6,97.9 592.8,100.3 593.0,102.7 593.2,105.1 593.4,107.4 593.6,109.7 593.8,111.9 594.0,114.1 594.2,116.3 594.4,118.4 594.6,120.5 594.8,122.6 595.0,124.6 595.2,126.5 595.4,128.4 595.6,130.2 595.8,132.0 596.0,133.8 596.2,135.5 596.4,137.1 596.6,138.7 596.8,140.2 597.0,141.7 597.2,143.2 597.3,144.6 597.5,145.9 597.7,147.2 597.9,148.5 598.1,149.7 598.3,150.9 598.5,152.0 598.7,153.1 598.9,154.2 599.1,155.2 599.3,156.2 599.5,157.2 599.6,158.1 599.8,159.0 600.0,159.8 600.2,160.6 600.4,161.4 600.6,162.2 600.8,162.9 601.0,163.6 601.2,164.3 601.3,164.9 601.5,165.5 601.7,166.1 601.9,166.7 602.1,167.3 602.3,167.8 602.5,168.3 602.7,168.8 602.8,169.3 603.0,169.7 603.2,170.2 603.4,170.6 603.6,171.0 603.8,171.4 604.0,171.8 604.2,172.2 604.3,172.5 604.5,172.8 604.7,173.2 604.9,173.5 605.1,173.8 605.3,174.1 605.5,174.4 605.7,174.6 605.9,174.9 606.0,175.1 606.2,175.4 606.4,175.6 606.6,175.8 606.8,176.1 607.0,176.3 607.2,176.5 607.4,176.7 607.5,176.9 607.7,177.1 607.9,177.2 608.1,177.4 608.3,177.6 608.5,177.8 608.7,177.9 608.9,178.1 609.1,178.2 609.2,178.4 609.4,178.5 609.6,178.7 609.8,178.8 610.0,178.9 610.2,179.1 610.4,179.2 610.6,179.3 610.8,179.4 610.9,179.6 611.1,179.7 611.3,179.8 611.5,179.9 611.7,180.0 611.9,180.1 612.1,180.2 612.3,180.3 612.5,180.4 612.6,180.5 612.8,180.6 613.0,180.7 613.2,180.8 613.4,180.9 613.6,181.0 613.8,181.1 614.0,181.2 614.2,181.3 614.4,181.4 614.6,181.5 614.7,181.5 614.9,181.6 615.1,181.7 615.3,181.8 615.5,181.9 615.7,182.0 615.9,182.1 616.1,182.1 616.3,182.2 616.5,182.3 616.7,182.4 616.9,182.5 617.0,182.5 617.2,182.6 617.4,182.7 617.6,182.8 617.8,182.9 618.0,182.9 618.2,183.0 618.4,183.1 618.6,183.2 618.8,183.2 619.0,183.3 619.2,183.4 619.4,183.5 619.5,183.5 619.7,183.6 619.9,183.7 620.1,183.8 620.3,183.8 620.5,183.9 620.7,184.0 620.9,184.1 621.1,184.1 621.3,184.2 621.5,184.3 621.7,184.4 621.9,184.4 622.1,184.5 622.3,184.6 622.5,184.6 622.7,184.7 622.8,184.8 623.0,184.9 623.2,184.9 623.4,185.0 623.6,185.1 623.8,185.2 624.0,185.2 624.2,185.3 624.4,185.4 624.6,185.4 624.8,185.5 625.0,185.6 625.2,185.7 625.4,185.7 625.6,185.8 625.8,185.9 626.0,186.0 626.2,186.0 626.4,186.1 626.6,186.2 626.8,186.2 627.0,186.3 627.2,186.4 627.3,186.5 627.5,186.5 627.7,186.6 627.9,186.7 628.1,186.8 628.3,186.8 628.5,186.9 628.7,187.0 628.9,187.0 629.1,187.1 629.3,187.2 629.5,187.3 629.7,187.3 629.9,187.4 630.1,187.5 630.3,187.6 630.5,187.6 630.7,187.7 630.9,187.8 631.1,187.8 631.3,187.9 631.5,188.0 631.7,188.1 631.9,188.1 632.1,188.2 632.3,188.3 632.5,188.4 632.7,188.4 632.9,188.5 633.1,188.6 633.3,188.6 633.5,188.7 633.7,188.8 633.9,188.9 634.1,188.9 634.3,189.0 634.5,189.1 634.7,189.2 634.9,189.2 635.1,189.3 635.3,189.4 635.5,189.4 635.7,189.5 635.9,189.6 636.1,189.7 636.3,189.7 636.5,189.8 636.7,189.9 636.9,190.0 637.1,190.0 637.3,190.1 637.5,190.2 637.7,190.3 637.9,190.3 638.1,190.4 638.3,190.5 638.5,190.6 638.7,190.6 638.9,190.7 639.1,190.8 639.3,190.9 639.5,190.9 639.7,191.0 639.9,191.1 640.1,191.1 640.3,191.2 640.5,191.3 640.7,191.4 641.0,191.4 641.2,191.5 641.4,191.6 641.6,191.7 641.8,191.7 642.0,191.8 642.2,191.9 642.4,192.0 642.6,192.0 642.8,192.1 643.0,192.2 643.2,192.3 643.4,192.3 643.6,192.4 643.8,192.5 644.0,192.6 644.2,192.6 644.4,192.7 644.6,192.8 644.8,192.9 645.0,192.9 645.2,193.0 645.4,193.1 645.7,193.2 645.9,193.2 646.1,193.3 646.3,193.4 646.5,193.5 646.7,193.5 646.9,193.6 647.1,193.7 647.3,193.8 647.5,193.8 647.7,193.9 647.9,194.0 648.1,194.1 648.3,194.1 648.5,194.2 648.7,194.3 649.0,194.4 649.2,194.4 649.4,194.5 649.6,194.6 649.8,194.7 650.0,194.7 650.2,194.8 650.4,194.9 650.6,195.0 650.8,195.1 651.0,195.1 651.2,195.2 651.4,195.3 651.7,195.4 651.9,195.4 652.1,195.5 652.3,195.6 652.5,195.7 652.7,195.7 652.9,195.8 653.1,195.9 653.3,196.0 653.5,196.0 653.7,196.1 654.0,196.2 654.2,196.3 654.4,196.3 654.6,196.4 654.8,196.5 655.0,196.6 655.2,196.7 655.4,196.7 655.6,196.8 655.8,196.9 656.1,197.0 656.3,197.0 656.5,197.1 656.7,197.2 656.9,197.3 657.1,197.3 657.3,197.4 657.5,197.5 657.7,197.6 658.0,197.7 658.2,197.7 658.4,197.8 658.6,197.9 658.8,198.0 659.0,198.0 659.2,198.1 659.4,198.2 659.7,198.3 659.9,198.4 660.1,198.4 660.3,198.5 660.5,198.6 660.7,198.7 660.9,198.7 661.1,198.8 661.4,198.9 661.6,199.0 661.8,199.1 662.0,199.1 662.2,199.2 662.4,199.3 662.6,199.4 662.8,199.4 663.1,199.5 663.3,199.6 663.3,199.6 585.5,171.2" fill="#2b9fd2" fill-opacity="0.78" stroke="none"/>
<line x1="585.5" y1="171.2" x2="663.3" y2="199.6" stroke="#2b9fd2" stroke-width="0.9"/>
<polygon points="577.6,173.8 577.8,173.6 578.0,172.6 578.1,170.3 578.2,166.8 578.4,162.1 578.5,156.5 578.6,149.9 578.7,142.8 578.8,135.1 578.9,127.2 578.9,119.1 579.0,111.0 579.1,103.1 579.2,95.5 579.3,88.2 579.4,81.4 579.5,75.1 579.7,69.3 579.8,64.1 579.9,59.6 580.1,55.7 580.2,52.4 580.4,49.7 580.5,47.7 580.7,46.2 580.9,45.3 581.0,44.9 581.2,45.0 581.4,45.6 581.6,46.6 581.8,48.0 582.0,49.7 582.2,51.7 582.4,54.0 582.7,56.6 582.9,59.4 583.1,62.3 583.3,65.4 583.5,68.7 583.7,72.0 584.0,75.4 584.2,78.8 584.4,82.3 584.6,85.8 584.8,89.3 585.1,92.7 585.3,96.2 585.5,99.6 585.7,102.9 585.9,106.2 586.1,109.4 586.4,112.5 586.6,115.6 586.8,118.6 587.0,121.5 587.2,124.2 587.4,127.0 587.6,129.6 587.8,132.1 588.0,134.5 588.2,136.9 588.4,139.1 588.6,141.3 588.8,143.3 589.0,145.3 589.2,147.2 589.4,149.0 589.6,150.7 589.8,152.4 590.0,153.9 590.2,155.4 590.4,156.9 590.6,158.2 590.8,159.5 591.0,160.7 591.2,161.9 591.4,163.0 591.6,164.0 591.8,165.0 592.0,166.0 592.2,166.9 592.4,167.7 592.6,168.5 592.7,169.3 592.9,170.0 593.1,170.7 593.3,171.3 593.5,171.9 593.7,172.5 593.9,173.0 594.1,173.6 594.3,174.1 594.4,174.5 594.6,175.0 594.8,175.4 595.0,175.8 595.2,176.1 595.4,176.5 595.6,176.8 595.8,177.2 596.0,177.5 596.1,177.7 596.3,178.0 596.5,178.3 596.7,178.5 596.9,178.8 597.1,179.0 597.3,179.2 597.5,179.4 597.6,179.6 597.8,179.8 598.0,180.0 598.2,180.1 598.4,180.3 598.6,180.5 598.8,180.6 599.0,180.8 599.1,180.9 599.3,181.0 599.5,181.2 599.7,181.3 599.9,181.4 600.1,181.6 600.3,181.7 600.5,181.8 600.6,181.9 600.8,182.0 601.0,182.1 601.2,182.2 601.4,182.3 601.6,182.4 601.8,182.5 602.0,182.6 602.2,182.7 602.3,182.8 602.5,182.9 602.7,183.0 602.9,183.0 603.1,183.1 603.3,183.2 603.5,183.3 603.7,183.4 603.9,183.5 604.1,183.5 604.2,183.6 604.4,183.7 604.6,183.8 604.8,183.9 605.0,183.9 605.2,184.0 605.4,184.1 605.6,184.2 605.8,184.2 606.0,184.3 606.1,184.4 606.3,184.5 606.5,184.5 606.7,184.6 606.9,184.7 607.1,184.8 607.3,184.8 607.5,184.9 607.7,185.0 607.9,185.1 608.1,185.1 608.2,185.2 608.4,185.3 608.6,185.3 608.8,185.4 609.0,185.5 609.2,185.6 609.4,185.6 609.6,185.7 609.8,185.8 610.0,185.9 610.2,185.9 610.4,186.0 610.6,186.1 610.7,186.1 610.9,186.2 611.1,186.3 611.3,186.4 611.5,186.4 611.7,186.5 611.9,186.6 612.1,186.7 612.3,186.7 612.5,186.8 612.7,186.9 612.9,186.9 613.1,187.0 613.3,187.1 613.5,187.2 613.7,187.2 613.8,187.3 614.0,187.4 614.2,187.5 614.4,187.5 614.6,187.6 614.8,187.7 615.0,187.7 615.2,187.8 615.4,187.9 615.6,188.0 615.8,188.0 616.0,188.1 616.2,188.2 616.4,188.3 616.6,188.3 616.8,188.4 617.0,188.5 617.2,188.5 617.4,188.6 617.6,188.7 617.8,188.8 617.9,188.8 618.1,188.9 618.3,189.0 618.5,189.1 618.7,189.1 618.9,189.2 619.1,189.3 619.3,189.3 619.5,189.4 619.7,189.5 619.9,189.6 620.1,189.6 620.3,189.7 620.5,189.8 620.7,189.9 620.9,189.9 621.1,190.0 621.3,190.1 621.5,190.2 621.7,190.2 621.9,190.3 622.1,190.4 622.3,190.5 622.5,190.5 622.7,190.6 622.9,190.7 623.1,190.7 623.3,190.8 623.5,190.9 623.7,191.0 623.9,191.0 624.1,191.1 624.3,191.2 624.5,191.3 624.7,191.3 624.9,191.4 625.1,191.5 625.3,191.6 625.5,191.6 625.7,191.7 625.9,191.8 626.1,191.9 626.3,191.9 626.5,192.0 626.7,192.1 626.9,192.2 627.1,192.2 627.3,192.3 627.5,192.4 627.7,192.5 627.9,192.5 628.1,192.6 628.3,192.7 628.5,192.8 628.7,192.8 628.9,192.9 629.1,193.0 629.3,193.1 629.5,193.1 629.7,193.2 629.9,193.3 630.1,193.4 630.3,193.4 630.5,193.5 630.7,193.6 630.9,193.7 631.1,193.7 631.3,193.8 631.5,193.9 631.7,194.0 631.9,194.0 632.1,194.1 632.3,194.2 632.5,194.3 632.7,194.3 632.9,194.4 633.1,194.5 633.3,194.6 633.5,194.6 633.7,194.7 633.9,194.8 634.2,194.9 634.4,194.9 634.6,195.0 634.8,195.1 635.0,195.2 635.2,195.3 635.4,195.3 635.6,195.4 635.8,195.5 636.0,195.6 636.2,195.6 636.4,195.7 636.6,195.8 636.8,195.9 637.0,195.9 637.2,196.0 637.4,196.1 637.6,196.2 637.8,196.2 638.0,196.3 638.3,196.4 638.5,196.5 638.7,196.6 638.9,196.6 639.1,196.7 639.3,196.8 639.5,196.9 639.7,196.9 639.9,197.0 640.1,197.1 640.3,197.2 640.5,197.2 640.7,197.3 640.9,197.4 641.1,197.5 641.4,197.6 641.6,197.6 641.8,197.7 642.0,197.8 642.2,197.9 642.4,197.9 642.6,198.0 642.8,198.1 643.0,198.2 643.2,198.2 643.4,198.3 643.6,198.4 643.9,198.5 644.1,198.6 644.3,198.6 644.5,198.7 644.7,198.8 644.9,198.9 645.1,198.9 645.3,199.0 645.5,199.1 645.7,199.2 645.9,199.3 646.2,199.3 646.4,199.4 646.6,199.5 646.8,199.6 647.0,199.7 647.2,199.7 647.4,199.8 647.6,199.9 647.8,200.0 648.0,200.0 648.3,200.1 648.5,200.2 648.7,200.3 648.9,200.4 649.1,200.4 649.3,200.5 649.5,200.6 649.7,200.7 649.9,200.8 650.2,200.8 650.4,200.9 650.6,201.0 650.8,201.1 651.0,201.1 651.2,201.2 651.4,201.3 651.6,201.4 651.9,201.5 652.1,201.5 652.3,201.6 652.5,201.7 652.7,201.8 652.9,201.9 653.1,201.9 653.3,202.0 653.6,202.1 653.8,202.2 654.0,202.3 654.2,202.3 654.4,202.4 654.6,202.5 654.8,202.6 655.1,202.7 655.3,202.7 655.5,202.8 655.5,202.8 577.6,173.8" fill="#25cd8f" fill-opacity="0.78" stroke="none"/>
<line x1="577.6" y1="173.8" x2="655.5" y2="202.8" stroke="#25cd8f" stroke-width="0.9"/>
<polygon points="569.6,176.5 569.8,175.7 569.9,173.5 570.1,170.3 570.2,166.2 570.3,161.6 570.4,156.5 570.5,151.2 570.6,145.7 570.7,140.2 570.8,134.6 570.9,129.2 571.0,123.9 571.1,118.8 571.2,114.0 571.4,109.4 571.5,105.1 571.6,101.2 571.7,97.5 571.9,94.2 572.0,91.2 572.2,88.6 572.3,86.2 572.5,84.2 572.6,82.5 572.8,81.2 573.0,80.1 573.1,79.2 573.3,78.7 573.5,78.4 573.7,78.3 573.9,78.4 574.1,78.8 574.2,79.3 574.4,80.0 574.6,80.9 574.8,82.0 575.0,83.2 575.2,84.5 575.4,85.9 575.6,87.4 575.8,89.0 576.1,90.7 576.3,92.4 576.5,94.2 576.7,96.1 576.9,98.0 577.1,99.9 577.3,101.9 577.5,103.8 577.7,105.8 577.9,107.8 578.1,109.8 578.3,111.8 578.5,113.8 578.8,115.8 579.0,117.8 579.2,119.7 579.4,121.6 579.6,123.5 579.8,125.4 580.0,127.2 580.2,129.1 580.4,130.8 580.6,132.6 580.8,134.3 581.0,136.0 581.2,137.6 581.4,139.2 581.6,140.8 581.8,142.3 582.0,143.8 582.2,145.3 582.4,146.7 582.6,148.0 582.8,149.4 583.0,150.7 583.2,151.9 583.4,153.2 583.6,154.4 583.8,155.5 584.0,156.6 584.2,157.7 584.4,158.8 584.6,159.8 584.8,160.8 585.0,161.7 585.2,162.6 585.4,163.5 585.6,164.4 585.8,165.2 586.0,166.0 586.2,166.8 586.3,167.6 586.5,168.3 586.7,169.0 586.9,169.7 587.1,170.3 587.3,171.0 587.5,171.6 587.7,172.2 587.9,172.7 588.1,173.3 588.3,173.8 588.5,174.3 588.6,174.8 588.8,175.3 589.0,175.7 589.2,176.2 589.4,176.6 589.6,177.0 589.8,177.4 590.0,177.8 590.2,178.1 590.4,178.5 590.5,178.8 590.7,179.2 590.9,179.5 591.1,179.8 591.3,180.1 591.5,180.4 591.7,180.7 591.9,181.0 592.1,181.2 592.3,181.5 592.4,181.7 592.6,181.9 592.8,182.2 593.0,182.4 593.2,182.6 593.4,182.8 593.6,183.0 593.8,183.2 594.0,183.4 594.2,183.6 594.3,183.8 594.5,184.0 594.7,184.1 594.9,184.3 595.1,184.5 595.3,184.6 595.5,184.8 595.7,184.9 595.9,185.1 596.1,185.2 596.2,185.3 596.4,185.5 596.6,185.6 596.8,185.7 597.0,185.9 597.2,186.0 597.4,186.1 597.6,186.2 597.8,186.4 598.0,186.5 598.1,186.6 598.3,186.7 598.5,186.8 598.7,186.9 598.9,187.0 599.1,187.1 599.3,187.2 599.5,187.3 599.7,187.4 599.9,187.5 600.1,187.6 600.3,187.7 600.4,187.8 600.6,187.9 600.8,188.0 601.0,188.1 601.2,188.2 601.4,188.3 601.6,188.4 601.8,188.5 602.0,188.5 602.2,188.6 602.4,188.7 602.6,188.8 602.8,188.9 602.9,189.0 603.1,189.1 603.3,189.1 603.5,189.2 603.7,189.3 603.9,189.4 604.1,189.5 604.3,189.5 604.5,189.6 604.7,189.7 604.9,189.8 605.1,189.9 605.3,189.9 605.5,190.0 605.7,190.1 605.9,190.2 606.1,190.3 606.2,190.3 606.4,190.4 606.6,190.5 606.8,190.6 607.0,190.7 607.2,190.7 607.4,190.8 607.6,190.9 607.8,191.0 608.0,191.0 608.2,191.1 608.4,191.2 608.6,191.3 608.8,191.3 609.0,191.4 609.2,191.5 609.4,191.6 609.6,191.7 609.8,191.7 610.0,191.8 610.2,191.9 610.4,192.0 610.5,192.0 610.7,192.1 610.9,192.2 611.1,192.3 611.3,192.3 611.5,192.4 611.7,192.5 611.9,192.6 612.1,192.6 612.3,192.7 612.5,192.8 612.7,192.9 612.9,192.9 613.1,193.0 613.3,193.1 613.5,193.2 613.7,193.2 613.9,193.3 614.1,193.4 614.3,193.5 614.5,193.5 614.7,193.6 614.9,193.7 615.1,193.8 615.3,193.9 615.5,193.9 615.7,194.0 615.9,194.1 616.1,194.2 616.3,194.2 616.5,194.3 616.7,194.4 616.9,194.5 617.1,194.5 617.3,194.6 617.5,194.7 617.7,194.8 617.9,194.8 618.1,194.9 618.3,195.0 618.5,195.1 618.7,195.1 618.9,195.2 619.1,195.3 619.3,195.4 619.5,195.4 619.7,195.5 619.9,195.6 620.1,195.7 620.3,195.8 620.5,195.8 620.7,195.9 620.9,196.0 621.1,196.1 621.3,196.1 621.5,196.2 621.7,196.3 621.9,196.4 622.1,196.4 622.3,196.5 622.5,196.6 622.7,196.7 622.9,196.8 623.1,196.8 623.3,196.9 623.5,197.0 623.7,197.1 623.9,197.1 624.1,197.2 624.3,197.3 624.5,197.4 624.8,197.4 625.0,197.5 625.2,197.6 625.4,197.7 625.6,197.8 625.8,197.8 626.0,197.9 626.2,198.0 626.4,198.1 626.6,198.1 626.8,198.2 627.0,198.3 627.2,198.4 627.4,198.5 627.6,198.5 627.8,198.6 628.0,198.7 628.2,198.8 628.4,198.8 628.6,198.9 628.8,199.0 629.0,199.1 629.3,199.2 629.5,199.2 629.7,199.3 629.9,199.4 630.1,199.5 630.3,199.5 630.5,199.6 630.7,199.7 630.9,199.8 631.1,199.9 631.3,199.9 631.5,200.0 631.7,200.1 631.9,200.2 632.1,200.3 632.3,200.3 632.6,200.4 632.8,200.5 633.0,200.6 633.2,200.6 633.4,200.7 633.6,200.8 633.8,200.9 634.0,201.0 634.2,201.0 634.4,201.1 634.6,201.2 634.8,201.3 635.1,201.4 635.3,201.4 635.5,201.5 635.7,201.6 635.9,201.7 636.1,201.8 636.3,201.8 636.5,201.9 636.7,202.0 636.9,202.1 637.1,202.1 637.4,202.2 637.6,202.3 637.8,202.4 638.0,202.5 638.2,202.5 638.4,202.6 638.6,202.7 638.8,202.8 639.0,202.9 639.2,202.9 639.5,203.0 639.7,203.1 639.9,203.2 640.1,203.3 640.3,203.3 640.5,203.4 640.7,203.5 640.9,203.6 641.1,203.7 641.4,203.7 641.6,203.8 641.8,203.9 642.0,204.0 642.2,204.1 642.4,204.1 642.6,204.2 642.8,204.3 643.0,204.4 643.3,204.5 643.5,204.6 643.7,204.6 643.9,204.7 644.1,204.8 644.3,204.9 644.5,205.0 644.8,205.0 645.0,205.1 645.2,205.2 645.4,205.3 645.6,205.4 645.8,205.4 646.0,205.5 646.2,205.6 646.5,205.7 646.7,205.8 646.9,205.8 647.1,205.9 647.3,206.0 647.5,206.1 647.5,206.1 569.6,176.5" fill="#2bcd52" fill-opacity="0.78" stroke="none"/>
<line x1="569.6" y1="176.5" x2="647.5" y2="206.1" stroke="#2bcd52" stroke-width="0.9"/>
<polygon points="561.5,179.3 561.7,178.8 561.8,177.5 562.0,175.8 562.1,173.7 562.2,171.3 562.4,168.6 562.5,165.8 562.6,162.9 562.8,160.0 562.9,157.0 563.0,154.0 563.1,151.0 563.3,148.0 563.4,145.1 563.5,142.3 563.7,139.6 563.8,137.0 563.9,134.5 564.1,132.1 564.2,129.8 564.4,127.6 564.5,125.6 564.7,123.7 564.8,121.9 565.0,120.3 565.1,118.8 565.3,117.4 565.5,116.1 565.6,115.0 565.8,114.0 566.0,113.1 566.1,112.3 566.3,111.7 566.5,111.1 566.7,110.7 566.8,110.3 567.0,110.1 567.2,109.9 567.4,109.8 567.6,109.9 567.7,110.0 567.9,110.1 568.1,110.4 568.3,110.7 568.5,111.1 568.7,111.6 568.9,112.1 569.1,112.6 569.3,113.2 569.5,113.9 569.6,114.6 569.8,115.4 570.0,116.1 570.2,117.0 570.4,117.8 570.6,118.7 570.8,119.6 571.0,120.5 571.2,121.5 571.4,122.5 571.6,123.4 571.8,124.4 572.0,125.5 572.2,126.5 572.4,127.5 572.6,128.6 572.8,129.6 573.0,130.7 573.2,131.7 573.4,132.8 573.6,133.8 573.8,134.9 574.0,135.9 574.2,137.0 574.4,138.0 574.6,139.1 574.8,140.1 575.0,141.1 575.2,142.1 575.4,143.1 575.6,144.1 575.8,145.1 576.0,146.1 576.2,147.1 576.4,148.0 576.6,149.0 576.8,149.9 577.0,150.8 577.2,151.7 577.4,152.6 577.6,153.5 577.8,154.3 578.0,155.2 578.2,156.0 578.4,156.9 578.6,157.7 578.8,158.5 578.9,159.3 579.1,160.0 579.3,160.8 579.5,161.5 579.7,162.3 579.9,163.0 580.1,163.7 580.3,164.4 580.5,165.1 580.7,165.7 580.9,166.4 581.1,167.0 581.3,167.6 581.5,168.3 581.7,168.9 581.9,169.4 582.1,170.0 582.3,170.6 582.4,171.1 582.6,171.7 582.8,172.2 583.0,172.7 583.2,173.2 583.4,173.7 583.6,174.2 583.8,174.7 584.0,175.2 584.2,175.6 584.4,176.1 584.6,176.5 584.8,176.9 585.0,177.3 585.1,177.7 585.3,178.1 585.5,178.5 585.7,178.9 585.9,179.3 586.1,179.6 586.3,180.0 586.5,180.3 586.7,180.7 586.9,181.0 587.1,181.3 587.3,181.7 587.5,182.0 587.6,182.3 587.8,182.6 588.0,182.9 588.2,183.2 588.4,183.4 588.6,183.7 588.8,184.0 589.0,184.2 589.2,184.5 589.4,184.7 589.6,185.0 589.8,185.2 590.0,185.5 590.2,185.7 590.3,185.9 590.5,186.1 590.7,186.4 590.9,186.6 591.1,186.8 591.3,187.0 591.5,187.2 591.7,187.4 591.9,187.6 592.1,187.8 592.3,187.9 592.5,188.1 592.7,188.3 592.8,188.5 593.0,188.7 593.2,188.8 593.4,189.0 593.6,189.2 593.8,189.3 594.0,189.5 594.2,189.6 594.4,189.8 594.6,189.9 594.8,190.1 595.0,190.2 595.2,190.4 595.4,190.5 595.6,190.6 595.8,190.8 595.9,190.9 596.1,191.1 596.3,191.2 596.5,191.3 596.7,191.4 596.9,191.6 597.1,191.7 597.3,191.8 597.5,191.9 597.7,192.1 597.9,192.2 598.1,192.3 598.3,192.4 598.5,192.5 598.7,192.6 598.9,192.7 599.1,192.9 599.3,193.0 599.5,193.1 599.6,193.2 599.8,193.3 600.0,193.4 600.2,193.5 600.4,193.6 600.6,193.7 600.8,193.8 601.0,193.9 601.2,194.0 601.4,194.1 601.6,194.2 601.8,194.3 602.0,194.4 602.2,194.5 602.4,194.6 602.6,194.7 602.8,194.8 603.0,194.9 603.2,195.0 603.4,195.1 603.6,195.2 603.8,195.2 604.0,195.3 604.2,195.4 604.4,195.5 604.6,195.6 604.8,195.7 605.0,195.8 605.2,195.9 605.4,196.0 605.6,196.0 605.8,196.1 606.0,196.2 606.2,196.3 606.4,196.4 606.5,196.5 606.7,196.6 606.9,196.7 607.1,196.7 607.3,196.8 607.5,196.9 607.7,197.0 607.9,197.1 608.1,197.2 608.3,197.2 608.5,197.3 608.7,197.4 608.9,197.5 609.1,197.6 609.3,197.7 609.5,197.7 609.7,197.8 609.9,197.9 610.1,198.0 610.3,198.1 610.5,198.2 610.7,198.2 610.9,198.3 611.1,198.4 611.3,198.5 611.5,198.6 611.7,198.6 612.0,198.7 612.2,198.8 612.4,198.9 612.6,199.0 612.8,199.1 613.0,199.1 613.2,199.2 613.4,199.3 613.6,199.4 613.8,199.5 614.0,199.5 614.2,199.6 614.4,199.7 614.6,199.8 614.8,199.9 615.0,199.9 615.2,200.0 615.4,200.1 615.6,200.2 615.8,200.3 616.0,200.3 616.2,200.4 616.4,200.5 616.6,200.6 616.8,200.7 617.0,200.7 617.2,200.8 617.4,200.9 617.6,201.0 617.8,201.1 618.0,201.1 618.2,201.2 618.4,201.3 618.6,201.4 618.9,201.5 619.1,201.5 619.3,201.6 619.5,201.7 619.7,201.8 619.9,201.9 620.1,201.9 620.3,202.0 620.5,202.1 620.7,202.2 620.9,202.3 621.1,202.3 621.3,202.4 621.5,202.5 621.7,202.6 621.9,202.7 622.1,202.7 622.3,202.8 622.6,202.9 622.8,203.0 623.0,203.1 623.2,203.1 623.4,203.2 623.6,203.3 623.8,203.4 624.0,203.5 624.2,203.5 624.4,203.6 624.6,203.7 624.8,203.8 625.0,203.9 625.2,204.0 625.5,204.0 625.7,204.1 625.9,204.2 626.1,204.3 626.3,204.4 626.5,204.4 626.7,204.5 626.9,204.6 627.1,204.7 627.3,204.8 627.5,204.8 627.8,204.9 628.0,205.0 628.2,205.1 628.4,205.2 628.6,205.2 628.8,205.3 629.0,205.4 629.2,205.5 629.4,205.6 629.6,205.7 629.8,205.7 630.1,205.8 630.3,205.9 630.5,206.0 630.7,206.1 630.9,206.1 631.1,206.2 631.3,206.3 631.5,206.4 631.7,206.5 632.0,206.6 632.2,206.6 632.4,206.7 632.6,206.8 632.8,206.9 633.0,207.0 633.2,207.0 633.4,207.1 633.6,207.2 633.9,207.3 634.1,207.4 634.3,207.5 634.5,207.5 634.7,207.6 634.9,207.7 635.1,207.8 635.3,207.9 635.6,207.9 635.8,208.0 636.0,208.1 636.2,208.2 636.4,208.3 636.6,208.4 636.8,208.4 637.1,208.5 637.3,208.6 637.5,208.7 637.7,208.8 637.9,208.9 638.1,208.9 638.3,209.0 638.6,209.1 638.8,209.2 639.0,209.3 639.2,209.4 639.4,209.4 639.4,209.4 561.5,179.3" fill="#6ed21f" fill-opacity="0.78" stroke="none"/>
<line x1="561.5" y1="179.3" x2="639.4" y2="209.4" stroke="#6ed21f" stroke-width="0.9"/>
<polygon points="553.2,182.1 553.4,182.2 553.5,182.1 553.7,181.9 553.9,181.4 554.0,180.7 554.2,179.7 554.4,178.4 554.5,176.7 554.6,174.8 554.8,172.5 554.9,170.1 555.0,167.3 555.1,164.4 555.3,161.3 555.4,158.0 555.5,154.7 555.6,151.2 555.7,147.7 555.8,144.2 555.9,140.6 556.1,137.1 556.2,133.7 556.3,130.3 556.4,127.0 556.5,123.8 556.7,120.7 556.8,117.8 556.9,115.0 557.1,112.4 557.2,110.0 557.3,107.7 557.5,105.7 557.6,103.8 557.8,102.1 557.9,100.6 558.1,99.2 558.3,98.1 558.4,97.2 558.6,96.4 558.8,95.8 558.9,95.4 559.1,95.1 559.3,95.0 559.5,95.1 559.7,95.3 559.9,95.6 560.1,96.1 560.2,96.7 560.4,97.4 560.6,98.2 560.8,99.1 561.0,100.1 561.3,101.2 561.5,102.4 561.7,103.7 561.9,105.0 562.1,106.4 562.3,107.9 562.5,109.3 562.7,110.9 562.9,112.4 563.1,114.0 563.3,115.7 563.6,117.3 563.8,119.0 564.0,120.6 564.2,122.3 564.4,124.0 564.6,125.7 564.8,127.4 565.0,129.0 565.3,130.7 565.5,132.4 565.7,134.0 565.9,135.6 566.1,137.2 566.3,138.8 566.5,140.4 566.7,141.9 566.9,143.5 567.1,145.0 567.4,146.4 567.6,147.9 567.8,149.3 568.0,150.7 568.2,152.0 568.4,153.3 568.6,154.6 568.8,155.9 569.0,157.1 569.2,158.3 569.4,159.5 569.6,160.6 569.8,161.8 570.0,162.8 570.2,163.9 570.4,164.9 570.6,165.9 570.8,166.9 571.0,167.8 571.2,168.7 571.4,169.6 571.6,170.5 571.8,171.3 572.0,172.1 572.2,172.9 572.4,173.7 572.6,174.4 572.8,175.1 573.0,175.8 573.2,176.5 573.4,177.1 573.6,177.7 573.8,178.3 574.0,178.9 574.2,179.5 574.4,180.0 574.6,180.6 574.7,181.1 574.9,181.6 575.1,182.0 575.3,182.5 575.5,183.0 575.7,183.4 575.9,183.8 576.1,184.2 576.3,184.6 576.5,185.0 576.7,185.3 576.9,185.7 577.1,186.0 577.3,186.4 577.4,186.7 577.6,187.0 577.8,187.3 578.0,187.6 578.2,187.8 578.4,188.1 578.6,188.4 578.8,188.6 579.0,188.9 579.2,189.1 579.4,189.3 579.6,189.6 579.8,189.8 579.9,190.0 580.1,190.2 580.3,190.4 580.5,190.6 580.7,190.8 580.9,191.0 581.1,191.1 581.3,191.3 581.5,191.5 581.7,191.6 581.9,191.8 582.1,192.0 582.2,192.1 582.4,192.3 582.6,192.4 582.8,192.5 583.0,192.7 583.2,192.8 583.4,192.9 583.6,193.1 583.8,193.2 584.0,193.3 584.2,193.5 584.4,193.6 584.6,193.7 584.7,193.8 584.9,193.9 585.1,194.0 585.3,194.1 585.5,194.3 585.7,194.4 585.9,194.5 586.1,194.6 586.3,194.7 586.5,194.8 586.7,194.9 586.9,195.0 587.1,195.1 587.3,195.2 587.4,195.3 587.6,195.4 587.8,195.5 588.0,195.6 588.2,195.6 588.4,195.7 588.6,195.8 588.8,195.9 589.0,196.0 589.2,196.1 589.4,196.2 589.6,196.3 589.8,196.4 590.0,196.4 590.2,196.5 590.4,196.6 590.6,196.7 590.8,196.8 590.9,196.9 591.1,197.0 591.3,197.0 591.5,197.1 591.7,197.2 591.9,197.3 592.1,197.4 592.3,197.5 592.5,197.5 592.7,197.6 592.9,197.7 593.1,197.8 593.3,197.9 593.5,197.9 593.7,198.0 593.9,198.1 594.1,198.2 594.3,198.3 594.5,198.4 594.7,198.4 594.9,198.5 595.1,198.6 595.3,198.7 595.5,198.8 595.7,198.8 595.9,198.9 596.1,199.0 596.3,199.1 596.5,199.2 596.6,199.2 596.8,199.3 597.0,199.4 597.2,199.5 597.4,199.6 597.6,199.6 597.8,199.7 598.0,199.8 598.2,199.9 598.4,199.9 598.6,200.0 598.8,200.1 599.0,200.2 599.2,200.3 599.4,200.3 599.6,200.4 599.8,200.5 600.0,200.6 600.2,200.7 600.4,200.7 600.6,200.8 600.8,200.9 601.0,201.0 601.2,201.1 601.4,201.1 601.6,201.2 601.8,201.3 602.0,201.4 602.2,201.5 602.4,201.5 602.6,201.6 602.8,201.7 603.0,201.8 603.2,201.9 603.4,201.9 603.6,202.0 603.8,202.1 604.0,202.2 604.2,202.3 604.4,202.3 604.6,202.4 604.8,202.5 605.0,202.6 605.3,202.7 605.5,202.7 605.7,202.8 605.9,202.9 606.1,203.0 606.3,203.1 606.5,203.1 606.7,203.2 606.9,203.3 607.1,203.4 607.3,203.5 607.5,203.5 607.7,203.6 607.9,203.7 608.1,203.8 608.3,203.9 608.5,203.9 608.7,204.0 608.9,204.1 609.1,204.2 609.3,204.3 609.5,204.3 609.7,204.4 609.9,204.5 610.1,204.6 610.3,204.7 610.5,204.7 610.7,204.8 611.0,204.9 611.2,205.0 611.4,205.1 611.6,205.1 611.8,205.2 612.0,205.3 612.2,205.4 612.4,205.5 612.6,205.6 612.8,205.6 613.0,205.7 613.2,205.8 613.4,205.9 613.6,206.0 613.8,206.0 614.0,206.1 614.2,206.2 614.5,206.3 614.7,206.4 614.9,206.4 615.1,206.5 615.3,206.6 615.5,206.7 615.7,206.8 615.9,206.9 616.1,206.9 616.3,207.0 616.5,207.1 616.7,207.2 616.9,207.3 617.1,207.3 617.4,207.4 617.6,207.5 617.8,207.6 618.0,207.7 618.2,207.8 618.4,207.8 618.6,207.9 618.8,208.0 619.0,208.1 619.2,208.2 619.4,208.3 619.7,208.3 619.9,208.4 620.1,208.5 620.3,208.6 620.5,208.7 620.7,208.8 620.9,208.8 621.1,208.9 621.3,209.0 621.5,209.1 621.8,209.2 622.0,209.2 622.2,209.3 622.4,209.4 622.6,209.5 622.8,209.6 623.0,209.7 623.2,209.7 623.4,209.8 623.7,209.9 623.9,210.0 624.1,210.1 624.3,210.2 624.5,210.2 624.7,210.3 624.9,210.4 625.1,210.5 625.3,210.6 625.6,210.7 625.8,210.8 626.0,210.8 626.2,210.9 626.4,211.0 626.6,211.1 626.8,211.2 627.0,211.3 627.3,211.3 627.5,211.4 627.7,211.5 627.9,211.6 628.1,211.7 628.3,211.8 628.5,211.8 628.8,211.9 629.0,212.0 629.2,212.1 629.4,212.2 629.6,212.3 629.8,212.4 630.0,212.4 630.3,212.5 630.5,212.6 630.7,212.7 630.9,212.8 631.1,212.9 631.1,212.9 553.2,182.1" fill="#bed21f" fill-opacity="0.78" stroke="none"/>
<line x1="553.2" y1="182.1" x2="631.1" y2="212.9" stroke="#bed21f" stroke-width="0.9"/>
<polygon points="544.7,185.0 544.9,185.1 545.1,185.1 545.3,185.1 545.4,185.0 545.6,184.8 545.8,184.4 545.9,183.8 546.1,183.0 546.2,181.9 546.4,180.6 546.5,179.1 546.7,177.4 546.8,175.4 546.9,173.1 547.1,170.7 547.2,168.1 547.3,165.3 547.4,162.3 547.5,159.2 547.6,156.1 547.7,152.8 547.9,149.5 548.0,146.2 548.1,142.8 548.2,139.5 548.3,136.2 548.4,132.9 548.5,129.8 548.6,126.7 548.7,123.7 548.9,120.9 549.0,118.2 549.1,115.6 549.3,113.2 549.4,110.9 549.5,108.8 549.7,106.9 549.8,105.2 550.0,103.6 550.1,102.2 550.3,101.0 550.4,100.0 550.6,99.2 550.8,98.5 551.0,98.0 551.1,97.7 551.3,97.5 551.5,97.5 551.7,97.6 551.9,97.9 552.1,98.3 552.3,98.8 552.5,99.5 552.7,100.3 552.9,101.2 553.1,102.2 553.3,103.2 553.5,104.4 553.7,105.6 553.9,107.0 554.1,108.3 554.3,109.8 554.5,111.3 554.8,112.8 555.0,114.4 555.2,116.0 555.4,117.7 555.6,119.4 555.8,121.1 556.1,122.8 556.3,124.5 556.5,126.2 556.7,127.9 556.9,129.7 557.1,131.4 557.4,133.1 557.6,134.8 557.8,136.5 558.0,138.2 558.2,139.8 558.4,141.5 558.7,143.1 558.9,144.7 559.1,146.3 559.3,147.8 559.5,149.3 559.7,150.8 559.9,152.3 560.1,153.7 560.4,155.1 560.6,156.5 560.8,157.8 561.0,159.1 561.2,160.4 561.4,161.7 561.6,162.9 561.8,164.0 562.0,165.2 562.2,166.3 562.4,167.4 562.6,168.4 562.8,169.5 563.0,170.5 563.2,171.4 563.4,172.4 563.6,173.3 563.8,174.2 564.0,175.0 564.2,175.8 564.4,176.6 564.6,177.4 564.8,178.1 565.0,178.9 565.2,179.6 565.4,180.2 565.6,180.9 565.8,181.5 566.0,182.1 566.2,182.7 566.4,183.3 566.6,183.8 566.8,184.4 567.0,184.9 567.2,185.4 567.4,185.8 567.6,186.3 567.8,186.7 568.0,187.2 568.2,187.6 568.4,188.0 568.6,188.4 568.8,188.7 568.9,189.1 569.1,189.5 569.3,189.8 569.5,190.1 569.7,190.4 569.9,190.7 570.1,191.0 570.3,191.3 570.5,191.6 570.7,191.8 570.9,192.1 571.1,192.3 571.3,192.6 571.4,192.8 571.6,193.0 571.8,193.3 572.0,193.5 572.2,193.7 572.4,193.9 572.6,194.1 572.8,194.2 573.0,194.4 573.2,194.6 573.4,194.8 573.6,194.9 573.8,195.1 573.9,195.3 574.1,195.4 574.3,195.6 574.5,195.7 574.7,195.9 574.9,196.0 575.1,196.1 575.3,196.3 575.5,196.4 575.7,196.5 575.9,196.7 576.1,196.8 576.3,196.9 576.4,197.0 576.6,197.1 576.8,197.3 577.0,197.4 577.2,197.5 577.4,197.6 577.6,197.7 577.8,197.8 578.0,197.9 578.2,198.0 578.4,198.1 578.6,198.2 578.8,198.3 579.0,198.4 579.2,198.5 579.3,198.6 579.5,198.7 579.7,198.8 579.9,198.9 580.1,199.0 580.3,199.1 580.5,199.2 580.7,199.3 580.9,199.3 581.1,199.4 581.3,199.5 581.5,199.6 581.7,199.7 581.9,199.8 582.1,199.9 582.3,200.0 582.5,200.0 582.7,200.1 582.9,200.2 583.0,200.3 583.2,200.4 583.4,200.5 583.6,200.6 583.8,200.6 584.0,200.7 584.2,200.8 584.4,200.9 584.6,201.0 584.8,201.1 585.0,201.1 585.2,201.2 585.4,201.3 585.6,201.4 585.8,201.5 586.0,201.6 586.2,201.6 586.4,201.7 586.6,201.8 586.8,201.9 587.0,202.0 587.2,202.0 587.4,202.1 587.6,202.2 587.8,202.3 588.0,202.4 588.2,202.4 588.4,202.5 588.6,202.6 588.8,202.7 589.0,202.8 589.2,202.9 589.3,202.9 589.5,203.0 589.7,203.1 589.9,203.2 590.1,203.3 590.3,203.3 590.5,203.4 590.7,203.5 590.9,203.6 591.1,203.7 591.3,203.7 591.5,203.8 591.7,203.9 591.9,204.0 592.1,204.1 592.3,204.1 592.5,204.2 592.7,204.3 592.9,204.4 593.1,204.5 593.3,204.6 593.5,204.6 593.7,204.7 593.9,204.8 594.1,204.9 594.3,205.0 594.5,205.0 594.7,205.1 594.9,205.2 595.1,205.3 595.4,205.4 595.6,205.4 595.8,205.5 596.0,205.6 596.2,205.7 596.4,205.8 596.6,205.9 596.8,205.9 597.0,206.0 597.2,206.1 597.4,206.2 597.6,206.3 597.8,206.3 598.0,206.4 598.2,206.5 598.4,206.6 598.6,206.7 598.8,206.8 599.0,206.8 599.2,206.9 599.4,207.0 599.6,207.1 599.8,207.2 600.0,207.2 600.2,207.3 600.4,207.4 600.6,207.5 600.8,207.6 601.0,207.7 601.2,207.7 601.4,207.8 601.6,207.9 601.9,208.0 602.1,208.1 602.3,208.1 602.5,208.2 602.7,208.3 602.9,208.4 603.1,208.5 603.3,208.6 603.5,208.6 603.7,208.7 603.9,208.8 604.1,208.9 604.3,209.0 604.5,209.1 604.7,209.1 604.9,209.2 605.1,209.3 605.3,209.4 605.6,209.5 605.8,209.6 606.0,209.6 606.2,209.7 606.4,209.8 606.6,209.9 606.8,210.0 607.0,210.1 607.2,210.1 607.4,210.2 607.6,210.3 607.8,210.4 608.0,210.5 608.2,210.6 608.5,210.6 608.7,210.7 608.9,210.8 609.1,210.9 609.3,211.0 609.5,211.1 609.7,211.1 609.9,211.2 610.1,211.3 610.3,211.4 610.5,211.5 610.8,211.6 611.0,211.7 611.2,211.7 611.4,211.8 611.6,211.9 611.8,212.0 612.0,212.1 612.2,212.2 612.4,212.2 612.6,212.3 612.9,212.4 613.1,212.5 613.3,212.6 613.5,212.7 613.7,212.8 613.9,212.8 614.1,212.9 614.3,213.0 614.5,213.1 614.7,213.2 615.0,213.3 615.2,213.3 615.4,213.4 615.6,213.5 615.8,213.6 616.0,213.7 616.2,213.8 616.4,213.9 616.7,213.9 616.9,214.0 617.1,214.1 617.3,214.2 617.5,214.3 617.7,214.4 617.9,214.5 618.1,214.5 618.4,214.6 618.6,214.7 618.8,214.8 619.0,214.9 619.2,215.0 619.4,215.1 619.6,215.1 619.9,215.2 620.1,215.3 620.3,215.4 620.5,215.5 620.7,215.6 620.9,215.7 621.1,215.7 621.4,215.8 621.6,215.9 621.8,216.0 622.0,216.1 622.2,216.2 622.4,216.3 622.6,216.4 622.6,216.4 544.7,185.0" fill="#d6851f" fill-opacity="0.78" stroke="none"/>
<line x1="544.7" y1="185.0" x2="622.6" y2="216.4" stroke="#d6851f" stroke-width="0.9"/>
<polygon points="536.1,187.9 535.9,171.0 535.6,155.3 535.5,141.0 535.3,128.3 535.2,117.0 535.1,107.1 535.1,98.4 535.1,90.9 535.1,84.5 535.2,79.1 535.2,74.6 535.3,71.0 535.4,68.1 535.6,66.0 535.7,64.5 535.9,63.5 536.1,63.1 536.2,63.2 536.4,63.6 536.6,64.5 536.8,65.6 537.1,67.1 537.3,68.8 537.5,70.7 537.7,72.8 538.0,75.0 538.2,77.4 538.5,79.9 538.7,82.5 539.0,85.2 539.2,87.9 539.5,90.7 539.7,93.5 539.9,96.3 540.2,99.1 540.4,101.9 540.7,104.7 540.9,107.5 541.2,110.2 541.4,112.9 541.7,115.6 541.9,118.2 542.2,120.8 542.4,123.3 542.6,125.8 542.9,128.2 543.1,130.6 543.4,132.9 543.6,135.2 543.8,137.4 544.0,139.5 544.3,141.6 544.5,143.6 544.7,145.5 545.0,147.4 545.2,149.3 545.4,151.1 545.6,152.8 545.8,154.5 546.1,156.1 546.3,157.7 546.5,159.2 546.7,160.6 546.9,162.0 547.1,163.4 547.3,164.7 547.5,166.0 547.8,167.2 548.0,168.4 548.2,169.5 548.4,170.6 548.6,171.7 548.8,172.7 549.0,173.7 549.2,174.6 549.4,175.5 549.6,176.4 549.8,177.2 550.0,178.0 550.2,178.8 550.4,179.6 550.6,180.3 550.8,181.0 551.0,181.6 551.2,182.3 551.4,182.9 551.6,183.5 551.8,184.1 552.0,184.6 552.2,185.2 552.4,185.7 552.6,186.2 552.7,186.6 552.9,187.1 553.1,187.5 553.3,188.0 553.5,188.4 553.7,188.8 553.9,189.1 554.1,189.5 554.3,189.9 554.5,190.2 554.7,190.5 554.9,190.8 555.0,191.1 555.2,191.4 555.4,191.7 555.6,192.0 555.8,192.3 556.0,192.5 556.2,192.8 556.4,193.0 556.6,193.3 556.8,193.5 556.9,193.7 557.1,193.9 557.3,194.1 557.5,194.3 557.7,194.5 557.9,194.7 558.1,194.9 558.3,195.1 558.5,195.2 558.7,195.4 558.8,195.6 559.0,195.7 559.2,195.9 559.4,196.0 559.6,196.2 559.8,196.3 560.0,196.5 560.2,196.6 560.4,196.8 560.5,196.9 560.7,197.0 560.9,197.1 561.1,197.3 561.3,197.4 561.5,197.5 561.7,197.6 561.9,197.8 562.1,197.9 562.3,198.0 562.4,198.1 562.6,198.2 562.8,198.3 563.0,198.4 563.2,198.5 563.4,198.6 563.6,198.7 563.8,198.8 564.0,198.9 564.2,199.0 564.3,199.1 564.5,199.2 564.7,199.3 564.9,199.4 565.1,199.5 565.3,199.6 565.5,199.7 565.7,199.8 565.9,199.9 566.1,200.0 566.3,200.1 566.5,200.2 566.6,200.3 566.8,200.4 567.0,200.4 567.2,200.5 567.4,200.6 567.6,200.7 567.8,200.8 568.0,200.9 568.2,201.0 568.4,201.0 568.6,201.1 568.8,201.2 568.9,201.3 569.1,201.4 569.3,201.5 569.5,201.6 569.7,201.6 569.9,201.7 570.1,201.8 570.3,201.9 570.5,202.0 570.7,202.1 570.9,202.1 571.1,202.2 571.3,202.3 571.5,202.4 571.7,202.5 571.9,202.6 572.0,202.6 572.2,202.7 572.4,202.8 572.6,202.9 572.8,203.0 573.0,203.1 573.2,203.1 573.4,203.2 573.6,203.3 573.8,203.4 574.0,203.5 574.2,203.5 574.4,203.6 574.6,203.7 574.8,203.8 575.0,203.9 575.2,203.9 575.4,204.0 575.6,204.1 575.8,204.2 575.9,204.3 576.1,204.4 576.3,204.4 576.5,204.5 576.7,204.6 576.9,204.7 577.1,204.8 577.3,204.8 577.5,204.9 577.7,205.0 577.9,205.1 578.1,205.2 578.3,205.3 578.5,205.3 578.7,205.4 578.9,205.5 579.1,205.6 579.3,205.7 579.5,205.7 579.7,205.8 579.9,205.9 580.1,206.0 580.3,206.1 580.5,206.2 580.7,206.2 580.9,206.3 581.1,206.4 581.3,206.5 581.5,206.6 581.7,206.6 581.9,206.7 582.1,206.8 582.3,206.9 582.5,207.0 582.7,207.1 582.9,207.1 583.1,207.2 583.3,207.3 583.5,207.4 583.7,207.5 583.9,207.5 584.1,207.6 584.3,207.7 584.5,207.8 584.7,207.9 584.9,208.0 585.1,208.0 585.3,208.1 585.5,208.2 585.7,208.3 585.9,208.4 586.1,208.5 586.3,208.5 586.5,208.6 586.7,208.7 586.9,208.8 587.1,208.9 587.3,209.0 587.5,209.0 587.7,209.1 587.9,209.2 588.1,209.3 588.3,209.4 588.5,209.5 588.7,209.5 588.9,209.6 589.1,209.7 589.3,209.8 589.5,209.9 589.7,210.0 589.9,210.0 590.1,210.1 590.3,210.2 590.5,210.3 590.7,210.4 590.9,210.5 591.1,210.5 591.3,210.6 591.5,210.7 591.8,210.8 592.0,210.9 592.2,211.0 592.4,211.0 592.6,211.1 592.8,211.2 593.0,211.3 593.2,211.4 593.4,211.5 593.6,211.5 593.8,211.6 594.0,211.7 594.2,211.8 594.4,211.9 594.6,212.0 594.8,212.1 595.0,212.1 595.2,212.2 595.4,212.3 595.6,212.4 595.9,212.5 596.1,212.6 596.3,212.6 596.5,212.7 596.7,212.8 596.9,212.9 597.1,213.0 597.3,213.1 597.5,213.2 597.7,213.2 597.9,213.3 598.1,213.4 598.3,213.5 598.5,213.6 598.8,213.7 599.0,213.8 599.2,213.8 599.4,213.9 599.6,214.0 599.8,214.1 600.0,214.2 600.2,214.3 600.4,214.3 600.6,214.4 600.8,214.5 601.0,214.6 601.3,214.7 601.5,214.8 601.7,214.9 601.9,215.0 602.1,215.0 602.3,215.1 602.5,215.2 602.7,215.3 602.9,215.4 603.1,215.5 603.3,215.6 603.6,215.6 603.8,215.7 604.0,215.8 604.2,215.9 604.4,216.0 604.6,216.1 604.8,216.2 605.0,216.2 605.2,216.3 605.4,216.4 605.7,216.5 605.9,216.6 606.1,216.7 606.3,216.8 606.5,216.9 606.7,216.9 606.9,217.0 607.1,217.1 607.4,217.2 607.6,217.3 607.8,217.4 608.0,217.5 608.2,217.6 608.4,217.6 608.6,217.7 608.8,217.8 609.1,217.9 609.3,218.0 609.5,218.1 609.7,218.2 609.9,218.3 610.1,218.3 610.3,218.4 610.5,218.5 610.8,218.6 611.0,218.7 611.2,218.8 611.4,218.9 611.6,219.0 611.8,219.0 612.0,219.1 612.3,219.2 612.5,219.3 612.7,219.4 612.9,219.5 613.1,219.6 613.3,219.7 613.6,219.7 613.8,219.8 614.0,219.9 614.0,219.9 536.1,187.9" fill="#d52631" fill-opacity="0.78" stroke="none"/>
<line x1="536.1" y1="187.9" x2="614.0" y2="219.9" stroke="#d52631" stroke-width="0.9"/>
<line x1="527.3" y1="190.9" x2="615.9" y2="228.1" stroke="#333" stroke-width="0.8"/>
<line x1="615.9" y1="228.1" x2="703.5" y2="191.0" stroke="#333" stroke-width="0.8"/>
<text font-size="10.60" font-weight="bold" textLength="12.0" lengthAdjust="spacingAndGlyphs" x="496.7" y="9.3" fill="#000">(c)</text>
<text font-size="11.20" font-weight="bold" textLength="166.1" lengthAdjust="spacingAndGlyphs" x="532.5" y="9.9" fill="#000">Pdfs of Length Growth Rate <tspan font-style="italic">k</tspan></text>
<text font-size="10.00" textLength="182.1" lengthAdjust="spacingAndGlyphs" x="523.9" y="24.0" fill="#000">Gamma fitted distributions per Generation</text>
<text font-size="8.50" font-weight="bold" text-anchor="middle" textLength="74.0" lengthAdjust="spacingAndGlyphs" transform="translate(515.9,123.0) rotate(-90.0)" fill="#000">Probability Density</text>
<text font-size="8.00" font-weight="bold" text-anchor="middle" textLength="10.0" lengthAdjust="spacingAndGlyphs" transform="translate(532.3,53.3) rotate(-7.0)" fill="#000">1.5</text>
<text font-size="8.00" font-weight="bold" text-anchor="middle" textLength="4.0" lengthAdjust="spacingAndGlyphs" transform="translate(529.9,100.7) rotate(-7.0)" fill="#000">1</text>
<text font-size="8.00" font-weight="bold" text-anchor="middle" textLength="10.0" lengthAdjust="spacingAndGlyphs" transform="translate(534.0,147.7) rotate(-7.0)" fill="#000">0.5</text>
<text font-size="9.20" font-weight="bold" text-anchor="middle" textLength="4.4" lengthAdjust="spacingAndGlyphs" transform="translate(522.8,196.4) rotate(20.0) skewX(-10.0)" fill="#000">0</text>
<text font-size="9.20" font-weight="bold" text-anchor="middle" textLength="4.4" lengthAdjust="spacingAndGlyphs" transform="translate(534.7,201.1) rotate(20.0) skewX(-10.0)" fill="#000">1</text>
<text font-size="9.20" font-weight="bold" text-anchor="middle" textLength="4.4" lengthAdjust="spacingAndGlyphs" transform="translate(545.9,206.6) rotate(20.0) skewX(-10.0)" fill="#000">2</text>
<text font-size="9.20" font-weight="bold" text-anchor="middle" textLength="4.4" lengthAdjust="spacingAndGlyphs" transform="translate(558.1,211.9) rotate(20.0) skewX(-10.0)" fill="#000">3</text>
<text font-size="9.20" font-weight="bold" text-anchor="middle" textLength="4.4" lengthAdjust="spacingAndGlyphs" transform="translate(571.0,217.1) rotate(20.0) skewX(-10.0)" fill="#000">4</text>
<text font-size="9.20" font-weight="bold" text-anchor="middle" textLength="4.4" lengthAdjust="spacingAndGlyphs" transform="translate(583.6,222.6) rotate(20.0) skewX(-10.0)" fill="#000">5</text>
<text font-size="9.20" font-weight="bold" text-anchor="middle" textLength="4.4" lengthAdjust="spacingAndGlyphs" transform="translate(596.8,228.6) rotate(20.0) skewX(-10.0)" fill="#000">6</text>
<text font-size="9.20" font-weight="bold" text-anchor="middle" textLength="4.4" lengthAdjust="spacingAndGlyphs" transform="translate(609.9,234.5) rotate(20.0) skewX(-10.0)" fill="#000">7</text>
<text font-size="8.80" font-weight="bold" text-anchor="middle" textLength="93.0" lengthAdjust="spacingAndGlyphs" transform="translate(550.2,220.0) rotate(26.3) skewX(-6.0)" fill="#000">Length Growth Rate (μm/h)</text>
<text font-size="6.20" font-weight="bold" text-anchor="middle" transform="translate(626.6,230.8) rotate(-10.0) skewX(-8.0)" fill="#000">0</text>
<text font-size="6.20" font-weight="bold" text-anchor="middle" transform="translate(635.0,227.7) rotate(-10.0) skewX(-8.0)" fill="#000">1</text>
<text font-size="6.20" font-weight="bold" text-anchor="middle" transform="translate(643.3,224.1) rotate(-10.0) skewX(-8.0)" fill="#000">2</text>
<text font-size="6.20" font-weight="bold" text-anchor="middle" transform="translate(651.4,220.5) rotate(-10.0) skewX(-8.0)" fill="#000">3</text>
<text font-size="6.20" font-weight="bold" text-anchor="middle" transform="translate(659.3,216.9) rotate(-10.0) skewX(-8.0)" fill="#000">4</text>
<text font-size="6.20" font-weight="bold" text-anchor="middle" transform="translate(667.2,213.4) rotate(-10.0) skewX(-8.0)" fill="#000">5</text>
<text font-size="6.20" font-weight="bold" text-anchor="middle" transform="translate(674.8,210.3) rotate(-10.0) skewX(-8.0)" fill="#000">6</text>
<text font-size="6.20" font-weight="bold" text-anchor="middle" transform="translate(682.7,206.9) rotate(-10.0) skewX(-8.0)" fill="#000">7</text>
<text font-size="6.20" font-weight="bold" text-anchor="middle" transform="translate(690.4,203.8) rotate(-10.0) skewX(-8.0)" fill="#000">8</text>
<text font-size="6.20" font-weight="bold" text-anchor="middle" transform="translate(697.5,200.7) rotate(-10.0) skewX(-8.0)" fill="#000">9</text>
<text font-size="8.70" font-weight="bold" text-anchor="middle" textLength="40.0" lengthAdjust="spacingAndGlyphs" transform="translate(670.4,231.1) rotate(-21.0)" fill="#000">Generation</text>
</svg></body></html>
